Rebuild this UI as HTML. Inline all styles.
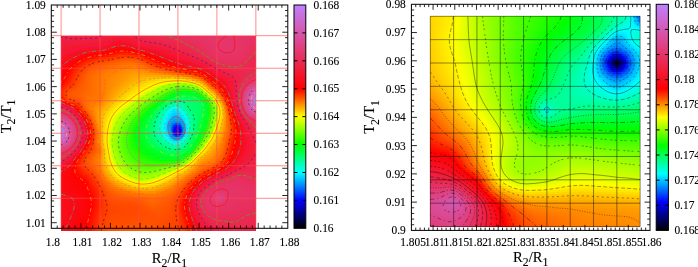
<!DOCTYPE html>
<html><head><meta charset="utf-8"><title>plot</title>
<style>html,body{margin:0;padding:0;background:#fff}svg{display:block}text{font-family:"Liberation Serif","Times New Roman",serif;font-size:12.2px;fill:#000;stroke:#000;stroke-width:.12px}</style>
</head><body>
<svg width="698" height="267" viewBox="0 0 698 267">
<defs>
<linearGradient id="a0" gradientUnits="userSpaceOnUse" x1="61.1" x2="255.85"><stop offset="0" stop-color="#ef2141"/><stop offset=".203" stop-color="#ef2041"/><stop offset=".311" stop-color="#f11c37"/><stop offset=".47" stop-color="#eb2850"/><stop offset=".768" stop-color="#e5356a"/><stop offset=".945" stop-color="#e63367"/><stop offset="1" stop-color="#e73263"/></linearGradient>
<linearGradient id="a1" gradientUnits="userSpaceOnUse" x1="61.1" x2="255.85"><stop offset="0" stop-color="#ef2040"/><stop offset=".213" stop-color="#f01f3e"/><stop offset=".308" stop-color="#f31931"/><stop offset=".452" stop-color="#ec264b"/><stop offset=".775" stop-color="#e5356a"/><stop offset=".927" stop-color="#e53468"/><stop offset="1" stop-color="#e73162"/></linearGradient>
<linearGradient id="a2" gradientUnits="userSpaceOnUse" x1="61.1" x2="255.85"><stop offset="0" stop-color="#f01f3e"/><stop offset=".213" stop-color="#f01e3b"/><stop offset=".298" stop-color="#f4152b"/><stop offset=".359" stop-color="#f21a33"/><stop offset=".429" stop-color="#ee2245"/><stop offset=".642" stop-color="#e82e5b"/><stop offset=".788" stop-color="#e5356a"/><stop offset=".924" stop-color="#e53468"/><stop offset="1" stop-color="#e73060"/></linearGradient>
<linearGradient id="a3" gradientUnits="userSpaceOnUse" x1="61.1" x2="255.85"><stop offset="0" stop-color="#f01e3d"/><stop offset=".185" stop-color="#f11d3a"/><stop offset=".228" stop-color="#f21a33"/><stop offset=".295" stop-color="#f61224"/><stop offset=".352" stop-color="#f5152a"/><stop offset=".421" stop-color="#ef203f"/><stop offset=".603" stop-color="#eb2952"/><stop offset=".775" stop-color="#e53569"/><stop offset=".922" stop-color="#e53468"/><stop offset="1" stop-color="#e82f5e"/></linearGradient>
<linearGradient id="a4" gradientUnits="userSpaceOnUse" x1="61.1" x2="255.85"><stop offset="0" stop-color="#f01e3b"/><stop offset=".169" stop-color="#f21a34"/><stop offset=".213" stop-color="#f31933"/><stop offset=".288" stop-color="#f80f1d"/><stop offset=".347" stop-color="#f71020"/><stop offset=".418" stop-color="#f11c39"/><stop offset=".552" stop-color="#ee2346"/><stop offset=".78" stop-color="#e53569"/><stop offset=".911" stop-color="#e53569"/><stop offset="1" stop-color="#e82e5d"/></linearGradient>
<linearGradient id="a5" gradientUnits="userSpaceOnUse" x1="61.1" x2="255.85"><stop offset="0" stop-color="#f11d39"/><stop offset=".108" stop-color="#f31830"/><stop offset=".182" stop-color="#f4172e"/><stop offset=".218" stop-color="#f5152a"/><stop offset=".29" stop-color="#fa0a15"/><stop offset=".344" stop-color="#f90c17"/><stop offset=".418" stop-color="#f31830"/><stop offset=".573" stop-color="#ee2345"/><stop offset=".793" stop-color="#e5356a"/><stop offset=".911" stop-color="#e53469"/><stop offset="1" stop-color="#e92e5b"/></linearGradient>
<linearGradient id="a6" gradientUnits="userSpaceOnUse" x1="61.1" x2="255.85"><stop offset="0" stop-color="#f11c37"/><stop offset=".103" stop-color="#f4152b"/><stop offset=".175" stop-color="#f61325"/><stop offset=".218" stop-color="#f71121"/><stop offset=".298" stop-color="#fc060c"/><stop offset=".354" stop-color="#fb0810"/><stop offset=".429" stop-color="#f51327"/><stop offset=".801" stop-color="#e5356a"/><stop offset=".909" stop-color="#e53569"/><stop offset="1" stop-color="#e92d59"/></linearGradient>
<linearGradient id="a7" gradientUnits="userSpaceOnUse" x1="61.1" x2="255.85"><stop offset="0" stop-color="#f21a35"/><stop offset=".095" stop-color="#f61326"/><stop offset=".172" stop-color="#f80e1b"/><stop offset=".234" stop-color="#fa0a13"/><stop offset=".308" stop-color="#fe0203"/><stop offset=".362" stop-color="#fd0409"/><stop offset=".539" stop-color="#f21a34"/><stop offset=".806" stop-color="#e5356a"/><stop offset=".906" stop-color="#e53569"/><stop offset="1" stop-color="#ea2c57"/></linearGradient>
<linearGradient id="a8" gradientUnits="userSpaceOnUse" x1="61.1" x2="255.85"><stop offset="0" stop-color="#f31932"/><stop offset=".1" stop-color="#f80f1e"/><stop offset=".185" stop-color="#fb0810"/><stop offset=".27" stop-color="#ff0001"/><stop offset=".318" stop-color="#ff0e00"/><stop offset=".352" stop-color="#ff0800"/><stop offset=".37" stop-color="#ff0001"/><stop offset=".639" stop-color="#ee2345"/><stop offset=".814" stop-color="#e5356a"/><stop offset=".917" stop-color="#e63467"/><stop offset="1" stop-color="#ea2b55"/></linearGradient>
<linearGradient id="a9" gradientUnits="userSpaceOnUse" x1="61.1" x2="255.85"><stop offset="0" stop-color="#f3182f"/><stop offset=".11" stop-color="#fa0a13"/><stop offset=".211" stop-color="#fe0204"/><stop offset=".244" stop-color="#ff0300"/><stop offset=".298" stop-color="#ff2000"/><stop offset=".341" stop-color="#ff2300"/><stop offset=".406" stop-color="#ff0700"/><stop offset=".416" stop-color="#ff0101"/><stop offset=".534" stop-color="#f61326"/><stop offset=".809" stop-color="#e53468"/><stop offset=".911" stop-color="#e63467"/><stop offset="1" stop-color="#ea2a53"/></linearGradient>
<linearGradient id="a10" gradientUnits="userSpaceOnUse" x1="61.1" x2="255.85"><stop offset="0" stop-color="#f4162b"/><stop offset=".162" stop-color="#f00"/><stop offset=".2" stop-color="#ff0e00"/><stop offset=".246" stop-color="#ff1b00"/><stop offset=".308" stop-color="#ff3500"/><stop offset=".357" stop-color="#ff3500"/><stop offset=".406" stop-color="#ff2100"/><stop offset=".436" stop-color="#f00"/><stop offset=".616" stop-color="#f21a35"/><stop offset=".75" stop-color="#ea2c57"/><stop offset=".816" stop-color="#e63467"/><stop offset=".917" stop-color="#e63365"/><stop offset="1" stop-color="#eb2951"/></linearGradient>
<linearGradient id="a11" gradientUnits="userSpaceOnUse" x1="61.1" x2="255.85"><stop offset="0" stop-color="#f51427"/><stop offset=".128" stop-color="#ff0200"/><stop offset=".193" stop-color="#ff2300"/><stop offset=".257" stop-color="#f30"/><stop offset=".318" stop-color="#ff4800"/><stop offset=".37" stop-color="#ff4600"/><stop offset=".406" stop-color="#ff3700"/><stop offset=".46" stop-color="#f00"/><stop offset=".639" stop-color="#f21a34"/><stop offset=".742" stop-color="#eb284f"/><stop offset=".809" stop-color="#e73263"/><stop offset=".917" stop-color="#e73263"/><stop offset="1" stop-color="#eb284f"/></linearGradient>
<linearGradient id="a12" gradientUnits="userSpaceOnUse" x1="61.1" x2="255.85"><stop offset="0" stop-color="#f61223"/><stop offset=".105" stop-color="#ff0200"/><stop offset=".149" stop-color="#f20"/><stop offset=".208" stop-color="#ff3900"/><stop offset=".277" stop-color="#ff4b00"/><stop offset=".339" stop-color="#ff5900"/><stop offset=".385" stop-color="#ff5400"/><stop offset=".418" stop-color="#ff4000"/><stop offset=".483" stop-color="#ff0001"/><stop offset=".655" stop-color="#f31830"/><stop offset=".747" stop-color="#ec264b"/><stop offset=".806" stop-color="#e8305f"/><stop offset=".904" stop-color="#e73162"/><stop offset="1" stop-color="#ec274e"/></linearGradient>
<linearGradient id="a13" gradientUnits="userSpaceOnUse" x1="61.1" x2="255.85"><stop offset="0" stop-color="#f70f1f"/><stop offset=".087" stop-color="#f00"/><stop offset=".128" stop-color="#ff2500"/><stop offset=".187" stop-color="#f40"/><stop offset=".295" stop-color="#ff5e00"/><stop offset=".362" stop-color="#ff6800"/><stop offset=".406" stop-color="#ff5b00"/><stop offset=".478" stop-color="#ff1a00"/><stop offset=".508" stop-color="#ff0001"/><stop offset=".662" stop-color="#f5152a"/><stop offset=".737" stop-color="#ef2040"/><stop offset=".806" stop-color="#e92d5a"/><stop offset=".901" stop-color="#e82f5f"/><stop offset=".999" stop-color="#ec274e"/><stop offset="1" stop-color="#ec274e"/></linearGradient>
<linearGradient id="a14" gradientUnits="userSpaceOnUse" x1="61.1" x2="255.85"><stop offset="0" stop-color="#f80d1b"/><stop offset=".074" stop-color="#ff0200"/><stop offset=".128" stop-color="#f30"/><stop offset=".185" stop-color="#ff5000"/><stop offset=".354" stop-color="#ff7400"/><stop offset=".395" stop-color="#ff6e00"/><stop offset=".436" stop-color="#ff5400"/><stop offset=".537" stop-color="#ff0001"/><stop offset=".67" stop-color="#f61223"/><stop offset=".737" stop-color="#f11c38"/><stop offset=".814" stop-color="#ea2b56"/><stop offset=".904" stop-color="#e92d5b"/><stop offset=".999" stop-color="#ec274e"/><stop offset="1" stop-color="#ec274e"/></linearGradient>
<linearGradient id="a15" gradientUnits="userSpaceOnUse" x1="61.1" x2="255.85"><stop offset="0" stop-color="#f90c17"/><stop offset=".062" stop-color="#ff0200"/><stop offset=".126" stop-color="#ff3d00"/><stop offset=".187" stop-color="#ff5b00"/><stop offset=".365" stop-color="#ff7f00"/><stop offset=".408" stop-color="#ff7600"/><stop offset=".478" stop-color="#ff4500"/><stop offset=".565" stop-color="#f00"/><stop offset=".727" stop-color="#f5152a"/><stop offset=".811" stop-color="#ec284f"/><stop offset=".893" stop-color="#e92c57"/><stop offset=".996" stop-color="#ec284f"/><stop offset="1" stop-color="#eb284f"/></linearGradient>
<linearGradient id="a16" gradientUnits="userSpaceOnUse" x1="61.1" x2="255.85"><stop offset="0" stop-color="#fa0a14"/><stop offset=".049" stop-color="#f00"/><stop offset=".116" stop-color="#ff3f00"/><stop offset=".172" stop-color="#ff5e00"/><stop offset=".37" stop-color="#f80"/><stop offset=".413" stop-color="#ff8100"/><stop offset=".544" stop-color="#ff2b00"/><stop offset=".601" stop-color="#ff0001"/><stop offset=".721" stop-color="#f80f1d"/><stop offset=".804" stop-color="#ee2346"/><stop offset=".883" stop-color="#eb2a53"/><stop offset=".999" stop-color="#eb2850"/><stop offset="1" stop-color="#eb2851"/></linearGradient>
<linearGradient id="a17" gradientUnits="userSpaceOnUse" x1="61.1" x2="255.85"><stop offset="0" stop-color="#fb0811"/><stop offset=".041" stop-color="#ff0100"/><stop offset=".1" stop-color="#ff3a00"/><stop offset=".157" stop-color="#ff5f00"/><stop offset=".226" stop-color="#ff7200"/><stop offset=".336" stop-color="#ff8a00"/><stop offset=".393" stop-color="#ff9100"/><stop offset=".436" stop-color="#ff8300"/><stop offset=".555" stop-color="#ff4100"/><stop offset=".652" stop-color="#ff0001"/><stop offset=".721" stop-color="#fa0913"/><stop offset=".809" stop-color="#ef2040"/><stop offset=".883" stop-color="#ec274e"/><stop offset=".994" stop-color="#eb2951"/><stop offset="1" stop-color="#eb2953"/></linearGradient>
<linearGradient id="a18" gradientUnits="userSpaceOnUse" x1="61.1" x2="255.85"><stop offset="0" stop-color="#fc070e"/><stop offset=".036" stop-color="#ff0200"/><stop offset=".09" stop-color="#ff3900"/><stop offset=".146" stop-color="#ff5f00"/><stop offset=".208" stop-color="#ff7400"/><stop offset=".318" stop-color="#ff8a00"/><stop offset=".39" stop-color="#ff9a00"/><stop offset=".442" stop-color="#ff8e00"/><stop offset=".549" stop-color="#ff6300"/><stop offset=".66" stop-color="#ff1d00"/><stop offset=".706" stop-color="#ff0101"/><stop offset=".806" stop-color="#f11c37"/><stop offset=".881" stop-color="#ed254a"/><stop offset=".994" stop-color="#ea2a53"/><stop offset="1" stop-color="#ea2b55"/></linearGradient>
<linearGradient id="a19" gradientUnits="userSpaceOnUse" x1="61.1" x2="255.85"><stop offset="0" stop-color="#fc060b"/><stop offset=".028" stop-color="#f00"/><stop offset=".085" stop-color="#ff3a00"/><stop offset=".141" stop-color="#ff6100"/><stop offset=".205" stop-color="#f70"/><stop offset=".318" stop-color="#ff8e00"/><stop offset=".39" stop-color="#ffa100"/><stop offset=".447" stop-color="#ff9b00"/><stop offset=".552" stop-color="#ff8200"/><stop offset=".634" stop-color="#ff5800"/><stop offset=".709" stop-color="#ff1d00"/><stop offset=".729" stop-color="#ff0001"/><stop offset=".804" stop-color="#f4172f"/><stop offset=".883" stop-color="#ee2346"/><stop offset=".994" stop-color="#ea2c57"/><stop offset="1" stop-color="#e92d59"/></linearGradient>
<linearGradient id="a20" gradientUnits="userSpaceOnUse" x1="61.1" x2="255.85"><stop offset="0" stop-color="#fd0509"/><stop offset=".023" stop-color="#f00"/><stop offset=".08" stop-color="#ff3a00"/><stop offset=".134" stop-color="#ff6000"/><stop offset=".198" stop-color="#ff7800"/><stop offset=".311" stop-color="#ff8f00"/><stop offset=".395" stop-color="#ffa900"/><stop offset=".542" stop-color="#ffa500"/><stop offset=".611" stop-color="#ff9100"/><stop offset=".665" stop-color="#ff6a00"/><stop offset=".709" stop-color="#ff4100"/><stop offset=".734" stop-color="#ff1300"/><stop offset=".742" stop-color="#ff0200"/><stop offset=".809" stop-color="#f51529"/><stop offset=".891" stop-color="#e24"/><stop offset=".999" stop-color="#e82f5d"/><stop offset="1" stop-color="#e82f5e"/></linearGradient>
<linearGradient id="a21" gradientUnits="userSpaceOnUse" x1="61.1" x2="255.85"><stop offset="0" stop-color="#fd0407"/><stop offset=".018" stop-color="#f00"/><stop offset=".085" stop-color="#ff4300"/><stop offset=".141" stop-color="#f60"/><stop offset=".216" stop-color="#ff7d00"/><stop offset=".311" stop-color="#ff9200"/><stop offset=".401" stop-color="#ffb100"/><stop offset=".501" stop-color="#ffc000"/><stop offset=".567" stop-color="#ffc500"/><stop offset=".616" stop-color="#fb0"/><stop offset=".665" stop-color="#ff9500"/><stop offset=".709" stop-color="#f60"/><stop offset=".737" stop-color="#ff2e00"/><stop offset=".755" stop-color="#ff0200"/><stop offset=".822" stop-color="#f51427"/><stop offset=".919" stop-color="#ed2549"/><stop offset="1" stop-color="#e63264"/></linearGradient>
<linearGradient id="a22" gradientUnits="userSpaceOnUse" x1="61.1" x2="255.85"><stop offset="0" stop-color="#fe0205"/><stop offset=".015" stop-color="#ff0300"/><stop offset=".08" stop-color="#ff4200"/><stop offset=".131" stop-color="#ff6300"/><stop offset=".211" stop-color="#ff7d00"/><stop offset=".313" stop-color="#ff9600"/><stop offset=".411" stop-color="#fb0"/><stop offset=".483" stop-color="#ffd000"/><stop offset=".542" stop-color="#ffe600"/><stop offset=".603" stop-color="#ffed00"/><stop offset=".634" stop-color="#ffe000"/><stop offset=".701" stop-color="#ff9a00"/><stop offset=".724" stop-color="#ff6f00"/><stop offset=".768" stop-color="#ff0200"/><stop offset=".858" stop-color="#f31931"/><stop offset="1" stop-color="#e4366c"/></linearGradient>
<linearGradient id="a23" gradientUnits="userSpaceOnUse" x1="61.1" x2="255.85"><stop offset="0" stop-color="#fe0103"/><stop offset=".01" stop-color="#ff0500"/><stop offset=".077" stop-color="#f40"/><stop offset=".128" stop-color="#ff6300"/><stop offset=".216" stop-color="#ff7e00"/><stop offset=".308" stop-color="#ff9800"/><stop offset=".434" stop-color="#fc0"/><stop offset=".485" stop-color="#ffe500"/><stop offset=".526" stop-color="#feff00"/><stop offset=".601" stop-color="#e3ff00"/><stop offset=".632" stop-color="#ebff00"/><stop offset=".657" stop-color="#fffc00"/><stop offset=".703" stop-color="#ffc200"/><stop offset=".724" stop-color="#ff9700"/><stop offset=".77" stop-color="#ff1a00"/><stop offset=".783" stop-color="#ff0001"/><stop offset=".899" stop-color="#ef2040"/><stop offset="1" stop-color="#e23c77"/></linearGradient>
<linearGradient id="a24" gradientUnits="userSpaceOnUse" x1="61.1" x2="255.85"><stop offset="0" stop-color="#ff0100"/><stop offset=".036" stop-color="#ff2700"/><stop offset=".098" stop-color="#ff5600"/><stop offset=".18" stop-color="#ff7500"/><stop offset=".298" stop-color="#ff9700"/><stop offset=".467" stop-color="#ffeb00"/><stop offset=".493" stop-color="#fdff00"/><stop offset=".56" stop-color="#caff00"/><stop offset=".608" stop-color="#b3ff00"/><stop offset=".637" stop-color="#bf0"/><stop offset=".668" stop-color="#dbff00"/><stop offset=".696" stop-color="#ff0"/><stop offset=".716" stop-color="#ffd600"/><stop offset=".765" stop-color="#ff4500"/><stop offset=".796" stop-color="#f00"/><stop offset=".955" stop-color="#e63365"/><stop offset="1" stop-color="#de4386"/></linearGradient>
<linearGradient id="a25" gradientUnits="userSpaceOnUse" x1="61.1" x2="255.85"><stop offset="0" stop-color="#ff0a00"/><stop offset=".031" stop-color="#ff2d00"/><stop offset=".098" stop-color="#ff5900"/><stop offset=".18" stop-color="#ff7400"/><stop offset=".277" stop-color="#ff9200"/><stop offset=".421" stop-color="#fd0"/><stop offset=".472" stop-color="#fcff00"/><stop offset=".557" stop-color="#a8ff00"/><stop offset=".601" stop-color="#87ff00"/><stop offset=".626" stop-color="#83ff00"/><stop offset=".655" stop-color="#94ff00"/><stop offset=".693" stop-color="#c5ff00"/><stop offset=".714" stop-color="#f2ff00"/><stop offset=".719" stop-color="#fffd00"/><stop offset=".76" stop-color="#ff7200"/><stop offset=".788" stop-color="#ff2c00"/><stop offset=".809" stop-color="#ff0100"/><stop offset=".942" stop-color="#e73161"/><stop offset=".988" stop-color="#dc488f"/><stop offset="1" stop-color="#da4c97"/></linearGradient>
<linearGradient id="a26" gradientUnits="userSpaceOnUse" x1="61.1" x2="255.85"><stop offset="0" stop-color="#ff1400"/><stop offset=".026" stop-color="#f30"/><stop offset=".085" stop-color="#ff5700"/><stop offset=".175" stop-color="#ff7200"/><stop offset=".246" stop-color="#f80"/><stop offset=".344" stop-color="#ffb900"/><stop offset=".439" stop-color="#fff800"/><stop offset=".454" stop-color="#f9ff00"/><stop offset=".508" stop-color="#bdff00"/><stop offset=".591" stop-color="#62ff00"/><stop offset=".619" stop-color="#52ff00"/><stop offset=".65" stop-color="#5aff00"/><stop offset=".68" stop-color="#7aff00"/><stop offset=".701" stop-color="#9fff00"/><stop offset=".716" stop-color="#c9ff00"/><stop offset=".729" stop-color="#f9ff00"/><stop offset=".734" stop-color="#fff100"/><stop offset=".755" stop-color="#ffa300"/><stop offset=".783" stop-color="#ff5600"/><stop offset=".819" stop-color="#ff0200"/><stop offset=".929" stop-color="#e82e5b"/><stop offset=".963" stop-color="#df4283"/><stop offset=".988" stop-color="#d751a1"/><stop offset="1" stop-color="#d554a8"/></linearGradient>
<linearGradient id="a27" gradientUnits="userSpaceOnUse" x1="61.1" x2="255.85"><stop offset="0" stop-color="#ff1c00"/><stop offset=".026" stop-color="#ff3e00"/><stop offset=".067" stop-color="#ff5400"/><stop offset=".167" stop-color="#ff7000"/><stop offset=".228" stop-color="#ff8100"/><stop offset=".344" stop-color="#ffc000"/><stop offset=".431" stop-color="#fdff00"/><stop offset=".485" stop-color="#c2ff00"/><stop offset=".591" stop-color="#3aff00"/><stop offset=".616" stop-color="#26ff00"/><stop offset=".647" stop-color="#27ff00"/><stop offset=".675" stop-color="#3dff00"/><stop offset=".696" stop-color="#5eff00"/><stop offset=".714" stop-color="#8fff00"/><stop offset=".732" stop-color="#d7ff00"/><stop offset=".739" stop-color="#f9ff00"/><stop offset=".745" stop-color="#fe0"/><stop offset=".763" stop-color="#ffaf00"/><stop offset=".827" stop-color="#ff0400"/><stop offset=".837" stop-color="#fd0408"/><stop offset=".922" stop-color="#e92c58"/><stop offset=".963" stop-color="#db4890"/><stop offset=".983" stop-color="#d556ac"/><stop offset="1" stop-color="#d25cb7"/></linearGradient>
<linearGradient id="a28" gradientUnits="userSpaceOnUse" x1="61.1" x2="255.85"><stop offset="0" stop-color="#ff2100"/><stop offset=".021" stop-color="#ff4100"/><stop offset=".051" stop-color="#f50"/><stop offset=".167" stop-color="#ff7000"/><stop offset=".221" stop-color="#ff7e00"/><stop offset=".341" stop-color="#ffc700"/><stop offset=".413" stop-color="#fdff00"/><stop offset=".47" stop-color="#bfff00"/><stop offset=".596" stop-color="#0eff00"/><stop offset=".614" stop-color="#00ff01"/><stop offset=".647" stop-color="#00ff05"/><stop offset=".665" stop-color="#03ff00"/><stop offset=".691" stop-color="#21ff00"/><stop offset=".709" stop-color="#4aff00"/><stop offset=".724" stop-color="#84ff00"/><stop offset=".75" stop-color="#f9ff00"/><stop offset=".755" stop-color="#fff200"/><stop offset=".834" stop-color="#ff0200"/><stop offset=".909" stop-color="#ec264c"/><stop offset=".95" stop-color="#de4386"/><stop offset=".981" stop-color="#d25ab4"/><stop offset="1" stop-color="#cf62c3"/></linearGradient>
<linearGradient id="a29" gradientUnits="userSpaceOnUse" x1="61.1" x2="255.85"><stop offset="0" stop-color="#ff2100"/><stop offset=".021" stop-color="#f40"/><stop offset=".044" stop-color="#ff5600"/><stop offset=".162" stop-color="#ff7000"/><stop offset=".211" stop-color="#ff7a00"/><stop offset=".293" stop-color="#ffae00"/><stop offset=".372" stop-color="#ffe900"/><stop offset=".398" stop-color="#fcff00"/><stop offset=".452" stop-color="#c0ff00"/><stop offset=".526" stop-color="#52ff00"/><stop offset=".58" stop-color="#0f0"/><stop offset=".611" stop-color="#0f2"/><stop offset=".647" stop-color="#00ff29"/><stop offset=".673" stop-color="#00ff1e"/><stop offset=".693" stop-color="#00ff08"/><stop offset=".701" stop-color="#06ff00"/><stop offset=".714" stop-color="#29ff00"/><stop offset=".732" stop-color="#72ff00"/><stop offset=".755" stop-color="#d7ff00"/><stop offset=".765" stop-color="#fdff00"/><stop offset=".84" stop-color="#ff0500"/><stop offset=".845" stop-color="#fe0204"/><stop offset=".911" stop-color="#eb2850"/><stop offset=".978" stop-color="#d15db8"/><stop offset="1" stop-color="#cd66cc"/></linearGradient>
<linearGradient id="a30" gradientUnits="userSpaceOnUse" x1="61.1" x2="255.85"><stop offset="0" stop-color="#ff1800"/><stop offset=".018" stop-color="#ff3d00"/><stop offset=".039" stop-color="#ff5400"/><stop offset=".095" stop-color="#ff6000"/><stop offset=".154" stop-color="#ff7100"/><stop offset=".208" stop-color="#ff7900"/><stop offset=".308" stop-color="#ffc100"/><stop offset=".372" stop-color="#fff600"/><stop offset=".385" stop-color="#faff00"/><stop offset=".444" stop-color="#b4ff00"/><stop offset=".511" stop-color="#4fff00"/><stop offset=".56" stop-color="#00ff01"/><stop offset=".598" stop-color="#00ff35"/><stop offset=".624" stop-color="#0f4"/><stop offset=".665" stop-color="#00ff41"/><stop offset=".696" stop-color="#00ff29"/><stop offset=".709" stop-color="#00ff12"/><stop offset=".714" stop-color="#00ff03"/><stop offset=".724" stop-color="#20ff00"/><stop offset=".778" stop-color="#feff00"/><stop offset=".845" stop-color="#ff0700"/><stop offset=".847" stop-color="#ff0001"/><stop offset=".909" stop-color="#ec264c"/><stop offset=".97" stop-color="#d25bb5"/><stop offset="1" stop-color="#cb6bd4"/></linearGradient>
<linearGradient id="a31" gradientUnits="userSpaceOnUse" x1="61.1" x2="255.85"><stop offset="0" stop-color="#ff0600"/><stop offset=".023" stop-color="#ff3b00"/><stop offset=".041" stop-color="#ff5000"/><stop offset=".085" stop-color="#ff5700"/><stop offset=".139" stop-color="#ff7100"/><stop offset=".203" stop-color="#ff7900"/><stop offset=".257" stop-color="#ffa000"/><stop offset=".365" stop-color="#fffc00"/><stop offset=".424" stop-color="#baff00"/><stop offset=".485" stop-color="#5fff00"/><stop offset=".539" stop-color="#01ff00"/><stop offset=".591" stop-color="#00ff4a"/><stop offset=".616" stop-color="#00ff5c"/><stop offset=".665" stop-color="#00ff56"/><stop offset=".696" stop-color="#0f4"/><stop offset=".714" stop-color="#00ff26"/><stop offset=".727" stop-color="#00ff01"/><stop offset=".745" stop-color="#40ff00"/><stop offset=".788" stop-color="#fffd00"/><stop offset=".84" stop-color="#ff2f00"/><stop offset=".852" stop-color="#f00"/><stop offset=".909" stop-color="#ec264c"/><stop offset=".94" stop-color="#df4283"/><stop offset=".965" stop-color="#d35ab3"/><stop offset="1" stop-color="#c870de"/></linearGradient>
<linearGradient id="a32" gradientUnits="userSpaceOnUse" x1="61.1" x2="255.85"><stop offset="0" stop-color="#fd0407"/><stop offset=".008" stop-color="#f00"/><stop offset=".028" stop-color="#f30"/><stop offset=".044" stop-color="#ff4500"/><stop offset=".08" stop-color="#ff4c00"/><stop offset=".131" stop-color="#ff7000"/><stop offset=".205" stop-color="#ff7d00"/><stop offset=".344" stop-color="#fff500"/><stop offset=".357" stop-color="#fcff00"/><stop offset=".431" stop-color="#9aff00"/><stop offset=".501" stop-color="#2aff00"/><stop offset=".524" stop-color="#00ff02"/><stop offset=".56" stop-color="#00ff40"/><stop offset=".596" stop-color="#00ff6c"/><stop offset=".619" stop-color="#00ff73"/><stop offset=".693" stop-color="#00ff59"/><stop offset=".714" stop-color="#00ff40"/><stop offset=".734" stop-color="#00ff0f"/><stop offset=".739" stop-color="#01ff00"/><stop offset=".757" stop-color="#4cff00"/><stop offset=".796" stop-color="#fffd00"/><stop offset=".842" stop-color="#ff3b00"/><stop offset=".858" stop-color="#ff0001"/><stop offset=".914" stop-color="#eb2952"/><stop offset=".945" stop-color="#dc488f"/><stop offset=".963" stop-color="#d35ab2"/><stop offset="1" stop-color="#c673e5"/></linearGradient>
<linearGradient id="a33" gradientUnits="userSpaceOnUse" x1="61.1" x2="255.85"><stop offset="0" stop-color="#fa0a14"/><stop offset=".021" stop-color="#ff0200"/><stop offset=".036" stop-color="#ff2800"/><stop offset=".051" stop-color="#ff3400"/><stop offset=".077" stop-color="#ff3e00"/><stop offset=".126" stop-color="#ff6d00"/><stop offset=".162" stop-color="#ff7a00"/><stop offset=".205" stop-color="#ff8400"/><stop offset=".262" stop-color="#ffb500"/><stop offset=".341" stop-color="#fcff00"/><stop offset=".39" stop-color="#c0ff00"/><stop offset=".465" stop-color="#4eff00"/><stop offset=".508" stop-color="#00ff01"/><stop offset=".552" stop-color="#00ff56"/><stop offset=".591" stop-color="#0f8"/><stop offset=".611" stop-color="#00ff8c"/><stop offset=".668" stop-color="#00ff6b"/><stop offset=".703" stop-color="#00ff5d"/><stop offset=".724" stop-color="#00ff41"/><stop offset=".739" stop-color="#00ff1b"/><stop offset=".747" stop-color="#0f0"/><stop offset=".77" stop-color="#69ff00"/><stop offset=".801" stop-color="#fcff00"/><stop offset=".86" stop-color="#ff0500"/><stop offset=".865" stop-color="#fe0306"/><stop offset=".919" stop-color="#e92d5a"/><stop offset=".963" stop-color="#d359b1"/><stop offset="1" stop-color="#c772e3"/></linearGradient>
<linearGradient id="a34" gradientUnits="userSpaceOnUse" x1="61.1" x2="255.85"><stop offset="0" stop-color="#f61223"/><stop offset=".036" stop-color="#f00"/><stop offset=".08" stop-color="#ff2f00"/><stop offset=".118" stop-color="#ff6500"/><stop offset=".149" stop-color="#ff7900"/><stop offset=".211" stop-color="#ff8f00"/><stop offset=".282" stop-color="#ffd500"/><stop offset=".326" stop-color="#fdff00"/><stop offset=".383" stop-color="#b8ff00"/><stop offset=".454" stop-color="#47ff00"/><stop offset=".493" stop-color="#01ff00"/><stop offset=".557" stop-color="#00ff84"/><stop offset=".585" stop-color="#00ffa9"/><stop offset=".606" stop-color="#00ffa9"/><stop offset=".655" stop-color="#00ff74"/><stop offset=".706" stop-color="#00ff63"/><stop offset=".724" stop-color="#00ff4e"/><stop offset=".739" stop-color="#00ff2b"/><stop offset=".752" stop-color="#01ff00"/><stop offset=".783" stop-color="#8eff00"/><stop offset=".806" stop-color="#fcff00"/><stop offset=".865" stop-color="#ff0001"/><stop offset=".914" stop-color="#ec274e"/><stop offset=".965" stop-color="#d359b1"/><stop offset="1" stop-color="#c96dd9"/></linearGradient>
<linearGradient id="a35" gradientUnits="userSpaceOnUse" x1="61.1" x2="255.85"><stop offset="0" stop-color="#f21b36"/><stop offset=".067" stop-color="#ff0101"/><stop offset=".072" stop-color="#ff0700"/><stop offset=".108" stop-color="#ff5100"/><stop offset=".136" stop-color="#ff7200"/><stop offset=".213" stop-color="#ff9a00"/><stop offset=".277" stop-color="#ffdb00"/><stop offset=".311" stop-color="#feff00"/><stop offset=".37" stop-color="#b7ff00"/><stop offset=".442" stop-color="#46ff00"/><stop offset=".48" stop-color="#0f0"/><stop offset=".529" stop-color="#00ff6b"/><stop offset=".565" stop-color="#00ffba"/><stop offset=".58" stop-color="#00ffcf"/><stop offset=".596" stop-color="#00ffcf"/><stop offset=".616" stop-color="#00ffb6"/><stop offset=".647" stop-color="#00ff7e"/><stop offset=".668" stop-color="#00ff6f"/><stop offset=".706" stop-color="#00ff67"/><stop offset=".727" stop-color="#00ff4f"/><stop offset=".742" stop-color="#00ff2c"/><stop offset=".755" stop-color="#0f0"/><stop offset=".78" stop-color="#70ff00"/><stop offset=".811" stop-color="#fffd00"/><stop offset=".868" stop-color="#ff0100"/><stop offset=".919" stop-color="#ea2a54"/><stop offset=".968" stop-color="#d458af"/><stop offset="1" stop-color="#cc68d0"/></linearGradient>
<linearGradient id="a36" gradientUnits="userSpaceOnUse" x1="61.1" x2="255.85"><stop offset="0" stop-color="#ed2549"/><stop offset=".028" stop-color="#f11d3a"/><stop offset=".082" stop-color="#ff0100"/><stop offset=".105" stop-color="#ff4000"/><stop offset=".126" stop-color="#ff6300"/><stop offset=".159" stop-color="#ff8100"/><stop offset=".216" stop-color="#ffa500"/><stop offset=".272" stop-color="#ffe100"/><stop offset=".3" stop-color="#fcff00"/><stop offset=".367" stop-color="#a8ff00"/><stop offset=".442" stop-color="#30ff00"/><stop offset=".467" stop-color="#01ff00"/><stop offset=".508" stop-color="#00ff56"/><stop offset=".565" stop-color="#00ffe0"/><stop offset=".578" stop-color="#00fff5"/><stop offset=".591" stop-color="#00fff4"/><stop offset=".608" stop-color="#00ffdc"/><stop offset=".647" stop-color="#00ff82"/><stop offset=".662" stop-color="#00ff71"/><stop offset=".709" stop-color="#0f6"/><stop offset=".729" stop-color="#00ff4d"/><stop offset=".747" stop-color="#00ff20"/><stop offset=".757" stop-color="#03ff00"/><stop offset=".786" stop-color="#7cff00"/><stop offset=".814" stop-color="#ff0"/><stop offset=".87" stop-color="#ff0400"/><stop offset=".875" stop-color="#fd0307"/><stop offset=".929" stop-color="#e73162"/><stop offset=".97" stop-color="#d556ac"/><stop offset="1" stop-color="#ce64c7"/></linearGradient>
<linearGradient id="a37" gradientUnits="userSpaceOnUse" x1="61.1" x2="255.85"><stop offset="0" stop-color="#e92d5a"/><stop offset=".026" stop-color="#ea2a54"/><stop offset=".09" stop-color="#ff0001"/><stop offset=".108" stop-color="#ff3700"/><stop offset=".131" stop-color="#ff6100"/><stop offset=".164" stop-color="#ff8400"/><stop offset=".231" stop-color="#ffbc00"/><stop offset=".288" stop-color="#feff00"/><stop offset=".362" stop-color="#9dff00"/><stop offset=".439" stop-color="#20ff00"/><stop offset=".457" stop-color="#00ff01"/><stop offset=".498" stop-color="#00ff56"/><stop offset=".565" stop-color="#00fffc"/><stop offset=".58" stop-color="#00ecff"/><stop offset=".596" stop-color="#00f4ff"/><stop offset=".606" stop-color="#00fffa"/><stop offset=".626" stop-color="#00ffc7"/><stop offset=".65" stop-color="#00ff85"/><stop offset=".665" stop-color="#00ff75"/><stop offset=".711" stop-color="#00ff62"/><stop offset=".729" stop-color="#00ff4c"/><stop offset=".75" stop-color="#00ff1a"/><stop offset=".757" stop-color="#0f0"/><stop offset=".78" stop-color="#5fff00"/><stop offset=".816" stop-color="#fffd00"/><stop offset=".873" stop-color="#ff0500"/><stop offset=".878" stop-color="#fd0306"/><stop offset=".94" stop-color="#e4376e"/><stop offset=".976" stop-color="#d555aa"/><stop offset="1" stop-color="#d05fbd"/></linearGradient>
<linearGradient id="a38" gradientUnits="userSpaceOnUse" x1="61.1" x2="255.85"><stop offset="0" stop-color="#e63467"/><stop offset=".028" stop-color="#e73060"/><stop offset=".077" stop-color="#f7101f"/><stop offset=".098" stop-color="#f00"/><stop offset=".113" stop-color="#ff2f00"/><stop offset=".139" stop-color="#ff6100"/><stop offset=".169" stop-color="#f80"/><stop offset=".244" stop-color="#ffd300"/><stop offset=".28" stop-color="#fdff00"/><stop offset=".362" stop-color="#8bff00"/><stop offset=".447" stop-color="#00ff01"/><stop offset=".488" stop-color="#00ff52"/><stop offset=".542" stop-color="#00ffd8"/><stop offset=".557" stop-color="#0ff"/><stop offset=".575" stop-color="#00dfff"/><stop offset=".591" stop-color="#00dcff"/><stop offset=".611" stop-color="#00f8ff"/><stop offset=".616" stop-color="#00fffb"/><stop offset=".637" stop-color="#00ffbd"/><stop offset=".652" stop-color="#00ff91"/><stop offset=".67" stop-color="#00ff7a"/><stop offset=".714" stop-color="#00ff5e"/><stop offset=".734" stop-color="#00ff3f"/><stop offset=".752" stop-color="#00ff10"/><stop offset=".757" stop-color="#01ff00"/><stop offset=".78" stop-color="#5fff00"/><stop offset=".816" stop-color="#feff00"/><stop offset=".875" stop-color="#ff0600"/><stop offset=".878" stop-color="#ff0102"/><stop offset=".958" stop-color="#df4182"/><stop offset=".983" stop-color="#d653a5"/><stop offset="1" stop-color="#d458b0"/></linearGradient>
<linearGradient id="a39" gradientUnits="userSpaceOnUse" x1="61.1" x2="255.85"><stop offset="0" stop-color="#e33a73"/><stop offset=".031" stop-color="#e53468"/><stop offset=".072" stop-color="#f21b36"/><stop offset=".105" stop-color="#fe0102"/><stop offset=".108" stop-color="#ff0300"/><stop offset=".128" stop-color="#ff3e00"/><stop offset=".157" stop-color="#ff7400"/><stop offset=".262" stop-color="#fff300"/><stop offset=".272" stop-color="#fdff00"/><stop offset=".367" stop-color="#73ff00"/><stop offset=".436" stop-color="#0f0"/><stop offset=".483" stop-color="#00ff57"/><stop offset=".529" stop-color="#00ffc7"/><stop offset=".549" stop-color="#00fffc"/><stop offset=".575" stop-color="#00d2ff"/><stop offset=".591" stop-color="#00ceff"/><stop offset=".608" stop-color="#00dfff"/><stop offset=".624" stop-color="#00fffe"/><stop offset=".655" stop-color="#00ffa0"/><stop offset=".673" stop-color="#00ff81"/><stop offset=".719" stop-color="#0f5"/><stop offset=".739" stop-color="#00ff2f"/><stop offset=".755" stop-color="#00ff03"/><stop offset=".768" stop-color="#2dff00"/><stop offset=".816" stop-color="#ff0"/><stop offset=".878" stop-color="#ff0700"/><stop offset=".881" stop-color="#ff0101"/><stop offset=".973" stop-color="#dd458a"/><stop offset="1" stop-color="#d850a0"/></linearGradient>
<linearGradient id="a40" gradientUnits="userSpaceOnUse" x1="61.1" x2="255.85"><stop offset="0" stop-color="#df4181"/><stop offset=".031" stop-color="#e33972"/><stop offset=".074" stop-color="#ef2142"/><stop offset=".113" stop-color="#fe0204"/><stop offset=".116" stop-color="#ff0001"/><stop offset=".141" stop-color="#ff4b00"/><stop offset=".167" stop-color="#ff7d00"/><stop offset=".221" stop-color="#ffc500"/><stop offset=".264" stop-color="#feff00"/><stop offset=".377" stop-color="#52ff00"/><stop offset=".429" stop-color="#00ff02"/><stop offset=".478" stop-color="#00ff5a"/><stop offset=".526" stop-color="#00ffcd"/><stop offset=".547" stop-color="#00fcff"/><stop offset=".567" stop-color="#00d0ff"/><stop offset=".583" stop-color="#00c1ff"/><stop offset=".601" stop-color="#00c5ff"/><stop offset=".616" stop-color="#00daff"/><stop offset=".632" stop-color="#00fffc"/><stop offset=".66" stop-color="#00ffa4"/><stop offset=".68" stop-color="#00ff7e"/><stop offset=".724" stop-color="#00ff49"/><stop offset=".745" stop-color="#00ff1c"/><stop offset=".755" stop-color="#04ff00"/><stop offset=".775" stop-color="#54ff00"/><stop offset=".814" stop-color="#faff00"/><stop offset=".819" stop-color="#ffef00"/><stop offset=".883" stop-color="#ff0001"/><stop offset=".968" stop-color="#e23b75"/><stop offset="1" stop-color="#dc478e"/></linearGradient>
<linearGradient id="a41" gradientUnits="userSpaceOnUse" x1="61.1" x2="255.85"><stop offset="0" stop-color="#db4992"/><stop offset=".031" stop-color="#e03f7e"/><stop offset=".077" stop-color="#ec264c"/><stop offset=".121" stop-color="#fe0204"/><stop offset=".123" stop-color="#ff0001"/><stop offset=".149" stop-color="#ff5000"/><stop offset=".175" stop-color="#ff8500"/><stop offset=".257" stop-color="#fffd00"/><stop offset=".372" stop-color="#4cff00"/><stop offset=".418" stop-color="#0f0"/><stop offset=".47" stop-color="#00ff56"/><stop offset=".508" stop-color="#00ffab"/><stop offset=".542" stop-color="#00feff"/><stop offset=".565" stop-color="#00c6ff"/><stop offset=".58" stop-color="#00b3ff"/><stop offset=".598" stop-color="#00b3ff"/><stop offset=".616" stop-color="#00c8ff"/><stop offset=".637" stop-color="#00fffc"/><stop offset=".662" stop-color="#00ffa9"/><stop offset=".683" stop-color="#00ff7d"/><stop offset=".724" stop-color="#00ff45"/><stop offset=".745" stop-color="#00ff15"/><stop offset=".752" stop-color="#03ff00"/><stop offset=".775" stop-color="#5eff00"/><stop offset=".811" stop-color="#f9ff00"/><stop offset=".816" stop-color="#fff100"/><stop offset=".886" stop-color="#f00"/><stop offset=".963" stop-color="#e73162"/><stop offset="1" stop-color="#e03f7e"/></linearGradient>
<linearGradient id="a42" gradientUnits="userSpaceOnUse" x1="61.1" x2="255.85"><stop offset="0" stop-color="#d752a4"/><stop offset=".028" stop-color="#db4890"/><stop offset=".056" stop-color="#e4376d"/><stop offset=".082" stop-color="#ec274e"/><stop offset=".128" stop-color="#ff0102"/><stop offset=".134" stop-color="#ff0f00"/><stop offset=".151" stop-color="#ff4900"/><stop offset=".177" stop-color="#ff8400"/><stop offset=".226" stop-color="#ffd500"/><stop offset=".254" stop-color="#feff00"/><stop offset=".411" stop-color="#00ff01"/><stop offset=".467" stop-color="#00ff5a"/><stop offset=".503" stop-color="#00ffa7"/><stop offset=".537" stop-color="#0ff"/><stop offset=".565" stop-color="#00b5ff"/><stop offset=".58" stop-color="#009eff"/><stop offset=".601" stop-color="#009eff"/><stop offset=".616" stop-color="#00b2ff"/><stop offset=".632" stop-color="#00dfff"/><stop offset=".639" stop-color="#00fbff"/><stop offset=".65" stop-color="#0fd"/><stop offset=".668" stop-color="#00ffa1"/><stop offset=".688" stop-color="#00ff75"/><stop offset=".727" stop-color="#00ff3c"/><stop offset=".745" stop-color="#00ff10"/><stop offset=".75" stop-color="#01ff00"/><stop offset=".77" stop-color="#53ff00"/><stop offset=".806" stop-color="#f1ff00"/><stop offset=".811" stop-color="#fffa00"/><stop offset=".842" stop-color="#ff9600"/><stop offset=".886" stop-color="#ff0b00"/><stop offset=".888" stop-color="#ff0200"/><stop offset=".963" stop-color="#e92c57"/><stop offset="1" stop-color="#e33971"/></linearGradient>
<linearGradient id="a43" gradientUnits="userSpaceOnUse" x1="61.1" x2="255.85"><stop offset="0" stop-color="#d25ab4"/><stop offset=".026" stop-color="#d652a4"/><stop offset=".067" stop-color="#e4366c"/><stop offset=".113" stop-color="#f71122"/><stop offset=".134" stop-color="#ff0101"/><stop offset=".139" stop-color="#f10"/><stop offset=".159" stop-color="#ff5300"/><stop offset=".187" stop-color="#ff9300"/><stop offset=".249" stop-color="#fffe00"/><stop offset=".403" stop-color="#01ff00"/><stop offset=".47" stop-color="#0f6"/><stop offset=".501" stop-color="#00ffa8"/><stop offset=".534" stop-color="#00fcff"/><stop offset=".57" stop-color="#0093ff"/><stop offset=".585" stop-color="#007bff"/><stop offset=".601" stop-color="#007bff"/><stop offset=".614" stop-color="#008fff"/><stop offset=".626" stop-color="#00b7ff"/><stop offset=".644" stop-color="#00fffc"/><stop offset=".665" stop-color="#00ffac"/><stop offset=".683" stop-color="#00ff7c"/><stop offset=".729" stop-color="#00ff34"/><stop offset=".747" stop-color="#00ff02"/><stop offset=".765" stop-color="#46ff00"/><stop offset=".804" stop-color="#f4ff00"/><stop offset=".806" stop-color="#feff00"/><stop offset=".834" stop-color="#ffa900"/><stop offset=".883" stop-color="#ff1d00"/><stop offset=".891" stop-color="#ff0400"/><stop offset=".899" stop-color="#fd0407"/><stop offset=".96" stop-color="#ec264c"/><stop offset="1" stop-color="#e53468"/></linearGradient>
<linearGradient id="a44" gradientUnits="userSpaceOnUse" x1="61.1" x2="255.85"><stop offset="0" stop-color="#cf61c2"/><stop offset=".028" stop-color="#d457ae"/><stop offset=".113" stop-color="#f5152a"/><stop offset=".139" stop-color="#f00"/><stop offset=".159" stop-color="#ff4700"/><stop offset=".187" stop-color="#ff8f00"/><stop offset=".244" stop-color="#fffb00"/><stop offset=".249" stop-color="#faff00"/><stop offset=".352" stop-color="#4bff00"/><stop offset=".401" stop-color="#00ff03"/><stop offset=".47" stop-color="#00ff6b"/><stop offset=".501" stop-color="#00ffad"/><stop offset=".531" stop-color="#00fcff"/><stop offset=".557" stop-color="#00a6ff"/><stop offset=".575" stop-color="#0067ff"/><stop offset=".588" stop-color="#004bff"/><stop offset=".598" stop-color="#0047ff"/><stop offset=".606" stop-color="#0051ff"/><stop offset=".616" stop-color="#0071ff"/><stop offset=".639" stop-color="#00dfff"/><stop offset=".644" stop-color="#00f8ff"/><stop offset=".647" stop-color="#00fff9"/><stop offset=".665" stop-color="#00ffad"/><stop offset=".68" stop-color="#00ff7f"/><stop offset=".711" stop-color="#00ff4f"/><stop offset=".729" stop-color="#00ff30"/><stop offset=".745" stop-color="#00ff05"/><stop offset=".75" stop-color="#0dff00"/><stop offset=".775" stop-color="#81ff00"/><stop offset=".801" stop-color="#f5ff00"/><stop offset=".804" stop-color="#feff00"/><stop offset=".824" stop-color="#ffc000"/><stop offset=".881" stop-color="#ff2c00"/><stop offset=".896" stop-color="#ff0001"/><stop offset=".96" stop-color="#ee2345"/><stop offset="1" stop-color="#e73161"/></linearGradient>
<linearGradient id="a45" gradientUnits="userSpaceOnUse" x1="61.1" x2="255.85"><stop offset="0" stop-color="#cc67ce"/><stop offset=".036" stop-color="#d556ab"/><stop offset=".116" stop-color="#f4162d"/><stop offset=".144" stop-color="#ff0200"/><stop offset=".164" stop-color="#ff4c00"/><stop offset=".195" stop-color="#ff9c00"/><stop offset=".244" stop-color="#feff00"/><stop offset=".326" stop-color="#6cff00"/><stop offset=".393" stop-color="#02ff00"/><stop offset=".467" stop-color="#00ff6b"/><stop offset=".498" stop-color="#0fa"/><stop offset=".529" stop-color="#00fffd"/><stop offset=".549" stop-color="#0bf"/><stop offset=".583" stop-color="#0028ff"/><stop offset=".593" stop-color="#0010ff"/><stop offset=".598" stop-color="#000fff"/><stop offset=".606" stop-color="#001eff"/><stop offset=".614" stop-color="#003eff"/><stop offset=".644" stop-color="#00f2ff"/><stop offset=".647" stop-color="#00fffe"/><stop offset=".665" stop-color="#00ffad"/><stop offset=".68" stop-color="#00ff7d"/><stop offset=".703" stop-color="#00ff56"/><stop offset=".729" stop-color="#00ff2c"/><stop offset=".745" stop-color="#01ff00"/><stop offset=".763" stop-color="#50ff00"/><stop offset=".793" stop-color="#e0ff00"/><stop offset=".801" stop-color="#ff0"/><stop offset=".822" stop-color="#ffc000"/><stop offset=".878" stop-color="#ff3700"/><stop offset=".896" stop-color="#ff0400"/><stop offset=".904" stop-color="#fd0307"/><stop offset=".965" stop-color="#e24"/><stop offset="1" stop-color="#e82e5c"/></linearGradient>
<linearGradient id="a46" gradientUnits="userSpaceOnUse" x1="61.1" x2="255.85"><stop offset="0" stop-color="#c96dd9"/><stop offset=".046" stop-color="#d751a2"/><stop offset=".126" stop-color="#f71122"/><stop offset=".146" stop-color="#ff0001"/><stop offset=".169" stop-color="#ff5200"/><stop offset=".198" stop-color="#ff9e00"/><stop offset=".241" stop-color="#fffe00"/><stop offset=".308" stop-color="#82ff00"/><stop offset=".39" stop-color="#0f0"/><stop offset=".47" stop-color="#00ff73"/><stop offset=".501" stop-color="#00ffb2"/><stop offset=".529" stop-color="#00fffd"/><stop offset=".547" stop-color="#00c6ff"/><stop offset=".56" stop-color="#008cff"/><stop offset=".58" stop-color="#01f"/><stop offset=".583" stop-color="#0005ff"/><stop offset=".588" stop-color="#0000ef"/><stop offset=".593" stop-color="#0000e2"/><stop offset=".598" stop-color="#0000e0"/><stop offset=".603" stop-color="#0000e8"/><stop offset=".608" stop-color="#0000fc"/><stop offset=".611" stop-color="#0009ff"/><stop offset=".621" stop-color="#0050ff"/><stop offset=".634" stop-color="#00b2ff"/><stop offset=".647" stop-color="#00fffe"/><stop offset=".662" stop-color="#00ffb6"/><stop offset=".678" stop-color="#00ff84"/><stop offset=".698" stop-color="#00ff5b"/><stop offset=".729" stop-color="#00ff23"/><stop offset=".742" stop-color="#03ff00"/><stop offset=".757" stop-color="#46ff00"/><stop offset=".786" stop-color="#ceff00"/><stop offset=".798" stop-color="#fffd00"/><stop offset=".816" stop-color="#ffc700"/><stop offset=".873" stop-color="#ff4600"/><stop offset=".899" stop-color="#f00"/><stop offset=".968" stop-color="#ef2142"/><stop offset="1" stop-color="#e92c57"/></linearGradient>
<linearGradient id="a47" gradientUnits="userSpaceOnUse" x1="61.1" x2="255.85"><stop offset="0" stop-color="#c673e5"/><stop offset=".054" stop-color="#d94d99"/><stop offset=".09" stop-color="#e73161"/><stop offset=".126" stop-color="#f51427"/><stop offset=".149" stop-color="#ff0001"/><stop offset=".169" stop-color="#ff4b00"/><stop offset=".198" stop-color="#ff9b00"/><stop offset=".239" stop-color="#fffc00"/><stop offset=".303" stop-color="#84ff00"/><stop offset=".385" stop-color="#03ff00"/><stop offset=".462" stop-color="#00ff68"/><stop offset=".498" stop-color="#00ffab"/><stop offset=".531" stop-color="#00feff"/><stop offset=".549" stop-color="#00c5ff"/><stop offset=".56" stop-color="#0096ff"/><stop offset=".57" stop-color="#004eff"/><stop offset=".58" stop-color="#0000fd"/><stop offset=".585" stop-color="#0000df"/><stop offset=".591" stop-color="#0000ca"/><stop offset=".596" stop-color="#0000c0"/><stop offset=".601" stop-color="#0000c1"/><stop offset=".606" stop-color="#0000cf"/><stop offset=".611" stop-color="#0000e9"/><stop offset=".614" stop-color="#0000fb"/><stop offset=".616" stop-color="#000fff"/><stop offset=".632" stop-color="#009eff"/><stop offset=".642" stop-color="#00e5ff"/><stop offset=".647" stop-color="#00fffb"/><stop offset=".662" stop-color="#00ffb3"/><stop offset=".678" stop-color="#00ff82"/><stop offset=".709" stop-color="#00ff43"/><stop offset=".732" stop-color="#00ff0d"/><stop offset=".737" stop-color="#03ff00"/><stop offset=".755" stop-color="#4dff00"/><stop offset=".783" stop-color="#d5ff00"/><stop offset=".793" stop-color="#feff00"/><stop offset=".814" stop-color="#ffc500"/><stop offset=".863" stop-color="#ff5e00"/><stop offset=".899" stop-color="#f00"/><stop offset=".973" stop-color="#ef2143"/><stop offset="1" stop-color="#ea2a53"/></linearGradient>
<linearGradient id="a48" gradientUnits="userSpaceOnUse" x1="61.1" x2="255.85"><stop offset="0" stop-color="#c479f1"/><stop offset=".064" stop-color="#d48"/><stop offset=".09" stop-color="#e63264"/><stop offset=".121" stop-color="#f21a34"/><stop offset=".149" stop-color="#fe0103"/><stop offset=".151" stop-color="#ff0300"/><stop offset=".172" stop-color="#ff4f00"/><stop offset=".218" stop-color="#ffce00"/><stop offset=".239" stop-color="#ff0"/><stop offset=".285" stop-color="#9eff00"/><stop offset=".347" stop-color="#38ff00"/><stop offset=".385" stop-color="#0f0"/><stop offset=".465" stop-color="#00ff6c"/><stop offset=".503" stop-color="#00ffb3"/><stop offset=".534" stop-color="#00fffd"/><stop offset=".549" stop-color="#00d1ff"/><stop offset=".56" stop-color="#00a3ff"/><stop offset=".565" stop-color="#0083ff"/><stop offset=".58" stop-color="#0001ff"/><stop offset=".588" stop-color="#0000d5"/><stop offset=".593" stop-color="#0000c4"/><stop offset=".596" stop-color="#0000be"/><stop offset=".601" stop-color="#0000bf"/><stop offset=".606" stop-color="#00c"/><stop offset=".614" stop-color="#0000f6"/><stop offset=".616" stop-color="#0009ff"/><stop offset=".632" stop-color="#009dff"/><stop offset=".642" stop-color="#00ebff"/><stop offset=".644" stop-color="#00fbff"/><stop offset=".655" stop-color="#00ffcd"/><stop offset=".67" stop-color="#00ff93"/><stop offset=".691" stop-color="#00ff61"/><stop offset=".721" stop-color="#00ff1b"/><stop offset=".729" stop-color="#00ff03"/><stop offset=".737" stop-color="#18ff00"/><stop offset=".755" stop-color="#64ff00"/><stop offset=".786" stop-color="#f3ff00"/><stop offset=".788" stop-color="#fcff00"/><stop offset=".811" stop-color="#ffc100"/><stop offset=".86" stop-color="#ff6200"/><stop offset=".899" stop-color="#f00"/><stop offset=".976" stop-color="#ef2141"/><stop offset="1" stop-color="#eb2850"/></linearGradient>
<linearGradient id="a49" gradientUnits="userSpaceOnUse" x1="61.1" x2="255.85"><stop offset="0" stop-color="#c379f1"/><stop offset=".041" stop-color="#d359b0"/><stop offset=".082" stop-color="#e4366c"/><stop offset=".11" stop-color="#ee2347"/><stop offset=".151" stop-color="#ff0100"/><stop offset=".172" stop-color="#ff4c00"/><stop offset=".218" stop-color="#ffcf00"/><stop offset=".239" stop-color="#fcff00"/><stop offset=".277" stop-color="#a8ff00"/><stop offset=".329" stop-color="#4fff00"/><stop offset=".385" stop-color="#00ff02"/><stop offset=".462" stop-color="#00ff67"/><stop offset=".506" stop-color="#00ffb2"/><stop offset=".534" stop-color="#00fff2"/><stop offset=".539" stop-color="#00feff"/><stop offset=".552" stop-color="#00d1ff"/><stop offset=".562" stop-color="#009dff"/><stop offset=".583" stop-color="#0013ff"/><stop offset=".585" stop-color="#0005ff"/><stop offset=".591" stop-color="#00e"/><stop offset=".596" stop-color="#0000e2"/><stop offset=".601" stop-color="#0000e4"/><stop offset=".608" stop-color="#0001ff"/><stop offset=".616" stop-color="#0031ff"/><stop offset=".637" stop-color="#00d9ff"/><stop offset=".642" stop-color="#00fcff"/><stop offset=".655" stop-color="#00ffc0"/><stop offset=".67" stop-color="#00ff8a"/><stop offset=".714" stop-color="#00ff23"/><stop offset=".724" stop-color="#00ff03"/><stop offset=".737" stop-color="#2dff00"/><stop offset=".78" stop-color="#efff00"/><stop offset=".786" stop-color="#fffc00"/><stop offset=".801" stop-color="#ffcf00"/><stop offset=".829" stop-color="#ff9800"/><stop offset=".86" stop-color="#ff5e00"/><stop offset=".899" stop-color="#ff0001"/><stop offset=".976" stop-color="#f01f3e"/><stop offset="1" stop-color="#ec264c"/></linearGradient>
<linearGradient id="a50" gradientUnits="userSpaceOnUse" x1="61.1" x2="255.85"><stop offset="0" stop-color="#c673e6"/><stop offset=".056" stop-color="#da4b95"/><stop offset=".09" stop-color="#e73161"/><stop offset=".128" stop-color="#f61224"/><stop offset=".151" stop-color="#ff0200"/><stop offset=".172" stop-color="#ff4c00"/><stop offset=".231" stop-color="#fff200"/><stop offset=".236" stop-color="#ff0"/><stop offset=".272" stop-color="#aeff00"/><stop offset=".316" stop-color="#60ff00"/><stop offset=".38" stop-color="#05ff00"/><stop offset=".39" stop-color="#00ff08"/><stop offset=".465" stop-color="#00ff67"/><stop offset=".516" stop-color="#00ffbc"/><stop offset=".539" stop-color="#00fff2"/><stop offset=".544" stop-color="#00fdff"/><stop offset=".56" stop-color="#00c0ff"/><stop offset=".58" stop-color="#0056ff"/><stop offset=".591" stop-color="#0032ff"/><stop offset=".596" stop-color="#002bff"/><stop offset=".601" stop-color="#002eff"/><stop offset=".608" stop-color="#0047ff"/><stop offset=".616" stop-color="#006fff"/><stop offset=".637" stop-color="#00fdff"/><stop offset=".652" stop-color="#00ffb6"/><stop offset=".67" stop-color="#00ff7e"/><stop offset=".709" stop-color="#00ff26"/><stop offset=".719" stop-color="#00ff04"/><stop offset=".724" stop-color="#0fff00"/><stop offset=".778" stop-color="#f5ff00"/><stop offset=".78" stop-color="#feff00"/><stop offset=".801" stop-color="#ffc500"/><stop offset=".842" stop-color="#ff7b00"/><stop offset=".875" stop-color="#ff3500"/><stop offset=".896" stop-color="#ff0300"/><stop offset=".983" stop-color="#ef2040"/><stop offset="1" stop-color="#ed2549"/></linearGradient>
<linearGradient id="a51" gradientUnits="userSpaceOnUse" x1="61.1" x2="255.85"><stop offset="0" stop-color="#c96dd9"/><stop offset=".046" stop-color="#d751a2"/><stop offset=".149" stop-color="#f00"/><stop offset=".175" stop-color="#f50"/><stop offset=".236" stop-color="#fdff00"/><stop offset=".272" stop-color="#af0"/><stop offset=".321" stop-color="#5f0"/><stop offset=".385" stop-color="#0f0"/><stop offset=".462" stop-color="#00ff5e"/><stop offset=".519" stop-color="#00ffb4"/><stop offset=".542" stop-color="#00ffe7"/><stop offset=".549" stop-color="#00fffd"/><stop offset=".565" stop-color="#00c9ff"/><stop offset=".58" stop-color="#0093ff"/><stop offset=".588" stop-color="#0085ff"/><stop offset=".598" stop-color="#0084ff"/><stop offset=".608" stop-color="#0095ff"/><stop offset=".619" stop-color="#00bfff"/><stop offset=".629" stop-color="#00f7ff"/><stop offset=".632" stop-color="#00fff8"/><stop offset=".647" stop-color="#00ffb2"/><stop offset=".662" stop-color="#00ff82"/><stop offset=".703" stop-color="#00ff28"/><stop offset=".716" stop-color="#03ff00"/><stop offset=".763" stop-color="#ceff00"/><stop offset=".775" stop-color="#fdff00"/><stop offset=".798" stop-color="#ffc100"/><stop offset=".863" stop-color="#ff4d00"/><stop offset=".896" stop-color="#ff0100"/><stop offset=".986" stop-color="#f01f3f"/><stop offset="1" stop-color="#ee2346"/></linearGradient>
<linearGradient id="a52" gradientUnits="userSpaceOnUse" x1="61.1" x2="255.85"><stop offset="0" stop-color="#cc67ce"/><stop offset=".036" stop-color="#d556ab"/><stop offset=".146" stop-color="#f00"/><stop offset=".172" stop-color="#ff5000"/><stop offset=".223" stop-color="#ffde00"/><stop offset=".234" stop-color="#fffc00"/><stop offset=".272" stop-color="#a8ff00"/><stop offset=".313" stop-color="#60ff00"/><stop offset=".37" stop-color="#14ff00"/><stop offset=".39" stop-color="#00ff03"/><stop offset=".472" stop-color="#00ff64"/><stop offset=".524" stop-color="#00ffae"/><stop offset=".549" stop-color="#00ffe4"/><stop offset=".56" stop-color="#00feff"/><stop offset=".578" stop-color="#00d0ff"/><stop offset=".591" stop-color="#00c1ff"/><stop offset=".603" stop-color="#00caff"/><stop offset=".616" stop-color="#00e9ff"/><stop offset=".621" stop-color="#00fcff"/><stop offset=".647" stop-color="#00ff9e"/><stop offset=".665" stop-color="#00ff6e"/><stop offset=".698" stop-color="#00ff25"/><stop offset=".711" stop-color="#03ff00"/><stop offset=".729" stop-color="#54ff00"/><stop offset=".752" stop-color="#bfff00"/><stop offset=".768" stop-color="#f8ff00"/><stop offset=".77" stop-color="#fffe00"/><stop offset=".791" stop-color="#ffc700"/><stop offset=".832" stop-color="#ff8000"/><stop offset=".868" stop-color="#ff3c00"/><stop offset=".896" stop-color="#ff0001"/><stop offset=".983" stop-color="#f01e3b"/><stop offset="1" stop-color="#e24"/></linearGradient>
<linearGradient id="a53" gradientUnits="userSpaceOnUse" x1="61.1" x2="255.85"><stop offset="0" stop-color="#cf62c2"/><stop offset=".028" stop-color="#d457ae"/><stop offset=".11" stop-color="#f31830"/><stop offset=".141" stop-color="#ff0101"/><stop offset=".151" stop-color="#ff1d00"/><stop offset=".205" stop-color="#ffa700"/><stop offset=".234" stop-color="#fffc00"/><stop offset=".272" stop-color="#a6ff00"/><stop offset=".316" stop-color="#5bff00"/><stop offset=".37" stop-color="#16ff00"/><stop offset=".393" stop-color="#00ff02"/><stop offset=".485" stop-color="#00ff6a"/><stop offset=".534" stop-color="#00ffad"/><stop offset=".575" stop-color="#00fffd"/><stop offset=".591" stop-color="#00f3ff"/><stop offset=".603" stop-color="#00faff"/><stop offset=".611" stop-color="#00fff6"/><stop offset=".634" stop-color="#00ffb5"/><stop offset=".657" stop-color="#00ff74"/><stop offset=".691" stop-color="#00ff25"/><stop offset=".703" stop-color="#02ff00"/><stop offset=".719" stop-color="#42ff00"/><stop offset=".747" stop-color="#c8ff00"/><stop offset=".76" stop-color="#f8ff00"/><stop offset=".763" stop-color="#fffe00"/><stop offset=".783" stop-color="#ffca00"/><stop offset=".822" stop-color="#ff8b00"/><stop offset=".858" stop-color="#ff4c00"/><stop offset=".893" stop-color="#f00"/><stop offset=".981" stop-color="#f11c38"/><stop offset="1" stop-color="#ef2142"/></linearGradient>
<linearGradient id="a54" gradientUnits="userSpaceOnUse" x1="61.1" x2="255.85"><stop offset="0" stop-color="#d25bb4"/><stop offset=".028" stop-color="#d751a1"/><stop offset=".095" stop-color="#ef2142"/><stop offset=".136" stop-color="#ff0102"/><stop offset=".141" stop-color="#ff0c00"/><stop offset=".162" stop-color="#ff3f00"/><stop offset=".198" stop-color="#ff8c00"/><stop offset=".223" stop-color="#ffda00"/><stop offset=".236" stop-color="#fcff00"/><stop offset=".264" stop-color="#b7ff00"/><stop offset=".3" stop-color="#74ff00"/><stop offset=".349" stop-color="#30ff00"/><stop offset=".398" stop-color="#00ff02"/><stop offset=".513" stop-color="#00ff7e"/><stop offset=".578" stop-color="#00ffd8"/><stop offset=".596" stop-color="#00ffde"/><stop offset=".611" stop-color="#00ffce"/><stop offset=".634" stop-color="#00ff9f"/><stop offset=".678" stop-color="#00ff37"/><stop offset=".696" stop-color="#02ff00"/><stop offset=".716" stop-color="#58ff00"/><stop offset=".747" stop-color="#e8ff00"/><stop offset=".752" stop-color="#fbff00"/><stop offset=".763" stop-color="#ffe600"/><stop offset=".788" stop-color="#ffb400"/><stop offset=".837" stop-color="#ff6e00"/><stop offset=".883" stop-color="#f10"/><stop offset=".891" stop-color="#f00"/><stop offset=".981" stop-color="#f11c37"/><stop offset="1" stop-color="#ef2041"/></linearGradient>
<linearGradient id="a55" gradientUnits="userSpaceOnUse" x1="61.1" x2="255.85"><stop offset="0" stop-color="#d752a4"/><stop offset=".031" stop-color="#dc468c"/><stop offset=".062" stop-color="#e53468"/><stop offset=".087" stop-color="#ee2346"/><stop offset=".131" stop-color="#fe0103"/><stop offset=".134" stop-color="#f00"/><stop offset=".149" stop-color="#ff2b00"/><stop offset=".195" stop-color="#ff7e00"/><stop offset=".216" stop-color="#ffb900"/><stop offset=".236" stop-color="#fffd00"/><stop offset=".27" stop-color="#aeff00"/><stop offset=".311" stop-color="#6f0"/><stop offset=".354" stop-color="#2eff00"/><stop offset=".403" stop-color="#00ff01"/><stop offset=".534" stop-color="#00ff85"/><stop offset=".573" stop-color="#00ffb0"/><stop offset=".593" stop-color="#00ffb5"/><stop offset=".614" stop-color="#00ffa8"/><stop offset=".647" stop-color="#00ff74"/><stop offset=".67" stop-color="#00ff3e"/><stop offset=".685" stop-color="#00ff0b"/><stop offset=".688" stop-color="#00ff01"/><stop offset=".711" stop-color="#63ff00"/><stop offset=".742" stop-color="#efff00"/><stop offset=".747" stop-color="#fffb00"/><stop offset=".76" stop-color="#ffd700"/><stop offset=".783" stop-color="#ffb000"/><stop offset=".829" stop-color="#f70"/><stop offset=".87" stop-color="#ff2700"/><stop offset=".888" stop-color="#f00"/><stop offset=".981" stop-color="#f11b37"/><stop offset="1" stop-color="#ef2040"/></linearGradient>
<linearGradient id="a56" gradientUnits="userSpaceOnUse" x1="61.1" x2="255.85"><stop offset="0" stop-color="#db4992"/><stop offset=".036" stop-color="#e23b76"/><stop offset=".077" stop-color="#ec274d"/><stop offset=".123" stop-color="#fe0306"/><stop offset=".128" stop-color="#f00"/><stop offset=".146" stop-color="#ff2e00"/><stop offset=".172" stop-color="#ff5400"/><stop offset=".198" stop-color="#ff7c00"/><stop offset=".218" stop-color="#ffb900"/><stop offset=".239" stop-color="#fffd00"/><stop offset=".267" stop-color="#b8ff00"/><stop offset=".303" stop-color="#74ff00"/><stop offset=".347" stop-color="#3aff00"/><stop offset=".408" stop-color="#01ff00"/><stop offset=".537" stop-color="#00ff75"/><stop offset=".573" stop-color="#00ff92"/><stop offset=".611" stop-color="#00ff8c"/><stop offset=".637" stop-color="#00ff73"/><stop offset=".66" stop-color="#00ff4a"/><stop offset=".675" stop-color="#00ff1c"/><stop offset=".683" stop-color="#03ff00"/><stop offset=".727" stop-color="#cf0"/><stop offset=".739" stop-color="#feff00"/><stop offset=".755" stop-color="#ffd200"/><stop offset=".775" stop-color="#ffaf00"/><stop offset=".824" stop-color="#ff7b00"/><stop offset=".858" stop-color="#ff3d00"/><stop offset=".886" stop-color="#f00"/><stop offset=".978" stop-color="#f21b36"/><stop offset="1" stop-color="#ef2040"/></linearGradient>
<linearGradient id="a57" gradientUnits="userSpaceOnUse" x1="61.1" x2="255.85"><stop offset="0" stop-color="#df4181"/><stop offset=".039" stop-color="#e53468"/><stop offset=".077" stop-color="#ef2040"/><stop offset=".118" stop-color="#fe0204"/><stop offset=".123" stop-color="#ff0500"/><stop offset=".144" stop-color="#ff3400"/><stop offset=".182" stop-color="#ff6100"/><stop offset=".2" stop-color="#ff7c00"/><stop offset=".223" stop-color="#ffc400"/><stop offset=".241" stop-color="#fffe00"/><stop offset=".27" stop-color="#b7ff00"/><stop offset=".303" stop-color="#78ff00"/><stop offset=".347" stop-color="#3eff00"/><stop offset=".408" stop-color="#08ff00"/><stop offset=".424" stop-color="#00ff04"/><stop offset=".56" stop-color="#00ff73"/><stop offset=".585" stop-color="#00ff79"/><stop offset=".624" stop-color="#00ff6a"/><stop offset=".647" stop-color="#00ff4d"/><stop offset=".665" stop-color="#00ff27"/><stop offset=".675" stop-color="#00ff03"/><stop offset=".685" stop-color="#2fff00"/><stop offset=".709" stop-color="#a2ff00"/><stop offset=".729" stop-color="#f4ff00"/><stop offset=".732" stop-color="#fdff00"/><stop offset=".752" stop-color="#ffc900"/><stop offset=".773" stop-color="#ffa900"/><stop offset=".822" stop-color="#ff7900"/><stop offset=".85" stop-color="#ff4800"/><stop offset=".883" stop-color="#f00"/><stop offset=".97" stop-color="#f21a33"/><stop offset="1" stop-color="#ef2040"/></linearGradient>
<linearGradient id="a58" gradientUnits="userSpaceOnUse" x1="61.1" x2="255.85"><stop offset="0" stop-color="#e23a74"/><stop offset=".039" stop-color="#e82f5d"/><stop offset=".077" stop-color="#f21933"/><stop offset=".113" stop-color="#f00"/><stop offset=".134" stop-color="#ff2f00"/><stop offset=".159" stop-color="#ff5000"/><stop offset=".193" stop-color="#ff7000"/><stop offset=".208" stop-color="#ff9200"/><stop offset=".244" stop-color="#fdff00"/><stop offset=".272" stop-color="#b6ff00"/><stop offset=".306" stop-color="#79ff00"/><stop offset=".347" stop-color="#43ff00"/><stop offset=".403" stop-color="#13ff00"/><stop offset=".434" stop-color="#00ff02"/><stop offset=".549" stop-color="#00ff59"/><stop offset=".585" stop-color="#00ff64"/><stop offset=".616" stop-color="#00ff5a"/><stop offset=".637" stop-color="#00ff42"/><stop offset=".657" stop-color="#00ff18"/><stop offset=".665" stop-color="#00ff02"/><stop offset=".673" stop-color="#19ff00"/><stop offset=".703" stop-color="#b7ff00"/><stop offset=".721" stop-color="#faff00"/><stop offset=".727" stop-color="#fff400"/><stop offset=".747" stop-color="#ffc400"/><stop offset=".77" stop-color="#ffa300"/><stop offset=".819" stop-color="#ff7600"/><stop offset=".845" stop-color="#ff4c00"/><stop offset=".881" stop-color="#f00"/><stop offset=".96" stop-color="#f31830"/><stop offset="1" stop-color="#ef2141"/></linearGradient>
<linearGradient id="a59" gradientUnits="userSpaceOnUse" x1="61.1" x2="255.85"><stop offset="0" stop-color="#e5356a"/><stop offset=".036" stop-color="#ea2b56"/><stop offset=".08" stop-color="#f71122"/><stop offset=".105" stop-color="#ff0100"/><stop offset=".118" stop-color="#ff2300"/><stop offset=".139" stop-color="#f40"/><stop offset=".19" stop-color="#ff7200"/><stop offset=".208" stop-color="#ff9500"/><stop offset=".244" stop-color="#fffd00"/><stop offset=".28" stop-color="#acff00"/><stop offset=".318" stop-color="#6bff00"/><stop offset=".362" stop-color="#3aff00"/><stop offset=".426" stop-color="#0cff00"/><stop offset=".452" stop-color="#00ff04"/><stop offset=".542" stop-color="#00ff41"/><stop offset=".585" stop-color="#00ff51"/><stop offset=".608" stop-color="#00ff4b"/><stop offset=".626" stop-color="#00ff36"/><stop offset=".65" stop-color="#00ff03"/><stop offset=".66" stop-color="#1cff00"/><stop offset=".673" stop-color="#4fff00"/><stop offset=".698" stop-color="#d1ff00"/><stop offset=".711" stop-color="#fffe00"/><stop offset=".734" stop-color="#ffc800"/><stop offset=".76" stop-color="#ffa500"/><stop offset=".816" stop-color="#ff7400"/><stop offset=".842" stop-color="#ff4b00"/><stop offset=".878" stop-color="#ff0001"/><stop offset=".953" stop-color="#f4172e"/><stop offset="1" stop-color="#ef2142"/></linearGradient>
<linearGradient id="a60" gradientUnits="userSpaceOnUse" x1="61.1" x2="255.85"><stop offset="0" stop-color="#e73060"/><stop offset=".033" stop-color="#ec274e"/><stop offset=".098" stop-color="#ff0001"/><stop offset=".113" stop-color="#ff2800"/><stop offset=".134" stop-color="#ff4800"/><stop offset=".187" stop-color="#ff7500"/><stop offset=".205" stop-color="#ff9400"/><stop offset=".236" stop-color="#ffe400"/><stop offset=".246" stop-color="#feff00"/><stop offset=".277" stop-color="#b7ff00"/><stop offset=".313" stop-color="#79ff00"/><stop offset=".357" stop-color="#45ff00"/><stop offset=".411" stop-color="#1eff00"/><stop offset=".467" stop-color="#00ff03"/><stop offset=".547" stop-color="#00ff2f"/><stop offset=".593" stop-color="#00ff3d"/><stop offset=".611" stop-color="#0f3"/><stop offset=".626" stop-color="#00ff18"/><stop offset=".637" stop-color="#03ff00"/><stop offset=".657" stop-color="#4f0"/><stop offset=".675" stop-color="#91ff00"/><stop offset=".696" stop-color="#f5ff00"/><stop offset=".698" stop-color="#fffe00"/><stop offset=".714" stop-color="#ffd400"/><stop offset=".739" stop-color="#ffad00"/><stop offset=".811" stop-color="#ff7300"/><stop offset=".837" stop-color="#ff4e00"/><stop offset=".873" stop-color="#ff0200"/><stop offset=".945" stop-color="#f4172d"/><stop offset="1" stop-color="#ee2243"/></linearGradient>
<linearGradient id="a61" gradientUnits="userSpaceOnUse" x1="61.1" x2="255.85"><stop offset="0" stop-color="#ea2b55"/><stop offset=".036" stop-color="#ef2040"/><stop offset=".09" stop-color="#ff0102"/><stop offset=".095" stop-color="#ff0a00"/><stop offset=".113" stop-color="#ff3400"/><stop offset=".134" stop-color="#ff4f00"/><stop offset=".187" stop-color="#ff7a00"/><stop offset=".211" stop-color="#ffa200"/><stop offset=".249" stop-color="#fcff00"/><stop offset=".285" stop-color="#afff00"/><stop offset=".329" stop-color="#6bff00"/><stop offset=".375" stop-color="#3eff00"/><stop offset=".436" stop-color="#1aff00"/><stop offset=".493" stop-color="#00ff03"/><stop offset=".575" stop-color="#00ff21"/><stop offset=".601" stop-color="#0f2"/><stop offset=".614" stop-color="#00ff14"/><stop offset=".621" stop-color="#00ff02"/><stop offset=".637" stop-color="#2cff00"/><stop offset=".665" stop-color="#94ff00"/><stop offset=".688" stop-color="#f9ff00"/><stop offset=".691" stop-color="#fffb00"/><stop offset=".701" stop-color="#ffd700"/><stop offset=".716" stop-color="#ffb700"/><stop offset=".742" stop-color="#ff9d00"/><stop offset=".796" stop-color="#ff7c00"/><stop offset=".827" stop-color="#ff5700"/><stop offset=".86" stop-color="#ff1600"/><stop offset=".87" stop-color="#ff0001"/><stop offset=".94" stop-color="#f4172e"/><stop offset="1" stop-color="#ee2345"/></linearGradient>
<linearGradient id="a62" gradientUnits="userSpaceOnUse" x1="61.1" x2="255.85"><stop offset="0" stop-color="#ed254a"/><stop offset=".039" stop-color="#f31932"/><stop offset=".085" stop-color="#f00"/><stop offset=".105" stop-color="#ff2f00"/><stop offset=".128" stop-color="#ff4e00"/><stop offset=".185" stop-color="#ff7a00"/><stop offset=".211" stop-color="#ffa300"/><stop offset=".252" stop-color="#fcff00"/><stop offset=".293" stop-color="#a8ff00"/><stop offset=".331" stop-color="#70ff00"/><stop offset=".375" stop-color="#46ff00"/><stop offset=".431" stop-color="#27ff00"/><stop offset=".524" stop-color="#05ff00"/><stop offset=".598" stop-color="#0f0"/><stop offset=".611" stop-color="#0cff00"/><stop offset=".626" stop-color="#37ff00"/><stop offset=".68" stop-color="#fcff00"/><stop offset=".701" stop-color="#ffc100"/><stop offset=".719" stop-color="#ffa200"/><stop offset=".747" stop-color="#ff9000"/><stop offset=".783" stop-color="#ff7f00"/><stop offset=".819" stop-color="#ff5900"/><stop offset=".845" stop-color="#ff2d00"/><stop offset=".865" stop-color="#ff0001"/><stop offset=".929" stop-color="#f4162d"/><stop offset="1" stop-color="#ee2346"/></linearGradient>
<linearGradient id="a63" gradientUnits="userSpaceOnUse" x1="61.1" x2="255.85"><stop offset="0" stop-color="#ef203f"/><stop offset=".041" stop-color="#f61225"/><stop offset=".077" stop-color="#ff0001"/><stop offset=".108" stop-color="#ff3900"/><stop offset=".139" stop-color="#ff5700"/><stop offset=".185" stop-color="#ff7b00"/><stop offset=".213" stop-color="#ffa700"/><stop offset=".254" stop-color="#fdff00"/><stop offset=".298" stop-color="#a8ff00"/><stop offset=".339" stop-color="#70ff00"/><stop offset=".38" stop-color="#4bff00"/><stop offset=".436" stop-color="#30ff00"/><stop offset=".521" stop-color="#1dff00"/><stop offset=".588" stop-color="#26ff00"/><stop offset=".606" stop-color="#36ff00"/><stop offset=".621" stop-color="#59ff00"/><stop offset=".67" stop-color="#fcff00"/><stop offset=".698" stop-color="#ffb400"/><stop offset=".719" stop-color="#ff9500"/><stop offset=".75" stop-color="#ff8600"/><stop offset=".78" stop-color="#ff7800"/><stop offset=".827" stop-color="#ff4200"/><stop offset=".852" stop-color="#ff0f00"/><stop offset=".86" stop-color="#ff0101"/><stop offset=".919" stop-color="#f4162c"/><stop offset=".991" stop-color="#ee2346"/><stop offset="1" stop-color="#ed2448"/></linearGradient>
<linearGradient id="a64" gradientUnits="userSpaceOnUse" x1="61.1" x2="255.85"><stop offset="0" stop-color="#f21a34"/><stop offset=".054" stop-color="#fb0911"/><stop offset=".074" stop-color="#ff0100"/><stop offset=".098" stop-color="#ff2c00"/><stop offset=".128" stop-color="#ff4d00"/><stop offset=".18" stop-color="#ff7300"/><stop offset=".211" stop-color="#ff9f00"/><stop offset=".257" stop-color="#fffe00"/><stop offset=".3" stop-color="#adff00"/><stop offset=".341" stop-color="#7f0"/><stop offset=".385" stop-color="#52ff00"/><stop offset=".447" stop-color="#3aff00"/><stop offset=".519" stop-color="#36ff00"/><stop offset=".578" stop-color="#4dff00"/><stop offset=".601" stop-color="#62ff00"/><stop offset=".621" stop-color="#8eff00"/><stop offset=".657" stop-color="#fdff00"/><stop offset=".696" stop-color="#ffa800"/><stop offset=".716" stop-color="#ff8c00"/><stop offset=".75" stop-color="#ff7b00"/><stop offset=".778" stop-color="#ff6d00"/><stop offset=".822" stop-color="#ff3900"/><stop offset=".845" stop-color="#ff1000"/><stop offset=".852" stop-color="#ff0001"/><stop offset=".911" stop-color="#f4172e"/><stop offset=".978" stop-color="#ee2345"/><stop offset="1" stop-color="#ed254a"/></linearGradient>
<linearGradient id="a65" gradientUnits="userSpaceOnUse" x1="61.1" x2="255.85"><stop offset="0" stop-color="#f5152a"/><stop offset=".072" stop-color="#f00"/><stop offset=".098" stop-color="#ff2a00"/><stop offset=".134" stop-color="#ff4c00"/><stop offset=".182" stop-color="#ff7200"/><stop offset=".216" stop-color="#ffa300"/><stop offset=".262" stop-color="#feff00"/><stop offset=".303" stop-color="#b3ff00"/><stop offset=".344" stop-color="#7fff00"/><stop offset=".393" stop-color="#59ff00"/><stop offset=".444" stop-color="#49ff00"/><stop offset=".503" stop-color="#4cff00"/><stop offset=".552" stop-color="#62ff00"/><stop offset=".588" stop-color="#83ff00"/><stop offset=".611" stop-color="#a8ff00"/><stop offset=".634" stop-color="#e4ff00"/><stop offset=".644" stop-color="#fffc00"/><stop offset=".675" stop-color="#fb0"/><stop offset=".706" stop-color="#ff8b00"/><stop offset=".734" stop-color="#ff7500"/><stop offset=".773" stop-color="#ff6100"/><stop offset=".814" stop-color="#ff2d00"/><stop offset=".842" stop-color="#f00"/><stop offset=".906" stop-color="#f31932"/><stop offset=".97" stop-color="#ee2346"/><stop offset="1" stop-color="#ec264b"/></linearGradient>
<linearGradient id="a66" gradientUnits="userSpaceOnUse" x1="61.1" x2="255.85"><stop offset="0" stop-color="#f71121"/><stop offset=".072" stop-color="#ff0200"/><stop offset=".105" stop-color="#ff2e00"/><stop offset=".18" stop-color="#ff6900"/><stop offset=".213" stop-color="#ff9800"/><stop offset=".267" stop-color="#feff00"/><stop offset=".306" stop-color="#baff00"/><stop offset=".354" stop-color="#81ff00"/><stop offset=".398" stop-color="#63ff00"/><stop offset=".447" stop-color="#58ff00"/><stop offset=".501" stop-color="#63ff00"/><stop offset=".539" stop-color="#79ff00"/><stop offset=".575" stop-color="#9fff00"/><stop offset=".611" stop-color="#d8ff00"/><stop offset=".629" stop-color="#feff00"/><stop offset=".66" stop-color="#ffc000"/><stop offset=".701" stop-color="#ff8400"/><stop offset=".732" stop-color="#ff6a00"/><stop offset=".768" stop-color="#ff5300"/><stop offset=".804" stop-color="#ff2100"/><stop offset=".824" stop-color="#f00"/><stop offset=".904" stop-color="#f11c38"/><stop offset=".965" stop-color="#ed2448"/><stop offset="1" stop-color="#ec274d"/></linearGradient>
<linearGradient id="a67" gradientUnits="userSpaceOnUse" x1="61.1" x2="255.85"><stop offset="0" stop-color="#f90d1a"/><stop offset=".069" stop-color="#f00"/><stop offset=".116" stop-color="#ff2f00"/><stop offset=".18" stop-color="#ff6200"/><stop offset=".218" stop-color="#f90"/><stop offset=".272" stop-color="#ff0"/><stop offset=".308" stop-color="#c3ff00"/><stop offset=".352" stop-color="#91ff00"/><stop offset=".395" stop-color="#72ff00"/><stop offset=".439" stop-color="#68ff00"/><stop offset=".49" stop-color="#75ff00"/><stop offset=".534" stop-color="#93ff00"/><stop offset=".57" stop-color="#beff00"/><stop offset=".611" stop-color="#fffe00"/><stop offset=".662" stop-color="#ffa900"/><stop offset=".709" stop-color="#ff6e00"/><stop offset=".768" stop-color="#ff3d00"/><stop offset=".801" stop-color="#ff0500"/><stop offset=".806" stop-color="#ff0101"/><stop offset=".901" stop-color="#ef203f"/><stop offset=".963" stop-color="#ec264b"/><stop offset="1" stop-color="#ec274e"/></linearGradient>
<linearGradient id="a68" gradientUnits="userSpaceOnUse" x1="61.1" x2="255.85"><stop offset="0" stop-color="#fa0b16"/><stop offset=".072" stop-color="#ff0200"/><stop offset=".175" stop-color="#f50"/><stop offset=".213" stop-color="#f80"/><stop offset=".264" stop-color="#ffe400"/><stop offset=".28" stop-color="#fdff00"/><stop offset=".316" stop-color="#c7ff00"/><stop offset=".367" stop-color="#93ff00"/><stop offset=".408" stop-color="#7cff00"/><stop offset=".454" stop-color="#7cff00"/><stop offset=".501" stop-color="#93ff00"/><stop offset=".542" stop-color="#b9ff00"/><stop offset=".58" stop-color="#f1ff00"/><stop offset=".588" stop-color="#ff0"/><stop offset=".655" stop-color="#ffa200"/><stop offset=".716" stop-color="#ff5700"/><stop offset=".765" stop-color="#ff2700"/><stop offset=".786" stop-color="#ff0100"/><stop offset=".893" stop-color="#ee2345"/><stop offset=".945" stop-color="#ec274e"/><stop offset="1" stop-color="#eb2850"/></linearGradient>
<linearGradient id="a69" gradientUnits="userSpaceOnUse" x1="61.1" x2="255.85"><stop offset="0" stop-color="#fa0913"/><stop offset=".074" stop-color="#ff0100"/><stop offset=".151" stop-color="#ff3700"/><stop offset=".198" stop-color="#ff6900"/><stop offset=".246" stop-color="#ffb500"/><stop offset=".288" stop-color="#feff00"/><stop offset=".331" stop-color="#c6ff00"/><stop offset=".383" stop-color="#98ff00"/><stop offset=".421" stop-color="#8aff00"/><stop offset=".46" stop-color="#92ff00"/><stop offset=".503" stop-color="#adff00"/><stop offset=".549" stop-color="#dfff00"/><stop offset=".573" stop-color="#fffc00"/><stop offset=".614" stop-color="#ffbf00"/><stop offset=".757" stop-color="#ff1300"/><stop offset=".77" stop-color="#f00"/><stop offset=".829" stop-color="#f4162b"/><stop offset=".896" stop-color="#eb284f"/><stop offset=".96" stop-color="#eb2952"/><stop offset="1" stop-color="#eb2951"/></linearGradient>
<linearGradient id="a70" gradientUnits="userSpaceOnUse" x1="61.1" x2="255.85"><stop offset="0" stop-color="#fb0911"/><stop offset=".085" stop-color="#ff0100"/><stop offset=".136" stop-color="#ff2100"/><stop offset=".19" stop-color="#ff5700"/><stop offset=".244" stop-color="#ffa400"/><stop offset=".295" stop-color="#fffa00"/><stop offset=".308" stop-color="#f4ff00"/><stop offset=".365" stop-color="#b8ff00"/><stop offset=".406" stop-color="#9fff00"/><stop offset=".444" stop-color="#a0ff00"/><stop offset=".49" stop-color="#bf0"/><stop offset=".539" stop-color="#edff00"/><stop offset=".555" stop-color="#fffd00"/><stop offset=".611" stop-color="#ffad00"/><stop offset=".691" stop-color="#ff5400"/><stop offset=".747" stop-color="#f00"/><stop offset=".822" stop-color="#f21b35"/><stop offset=".899" stop-color="#e92c58"/><stop offset="1" stop-color="#eb2952"/></linearGradient>
<linearGradient id="a71" gradientUnits="userSpaceOnUse" x1="61.1" x2="255.85"><stop offset="0" stop-color="#fb0810"/><stop offset=".09" stop-color="#ff0101"/><stop offset=".11" stop-color="#ff0500"/><stop offset=".162" stop-color="#ff3100"/><stop offset=".223" stop-color="#ff7a00"/><stop offset=".3" stop-color="#ffec00"/><stop offset=".318" stop-color="#fdff00"/><stop offset=".372" stop-color="#c6ff00"/><stop offset=".411" stop-color="#b1ff00"/><stop offset=".449" stop-color="#b7ff00"/><stop offset=".493" stop-color="#d5ff00"/><stop offset=".534" stop-color="#fffe00"/><stop offset=".616" stop-color="#ff9600"/><stop offset=".68" stop-color="#ff4f00"/><stop offset=".719" stop-color="#ff1300"/><stop offset=".729" stop-color="#f00"/><stop offset=".814" stop-color="#ef2040"/><stop offset=".896" stop-color="#e82f5d"/><stop offset="1" stop-color="#ea2a54"/></linearGradient>
<linearGradient id="a72" gradientUnits="userSpaceOnUse" x1="61.1" x2="255.85"><stop offset="0" stop-color="#fb0810"/><stop offset=".085" stop-color="#fe0204"/><stop offset=".118" stop-color="#ff0200"/><stop offset=".185" stop-color="#ff4300"/><stop offset=".254" stop-color="#ff9a00"/><stop offset=".308" stop-color="#ffdf00"/><stop offset=".339" stop-color="#fdff00"/><stop offset=".385" stop-color="#d3ff00"/><stop offset=".418" stop-color="#c6ff00"/><stop offset=".46" stop-color="#d4ff00"/><stop offset=".503" stop-color="#f8ff00"/><stop offset=".516" stop-color="#fff900"/><stop offset=".624" stop-color="#ff7f00"/><stop offset=".675" stop-color="#ff4300"/><stop offset=".711" stop-color="#ff0700"/><stop offset=".716" stop-color="#ff0101"/><stop offset=".806" stop-color="#ed264b"/><stop offset=".901" stop-color="#e73161"/><stop offset="1" stop-color="#ea2b55"/></linearGradient>
<linearGradient id="a73" gradientUnits="userSpaceOnUse" x1="61.1" x2="255.85"><stop offset="0" stop-color="#fb0810"/><stop offset=".126" stop-color="#ff0200"/><stop offset=".198" stop-color="#ff4b00"/><stop offset=".306" stop-color="#ffc500"/><stop offset=".362" stop-color="#feff00"/><stop offset=".406" stop-color="#dfff00"/><stop offset=".439" stop-color="#e3ff00"/><stop offset=".48" stop-color="#fbff00"/><stop offset=".501" stop-color="#ffef00"/><stop offset=".644" stop-color="#ff5b00"/><stop offset=".68" stop-color="#ff2600"/><stop offset=".701" stop-color="#f00"/><stop offset=".804" stop-color="#ea2b56"/><stop offset=".906" stop-color="#e63263"/><stop offset="1" stop-color="#e92c58"/></linearGradient>
<linearGradient id="a74" gradientUnits="userSpaceOnUse" x1="61.1" x2="255.85"><stop offset="0" stop-color="#fb0911"/><stop offset=".131" stop-color="#ff0200"/><stop offset=".216" stop-color="#ff5800"/><stop offset=".288" stop-color="#ff9f00"/><stop offset=".38" stop-color="#fff300"/><stop offset=".401" stop-color="#fcff00"/><stop offset=".421" stop-color="#f9ff00"/><stop offset=".452" stop-color="#fffa00"/><stop offset=".485" stop-color="#ffe500"/><stop offset=".626" stop-color="#ff6300"/><stop offset=".66" stop-color="#ff3600"/><stop offset=".688" stop-color="#f00"/><stop offset=".798" stop-color="#e82e5c"/><stop offset=".878" stop-color="#e63365"/><stop offset=".96" stop-color="#e82f5e"/><stop offset="1" stop-color="#e92d5a"/></linearGradient>
<linearGradient id="a75" gradientUnits="userSpaceOnUse" x1="61.1" x2="255.85"><stop offset="0" stop-color="#fb0912"/><stop offset=".131" stop-color="#ff0001"/><stop offset=".195" stop-color="#ff3c00"/><stop offset=".267" stop-color="#ff8000"/><stop offset=".329" stop-color="#ffae00"/><stop offset=".401" stop-color="#ffe400"/><stop offset=".429" stop-color="#ffe400"/><stop offset=".478" stop-color="#ffd100"/><stop offset=".611" stop-color="#ff6800"/><stop offset=".647" stop-color="#ff3c00"/><stop offset=".678" stop-color="#ff0001"/><stop offset=".773" stop-color="#eb2953"/><stop offset=".811" stop-color="#e63365"/><stop offset=".929" stop-color="#e63264"/><stop offset="1" stop-color="#e82e5c"/></linearGradient>
<linearGradient id="a76" gradientUnits="userSpaceOnUse" x1="61.1" x2="255.85"><stop offset="0" stop-color="#fa0913"/><stop offset=".126" stop-color="#fe0103"/><stop offset=".141" stop-color="#ff0400"/><stop offset=".252" stop-color="#ff6a00"/><stop offset=".331" stop-color="#ff9b00"/><stop offset=".406" stop-color="#ffc600"/><stop offset=".467" stop-color="#ffbe00"/><stop offset=".552" stop-color="#ff8a00"/><stop offset=".608" stop-color="#ff6000"/><stop offset=".642" stop-color="#ff3800"/><stop offset=".665" stop-color="#ff0900"/><stop offset=".67" stop-color="#ff0101"/><stop offset=".75" stop-color="#ec264c"/><stop offset=".798" stop-color="#e63366"/><stop offset=".909" stop-color="#e63366"/><stop offset="1" stop-color="#e82f5e"/></linearGradient>
<linearGradient id="a77" gradientUnits="userSpaceOnUse" x1="61.1" x2="255.85"><stop offset="0" stop-color="#fa0a14"/><stop offset=".123" stop-color="#fe0205"/><stop offset=".144" stop-color="#ff0300"/><stop offset=".241" stop-color="#ff5c00"/><stop offset=".303" stop-color="#ff7a00"/><stop offset=".401" stop-color="#ffa700"/><stop offset=".47" stop-color="#ffa600"/><stop offset=".585" stop-color="#ff6a00"/><stop offset=".624" stop-color="#ff4600"/><stop offset=".65" stop-color="#ff1e00"/><stop offset=".662" stop-color="#f00"/><stop offset=".739" stop-color="#ec274f"/><stop offset=".798" stop-color="#e5356a"/><stop offset=".868" stop-color="#e53469"/><stop offset="1" stop-color="#e73060"/></linearGradient>
<linearGradient id="a78" gradientUnits="userSpaceOnUse" x1="61.1" x2="255.85"><stop offset="0" stop-color="#fa0a15"/><stop offset=".116" stop-color="#fd0408"/><stop offset=".144" stop-color="#f00"/><stop offset=".239" stop-color="#ff5400"/><stop offset=".282" stop-color="#ff6900"/><stop offset=".406" stop-color="#ff8f00"/><stop offset=".442" stop-color="#ff9200"/><stop offset=".478" stop-color="#ff9100"/><stop offset=".578" stop-color="#ff6700"/><stop offset=".616" stop-color="#ff4600"/><stop offset=".642" stop-color="#ff2000"/><stop offset=".657" stop-color="#f00"/><stop offset=".732" stop-color="#eb2951"/><stop offset=".796" stop-color="#e4386f"/><stop offset=".84" stop-color="#e4376e"/><stop offset=".924" stop-color="#e63365"/><stop offset="1" stop-color="#e73161"/></linearGradient>
<linearGradient id="a79" gradientUnits="userSpaceOnUse" x1="61.1" x2="255.85"><stop offset="0" stop-color="#fa0b16"/><stop offset=".105" stop-color="#fc060b"/><stop offset=".149" stop-color="#ff0200"/><stop offset=".236" stop-color="#ff4e00"/><stop offset=".272" stop-color="#ff5f00"/><stop offset=".413" stop-color="#ff7c00"/><stop offset=".47" stop-color="#ff8400"/><stop offset=".57" stop-color="#ff6400"/><stop offset=".611" stop-color="#f40"/><stop offset=".637" stop-color="#ff1e00"/><stop offset=".652" stop-color="#ff0101"/><stop offset=".729" stop-color="#ea2b55"/><stop offset=".768" stop-color="#e53467"/><stop offset=".816" stop-color="#e13d7a"/><stop offset=".873" stop-color="#e63467"/><stop offset="1" stop-color="#e73162"/></linearGradient>
<linearGradient id="a80" gradientUnits="userSpaceOnUse" x1="61.1" x2="255.85"><stop offset="0" stop-color="#f90b17"/><stop offset=".098" stop-color="#fc070e"/><stop offset=".151" stop-color="#ff0100"/><stop offset=".234" stop-color="#ff4900"/><stop offset=".27" stop-color="#ff5900"/><stop offset=".442" stop-color="#ff7500"/><stop offset=".483" stop-color="#ff7800"/><stop offset=".575" stop-color="#ff5b00"/><stop offset=".611" stop-color="#ff3d00"/><stop offset=".637" stop-color="#ff1400"/><stop offset=".644" stop-color="#ff0200"/><stop offset=".678" stop-color="#f71122"/><stop offset=".721" stop-color="#ea2a54"/><stop offset=".755" stop-color="#e63366"/><stop offset=".788" stop-color="#e23a74"/><stop offset=".811" stop-color="#de4284"/><stop offset=".829" stop-color="#e13e7b"/><stop offset=".858" stop-color="#e53569"/><stop offset=".963" stop-color="#e73263"/><stop offset="1" stop-color="#e73163"/></linearGradient>
<linearGradient id="a81" gradientUnits="userSpaceOnUse" x1="61.1" x2="255.85"><stop offset="0" stop-color="#f90c17"/><stop offset=".082" stop-color="#fb0912"/><stop offset=".154" stop-color="#ff0100"/><stop offset=".231" stop-color="#ff4500"/><stop offset=".272" stop-color="#f50"/><stop offset=".393" stop-color="#ff6100"/><stop offset=".47" stop-color="#ff7100"/><stop offset=".565" stop-color="#ff5b00"/><stop offset=".603" stop-color="#ff4000"/><stop offset=".629" stop-color="#ff1a00"/><stop offset=".642" stop-color="#f00"/><stop offset=".688" stop-color="#f21a34"/><stop offset=".724" stop-color="#e92d5a"/><stop offset=".788" stop-color="#e23b75"/><stop offset=".811" stop-color="#dd468b"/><stop offset=".829" stop-color="#e03f7d"/><stop offset=".855" stop-color="#e53569"/><stop offset=".922" stop-color="#e73163"/><stop offset="1" stop-color="#e73163"/></linearGradient>
<linearGradient id="a82" gradientUnits="userSpaceOnUse" x1="61.1" x2="255.85"><stop offset="0" stop-color="#f90c18"/><stop offset=".077" stop-color="#fa0a14"/><stop offset=".157" stop-color="#ff0100"/><stop offset=".226" stop-color="#ff3f00"/><stop offset=".272" stop-color="#ff5100"/><stop offset=".388" stop-color="#ff5800"/><stop offset=".467" stop-color="#ff6b00"/><stop offset=".56" stop-color="#ff5900"/><stop offset=".596" stop-color="#ff4300"/><stop offset=".621" stop-color="#f20"/><stop offset=".639" stop-color="#ff0001"/><stop offset=".685" stop-color="#f21a34"/><stop offset=".721" stop-color="#e92d5b"/><stop offset=".768" stop-color="#e5366b"/><stop offset=".793" stop-color="#e13d79"/><stop offset=".811" stop-color="#de4385"/><stop offset=".834" stop-color="#e23b76"/><stop offset=".863" stop-color="#e63366"/><stop offset=".968" stop-color="#e73161"/><stop offset="1" stop-color="#e73162"/></linearGradient>
<linearGradient id="a83" gradientUnits="userSpaceOnUse" x1="61.1" x2="255.85"><stop offset="0" stop-color="#f90d19"/><stop offset=".085" stop-color="#fa0913"/><stop offset=".159" stop-color="#ff0200"/><stop offset=".218" stop-color="#ff3800"/><stop offset=".262" stop-color="#ff4c00"/><stop offset=".385" stop-color="#ff5200"/><stop offset=".467" stop-color="#ff6700"/><stop offset=".565" stop-color="#ff5400"/><stop offset=".598" stop-color="#ff3d00"/><stop offset=".624" stop-color="#ff1900"/><stop offset=".637" stop-color="#f00"/><stop offset=".691" stop-color="#f01e3c"/><stop offset=".721" stop-color="#e82e5b"/><stop offset=".768" stop-color="#e5366b"/><stop offset=".814" stop-color="#e13d7a"/><stop offset=".873" stop-color="#e73263"/><stop offset="1" stop-color="#e73060"/></linearGradient>
<linearGradient id="a84" gradientUnits="userSpaceOnUse" x1="61.1" x2="255.85"><stop offset="0" stop-color="#f90d1a"/><stop offset=".09" stop-color="#fb0912"/><stop offset=".159" stop-color="#ff0200"/><stop offset=".221" stop-color="#ff3900"/><stop offset=".267" stop-color="#ff4a00"/><stop offset=".385" stop-color="#ff4e00"/><stop offset=".47" stop-color="#ff6200"/><stop offset=".555" stop-color="#f50"/><stop offset=".591" stop-color="#ff4200"/><stop offset=".619" stop-color="#ff2000"/><stop offset=".634" stop-color="#ff0100"/><stop offset=".675" stop-color="#f5152a"/><stop offset=".716" stop-color="#ea2b56"/><stop offset=".752" stop-color="#e63367"/><stop offset=".814" stop-color="#e33870"/><stop offset=".896" stop-color="#e73060"/><stop offset="1" stop-color="#e82f5f"/></linearGradient>
<linearGradient id="a85" gradientUnits="userSpaceOnUse" x1="61.1" x2="255.85"><stop offset="0" stop-color="#f80d1a"/><stop offset=".092" stop-color="#fb0911"/><stop offset=".157" stop-color="#f00"/><stop offset=".213" stop-color="#f30"/><stop offset=".254" stop-color="#ff4600"/><stop offset=".39" stop-color="#ff4c00"/><stop offset=".47" stop-color="#ff5e00"/><stop offset=".555" stop-color="#ff5300"/><stop offset=".591" stop-color="#ff4000"/><stop offset=".616" stop-color="#ff2300"/><stop offset=".634" stop-color="#f00"/><stop offset=".68" stop-color="#f3182f"/><stop offset=".721" stop-color="#e92c58"/><stop offset=".763" stop-color="#e63467"/><stop offset=".822" stop-color="#e5356a"/><stop offset=".914" stop-color="#e82f5e"/><stop offset="1" stop-color="#e82e5d"/></linearGradient>
<linearGradient id="a86" gradientUnits="userSpaceOnUse" x1="61.1" x2="255.85"><stop offset="0" stop-color="#f80e1b"/><stop offset=".098" stop-color="#fb0810"/><stop offset=".157" stop-color="#ff0200"/><stop offset=".211" stop-color="#f30"/><stop offset=".259" stop-color="#ff4600"/><stop offset=".388" stop-color="#ff4a00"/><stop offset=".48" stop-color="#ff5b00"/><stop offset=".557" stop-color="#ff5100"/><stop offset=".593" stop-color="#ff3d00"/><stop offset=".619" stop-color="#ff1f00"/><stop offset=".634" stop-color="#ff0200"/><stop offset=".678" stop-color="#f5152a"/><stop offset=".724" stop-color="#ea2c57"/><stop offset=".765" stop-color="#e63365"/><stop offset=".84" stop-color="#e63264"/><stop offset=".978" stop-color="#e92e5b"/><stop offset="1" stop-color="#e92d5a"/></linearGradient>
<linearGradient id="a87" gradientUnits="userSpaceOnUse" x1="61.1" x2="255.85"><stop offset="0" stop-color="#f80e1b"/><stop offset=".1" stop-color="#fb070f"/><stop offset=".154" stop-color="#ff0200"/><stop offset=".208" stop-color="#f30"/><stop offset=".254" stop-color="#ff4500"/><stop offset=".388" stop-color="#ff4900"/><stop offset=".483" stop-color="#ff5800"/><stop offset=".56" stop-color="#ff4f00"/><stop offset=".596" stop-color="#ff3b00"/><stop offset=".621" stop-color="#ff1d00"/><stop offset=".637" stop-color="#f00"/><stop offset=".721" stop-color="#eb2952"/><stop offset=".765" stop-color="#e73162"/><stop offset=".855" stop-color="#e73060"/><stop offset="1" stop-color="#e92c58"/></linearGradient>
<linearGradient id="a88" gradientUnits="userSpaceOnUse" x1="61.1" x2="255.85"><stop offset="0" stop-color="#f80e1b"/><stop offset=".1" stop-color="#fc070e"/><stop offset=".151" stop-color="#ff0200"/><stop offset=".208" stop-color="#ff3500"/><stop offset=".254" stop-color="#ff4500"/><stop offset=".388" stop-color="#ff4900"/><stop offset=".496" stop-color="#ff5600"/><stop offset=".567" stop-color="#ff4c00"/><stop offset=".601" stop-color="#ff3800"/><stop offset=".626" stop-color="#ff1700"/><stop offset=".639" stop-color="#ff0001"/><stop offset=".724" stop-color="#eb284f"/><stop offset=".765" stop-color="#e8305f"/><stop offset=".899" stop-color="#e82e5c"/><stop offset="1" stop-color="#ea2b56"/></linearGradient>
<linearGradient id="a89" gradientUnits="userSpaceOnUse" x1="61.1" x2="255.85"><stop offset="0" stop-color="#f80e1b"/><stop offset=".105" stop-color="#fc060c"/><stop offset=".149" stop-color="#ff0200"/><stop offset=".205" stop-color="#ff3600"/><stop offset=".254" stop-color="#ff4600"/><stop offset=".393" stop-color="#ff4a00"/><stop offset=".506" stop-color="#ff5400"/><stop offset=".57" stop-color="#ff4a00"/><stop offset=".603" stop-color="#ff3700"/><stop offset=".632" stop-color="#ff1300"/><stop offset=".642" stop-color="#f00"/><stop offset=".727" stop-color="#ec264d"/><stop offset=".77" stop-color="#e82e5c"/><stop offset=".911" stop-color="#e92d5a"/><stop offset="1" stop-color="#ea2a54"/></linearGradient>
<linearGradient id="a90" gradientUnits="userSpaceOnUse" x1="61.1" x2="255.85"><stop offset="0" stop-color="#f80e1b"/><stop offset=".11" stop-color="#fd050a"/><stop offset=".146" stop-color="#ff0200"/><stop offset=".203" stop-color="#ff3600"/><stop offset=".249" stop-color="#ff4600"/><stop offset=".401" stop-color="#ff4c00"/><stop offset=".521" stop-color="#ff5200"/><stop offset=".58" stop-color="#ff4600"/><stop offset=".614" stop-color="#ff2f00"/><stop offset=".639" stop-color="#ff0900"/><stop offset=".644" stop-color="#ff0001"/><stop offset=".729" stop-color="#ed254a"/><stop offset=".778" stop-color="#e92d5a"/><stop offset=".932" stop-color="#ea2b57"/><stop offset="1" stop-color="#eb2952"/></linearGradient>
<linearGradient id="a91" gradientUnits="userSpaceOnUse" x1="61.1" x2="255.85"><stop offset="0" stop-color="#f80e1b"/><stop offset=".116" stop-color="#fd0408"/><stop offset=".144" stop-color="#ff0200"/><stop offset=".205" stop-color="#ff3900"/><stop offset=".252" stop-color="#ff4800"/><stop offset=".408" stop-color="#ff4e00"/><stop offset=".531" stop-color="#ff5000"/><stop offset=".591" stop-color="#ff4200"/><stop offset=".621" stop-color="#ff2900"/><stop offset=".647" stop-color="#f00"/><stop offset=".727" stop-color="#e24"/><stop offset=".775" stop-color="#ea2b56"/><stop offset=".927" stop-color="#ea2b56"/><stop offset="1" stop-color="#eb2851"/></linearGradient>
<linearGradient id="a92" gradientUnits="userSpaceOnUse" x1="61.1" x2="255.85"><stop offset="0" stop-color="#f80d1b"/><stop offset=".123" stop-color="#fe0205"/><stop offset=".141" stop-color="#ff0100"/><stop offset=".2" stop-color="#ff3700"/><stop offset=".249" stop-color="#ff4900"/><stop offset=".503" stop-color="#ff5100"/><stop offset=".583" stop-color="#ff4500"/><stop offset=".616" stop-color="#ff3100"/><stop offset=".642" stop-color="#ff0e00"/><stop offset=".65" stop-color="#f00"/><stop offset=".732" stop-color="#ef2143"/><stop offset=".783" stop-color="#ea2a54"/><stop offset=".929" stop-color="#ea2a54"/><stop offset="1" stop-color="#ec284f"/></linearGradient>
<linearGradient id="a93" gradientUnits="userSpaceOnUse" x1="61.1" x2="255.85"><stop offset="0" stop-color="#f80d1a"/><stop offset=".121" stop-color="#fe0205"/><stop offset=".141" stop-color="#ff0300"/><stop offset=".2" stop-color="#ff3800"/><stop offset=".249" stop-color="#ff4a00"/><stop offset=".48" stop-color="#ff5200"/><stop offset=".588" stop-color="#f40"/><stop offset=".621" stop-color="#ff2f00"/><stop offset=".647" stop-color="#ff0c00"/><stop offset=".655" stop-color="#ff0101"/><stop offset=".732" stop-color="#ef203f"/><stop offset=".78" stop-color="#eb2850"/><stop offset=".906" stop-color="#ea2a54"/><stop offset="1" stop-color="#ec274d"/></linearGradient>
<linearGradient id="a94" gradientUnits="userSpaceOnUse" x1="61.1" x2="255.85"><stop offset="0" stop-color="#f90d1a"/><stop offset=".128" stop-color="#ff0102"/><stop offset=".141" stop-color="#ff0500"/><stop offset=".2" stop-color="#ff3900"/><stop offset=".246" stop-color="#ff4b00"/><stop offset=".452" stop-color="#ff5400"/><stop offset=".591" stop-color="#ff4300"/><stop offset=".624" stop-color="#ff3000"/><stop offset=".65" stop-color="#ff0e00"/><stop offset=".657" stop-color="#f00"/><stop offset=".737" stop-color="#f01f3e"/><stop offset=".793" stop-color="#ec274e"/><stop offset=".914" stop-color="#eb2952"/><stop offset="1" stop-color="#ec264c"/></linearGradient>
<linearGradient id="a95" gradientUnits="userSpaceOnUse" x1="61.1" x2="255.85"><stop offset="0" stop-color="#f90d19"/><stop offset=".126" stop-color="#ff0102"/><stop offset=".139" stop-color="#ff0500"/><stop offset=".2" stop-color="#ff3b00"/><stop offset=".249" stop-color="#ff4d00"/><stop offset=".442" stop-color="#ff5600"/><stop offset=".603" stop-color="#ff4000"/><stop offset=".639" stop-color="#ff2400"/><stop offset=".662" stop-color="#f00"/><stop offset=".732" stop-color="#f11c38"/><stop offset=".788" stop-color="#ed254a"/><stop offset=".909" stop-color="#eb2850"/><stop offset="1" stop-color="#ed254a"/></linearGradient>
<linearGradient id="a96" gradientUnits="userSpaceOnUse" x1="61.1" x2="255.85"><stop offset="0" stop-color="#f90c19"/><stop offset=".131" stop-color="#ff0100"/><stop offset=".203" stop-color="#ff3e00"/><stop offset=".257" stop-color="#ff5000"/><stop offset=".426" stop-color="#ff5900"/><stop offset=".606" stop-color="#ff4000"/><stop offset=".637" stop-color="#ff2c00"/><stop offset=".662" stop-color="#ff0800"/><stop offset=".668" stop-color="#ff0001"/><stop offset=".729" stop-color="#f21a33"/><stop offset=".783" stop-color="#ee2345"/><stop offset=".901" stop-color="#ec274e"/><stop offset="1" stop-color="#ed2448"/></linearGradient>
<linearGradient id="a97" gradientUnits="userSpaceOnUse" x1="61.1" x2="255.85"><stop offset="0" stop-color="#f90c18"/><stop offset=".128" stop-color="#ff0200"/><stop offset=".203" stop-color="#ff3f00"/><stop offset=".254" stop-color="#ff5100"/><stop offset=".426" stop-color="#ff5b00"/><stop offset=".611" stop-color="#ff4000"/><stop offset=".642" stop-color="#ff2a00"/><stop offset=".665" stop-color="#ff0a00"/><stop offset=".67" stop-color="#f00"/><stop offset=".727" stop-color="#f4172e"/><stop offset=".78" stop-color="#ef2141"/><stop offset=".899" stop-color="#ec264b"/><stop offset="1" stop-color="#ee2347"/></linearGradient>
<linearGradient id="cb1" x1="0" y1="0" x2="0" y2="1"><stop offset="0" stop-color="#c080ff"/><stop offset=".375" stop-color="#f00"/><stop offset=".5" stop-color="#ff0"/><stop offset=".625" stop-color="#0f0"/><stop offset=".75" stop-color="#0ff"/><stop offset=".875" stop-color="#00f"/><stop offset="1" stop-color="#000"/></linearGradient>
<linearGradient id="b0" gradientUnits="userSpaceOnUse" x1="430.3" x2="640.18"><stop offset="0" stop-color="#ffd600"/><stop offset=".1" stop-color="#fff000"/><stop offset=".131" stop-color="#fcff00"/><stop offset=".243" stop-color="#a6ff00"/><stop offset=".431" stop-color="#4cff00"/><stop offset=".584" stop-color="#1dff00"/><stop offset=".65" stop-color="#00ff02"/><stop offset=".829" stop-color="#00ff62"/><stop offset=".896" stop-color="#00ff9f"/><stop offset=".929" stop-color="#00ffb7"/><stop offset=".943" stop-color="#00ffcf"/><stop offset=".96" stop-color="#00feff"/><stop offset=".974" stop-color="#00c9ff"/><stop offset=".998" stop-color="#005fff"/><stop offset="1" stop-color="#0059ff"/></linearGradient>
<linearGradient id="b1" gradientUnits="userSpaceOnUse" x1="430.3" x2="640.18"><stop offset="0" stop-color="#ffd500"/><stop offset=".102" stop-color="#fff100"/><stop offset=".131" stop-color="#fcff00"/><stop offset=".238" stop-color="#af0"/><stop offset=".398" stop-color="#5aff00"/><stop offset=".488" stop-color="#39ff00"/><stop offset=".584" stop-color="#1bff00"/><stop offset=".648" stop-color="#00ff02"/><stop offset=".827" stop-color="#00ff60"/><stop offset=".896" stop-color="#00ffa3"/><stop offset=".931" stop-color="#00ffbf"/><stop offset=".951" stop-color="#00ffe3"/><stop offset=".96" stop-color="#00fffe"/><stop offset=".977" stop-color="#00c6ff"/><stop offset="1" stop-color="#006cff"/></linearGradient>
<linearGradient id="b2" gradientUnits="userSpaceOnUse" x1="430.3" x2="640.18"><stop offset="0" stop-color="#ffd500"/><stop offset=".1" stop-color="#fff100"/><stop offset=".131" stop-color="#fcff00"/><stop offset=".245" stop-color="#a6ff00"/><stop offset=".424" stop-color="#4eff00"/><stop offset=".596" stop-color="#14ff00"/><stop offset=".646" stop-color="#00ff03"/><stop offset=".82" stop-color="#00ff5b"/><stop offset=".862" stop-color="#00ff89"/><stop offset=".901" stop-color="#00ffaf"/><stop offset=".934" stop-color="#00ffcb"/><stop offset=".955" stop-color="#00fff1"/><stop offset=".962" stop-color="#00fbff"/><stop offset=".991" stop-color="#00a0ff"/><stop offset="1" stop-color="#0085ff"/></linearGradient>
<linearGradient id="b3" gradientUnits="userSpaceOnUse" x1="430.3" x2="640.18"><stop offset="0" stop-color="#ffd400"/><stop offset=".1" stop-color="#fff200"/><stop offset=".129" stop-color="#fdff00"/><stop offset=".25" stop-color="#a4ff00"/><stop offset=".417" stop-color="#51ff00"/><stop offset=".615" stop-color="#09ff00"/><stop offset=".641" stop-color="#00ff03"/><stop offset=".81" stop-color="#00ff56"/><stop offset=".843" stop-color="#00ff76"/><stop offset=".891" stop-color="#00ffb2"/><stop offset=".939" stop-color="#00ffdb"/><stop offset=".962" stop-color="#00fdff"/><stop offset=".991" stop-color="#00b7ff"/><stop offset="1" stop-color="#00a1ff"/></linearGradient>
<linearGradient id="b4" gradientUnits="userSpaceOnUse" x1="430.3" x2="640.18"><stop offset="0" stop-color="#ffd400"/><stop offset=".095" stop-color="#fff100"/><stop offset=".129" stop-color="#fcff00"/><stop offset=".26" stop-color="#9fff00"/><stop offset=".431" stop-color="#4aff00"/><stop offset=".624" stop-color="#02ff00"/><stop offset=".76" stop-color="#00ff3d"/><stop offset=".82" stop-color="#00ff61"/><stop offset=".85" stop-color="#0f8"/><stop offset=".886" stop-color="#00ffba"/><stop offset=".958" stop-color="#00fff8"/><stop offset=".967" stop-color="#00faff"/><stop offset="1" stop-color="#00c2ff"/></linearGradient>
<linearGradient id="b5" gradientUnits="userSpaceOnUse" x1="430.3" x2="640.18"><stop offset="0" stop-color="#ffd400"/><stop offset=".098" stop-color="#fff300"/><stop offset=".126" stop-color="#fcff00"/><stop offset=".267" stop-color="#9cff00"/><stop offset=".422" stop-color="#4eff00"/><stop offset=".627" stop-color="#00ff03"/><stop offset=".769" stop-color="#00ff45"/><stop offset=".822" stop-color="#00ff69"/><stop offset=".846" stop-color="#00ff8b"/><stop offset=".884" stop-color="#00ffc7"/><stop offset=".92" stop-color="#00ffe4"/><stop offset=".974" stop-color="#00fdff"/><stop offset="1" stop-color="#00e2ff"/></linearGradient>
<linearGradient id="b6" gradientUnits="userSpaceOnUse" x1="430.3" x2="640.18"><stop offset="0" stop-color="#ffd300"/><stop offset=".102" stop-color="#fff600"/><stop offset=".126" stop-color="#fbff00"/><stop offset=".283" stop-color="#93ff00"/><stop offset=".436" stop-color="#47ff00"/><stop offset=".617" stop-color="#00ff03"/><stop offset=".755" stop-color="#00ff41"/><stop offset=".815" stop-color="#00ff6c"/><stop offset=".841" stop-color="#00ff90"/><stop offset=".879" stop-color="#00ffd3"/><stop offset=".905" stop-color="#00ffec"/><stop offset=".948" stop-color="#00fff7"/><stop offset=".989" stop-color="#00fff8"/><stop offset="1" stop-color="#0ff"/></linearGradient>
<linearGradient id="b7" gradientUnits="userSpaceOnUse" x1="430.3" x2="640.18"><stop offset="0" stop-color="#ffd300"/><stop offset=".1" stop-color="#fff600"/><stop offset=".124" stop-color="#fbff00"/><stop offset=".3" stop-color="#8aff00"/><stop offset=".45" stop-color="#40ff00"/><stop offset=".607" stop-color="#00ff03"/><stop offset=".741" stop-color="#00ff3e"/><stop offset=".798" stop-color="#00ff67"/><stop offset=".834" stop-color="#00ff94"/><stop offset=".877" stop-color="#00ffe4"/><stop offset=".901" stop-color="#00fffc"/><stop offset=".939" stop-color="#00fffc"/><stop offset=".989" stop-color="#00ffe8"/><stop offset="1" stop-color="#00ffec"/></linearGradient>
<linearGradient id="b8" gradientUnits="userSpaceOnUse" x1="430.3" x2="640.18"><stop offset="0" stop-color="#ffd300"/><stop offset=".098" stop-color="#fff600"/><stop offset=".121" stop-color="#fbff00"/><stop offset=".324" stop-color="#7dff00"/><stop offset=".546" stop-color="#13ff00"/><stop offset=".596" stop-color="#00ff03"/><stop offset=".729" stop-color="#00ff3d"/><stop offset=".784" stop-color="#00ff64"/><stop offset=".824" stop-color="#00ff97"/><stop offset=".879" stop-color="#00fffe"/><stop offset=".898" stop-color="#00efff"/><stop offset=".924" stop-color="#00f3ff"/><stop offset=".946" stop-color="#00fffc"/><stop offset=".986" stop-color="#0fd"/><stop offset="1" stop-color="#00ffde"/></linearGradient>
<linearGradient id="b9" gradientUnits="userSpaceOnUse" x1="430.3" x2="640.18"><stop offset="0" stop-color="#ffd300"/><stop offset=".1" stop-color="#fff800"/><stop offset=".124" stop-color="#f9ff00"/><stop offset=".341" stop-color="#74ff00"/><stop offset=".581" stop-color="#00ff01"/><stop offset=".729" stop-color="#00ff43"/><stop offset=".779" stop-color="#00ff6a"/><stop offset=".815" stop-color="#0f9"/><stop offset=".848" stop-color="#00ffd9"/><stop offset=".867" stop-color="#00fdff"/><stop offset=".886" stop-color="#00e0ff"/><stop offset=".905" stop-color="#00dbff"/><stop offset=".939" stop-color="#00f6ff"/><stop offset=".951" stop-color="#00fffa"/><stop offset=".986" stop-color="#00ffd6"/><stop offset="1" stop-color="#00ffd4"/></linearGradient>
<linearGradient id="b10" gradientUnits="userSpaceOnUse" x1="430.3" x2="640.18"><stop offset="0" stop-color="#ffd300"/><stop offset=".105" stop-color="#fffb00"/><stop offset=".133" stop-color="#f4ff00"/><stop offset=".35" stop-color="#6fff00"/><stop offset=".572" stop-color="#00ff02"/><stop offset=".722" stop-color="#00ff46"/><stop offset=".769" stop-color="#00ff6b"/><stop offset=".805" stop-color="#00ff9a"/><stop offset=".841" stop-color="#00ffde"/><stop offset=".855" stop-color="#00fffd"/><stop offset=".881" stop-color="#00cfff"/><stop offset=".896" stop-color="#00c6ff"/><stop offset=".915" stop-color="#00d2ff"/><stop offset=".951" stop-color="#00fffe"/><stop offset=".984" stop-color="#00ffd5"/><stop offset="1" stop-color="#00ffce"/></linearGradient>
<linearGradient id="b11" gradientUnits="userSpaceOnUse" x1="430.3" x2="640.18"><stop offset="0" stop-color="#ffd200"/><stop offset=".117" stop-color="#fcff00"/><stop offset=".222" stop-color="#beff00"/><stop offset=".36" stop-color="#6aff00"/><stop offset=".562" stop-color="#00ff02"/><stop offset=".719" stop-color="#00ff4c"/><stop offset=".769" stop-color="#00ff76"/><stop offset=".805" stop-color="#00ffab"/><stop offset=".843" stop-color="#00fff7"/><stop offset=".85" stop-color="#00f8ff"/><stop offset=".877" stop-color="#00c1ff"/><stop offset=".891" stop-color="#00b3ff"/><stop offset=".908" stop-color="#00bdff"/><stop offset=".953" stop-color="#0ff"/><stop offset=".989" stop-color="#00ffd2"/><stop offset="1" stop-color="#0fc"/></linearGradient>
<linearGradient id="b12" gradientUnits="userSpaceOnUse" x1="430.3" x2="640.18"><stop offset="0" stop-color="#ffd200"/><stop offset=".11" stop-color="#fffe00"/><stop offset=".207" stop-color="#c8ff00"/><stop offset=".367" stop-color="#6f0"/><stop offset=".555" stop-color="#00ff02"/><stop offset=".719" stop-color="#00ff54"/><stop offset=".762" stop-color="#00ff7a"/><stop offset=".796" stop-color="#00ffab"/><stop offset=".839" stop-color="#0ff"/><stop offset=".877" stop-color="#00b2ff"/><stop offset=".891" stop-color="#00a5ff"/><stop offset=".91" stop-color="#00b5ff"/><stop offset=".958" stop-color="#0ff"/><stop offset=".991" stop-color="#00ffd4"/><stop offset="1" stop-color="#00ffcf"/></linearGradient>
<linearGradient id="b13" gradientUnits="userSpaceOnUse" x1="430.3" x2="640.18"><stop offset="0" stop-color="#ffd100"/><stop offset=".119" stop-color="#fcff00"/><stop offset=".245" stop-color="#b0ff00"/><stop offset=".398" stop-color="#5f0"/><stop offset=".548" stop-color="#00ff02"/><stop offset=".715" stop-color="#00ff59"/><stop offset=".758" stop-color="#00ff80"/><stop offset=".791" stop-color="#00ffb2"/><stop offset=".829" stop-color="#00fffe"/><stop offset=".874" stop-color="#00a9ff"/><stop offset=".889" stop-color="#009dff"/><stop offset=".903" stop-color="#00a3ff"/><stop offset=".965" stop-color="#00fffe"/><stop offset=".991" stop-color="#00ffde"/><stop offset="1" stop-color="#00ffd8"/></linearGradient>
<linearGradient id="b14" gradientUnits="userSpaceOnUse" x1="430.3" x2="640.18"><stop offset="0" stop-color="#ffd100"/><stop offset=".119" stop-color="#fcff00"/><stop offset=".238" stop-color="#b6ff00"/><stop offset=".415" stop-color="#4bff00"/><stop offset=".541" stop-color="#00ff02"/><stop offset=".715" stop-color="#00ff61"/><stop offset=".753" stop-color="#00ff86"/><stop offset=".784" stop-color="#00ffb5"/><stop offset=".822" stop-color="#00fcff"/><stop offset=".87" stop-color="#00a2ff"/><stop offset=".884" stop-color="#0093ff"/><stop offset=".898" stop-color="#0095ff"/><stop offset=".922" stop-color="#00b3ff"/><stop offset=".972" stop-color="#0ff"/><stop offset="1" stop-color="#00ffe3"/></linearGradient>
<linearGradient id="b15" gradientUnits="userSpaceOnUse" x1="430.3" x2="640.18"><stop offset="0" stop-color="#ffd000"/><stop offset=".121" stop-color="#fcff00"/><stop offset=".25" stop-color="#afff00"/><stop offset=".536" stop-color="#00ff02"/><stop offset=".672" stop-color="#00ff4f"/><stop offset=".727" stop-color="#00ff73"/><stop offset=".762" stop-color="#00ff9e"/><stop offset=".798" stop-color="#00ffe2"/><stop offset=".812" stop-color="#00fcff"/><stop offset=".85" stop-color="#00afff"/><stop offset=".877" stop-color="#0087ff"/><stop offset=".891" stop-color="#0081ff"/><stop offset=".908" stop-color="#008fff"/><stop offset=".982" stop-color="#00fdff"/><stop offset="1" stop-color="#00ffef"/></linearGradient>
<linearGradient id="b16" gradientUnits="userSpaceOnUse" x1="430.3" x2="640.18"><stop offset="0" stop-color="#ffcf00"/><stop offset=".124" stop-color="#fcff00"/><stop offset=".257" stop-color="#abff00"/><stop offset=".531" stop-color="#00ff02"/><stop offset=".66" stop-color="#00ff50"/><stop offset=".719" stop-color="#00ff75"/><stop offset=".753" stop-color="#00ff9b"/><stop offset=".781" stop-color="#00ffce"/><stop offset=".803" stop-color="#00fffe"/><stop offset=".846" stop-color="#009fff"/><stop offset=".874" stop-color="#0071ff"/><stop offset=".891" stop-color="#0069ff"/><stop offset=".91" stop-color="#007bff"/><stop offset=".979" stop-color="#00ecff"/><stop offset=".998" stop-color="#00fffd"/><stop offset="1" stop-color="#00fffc"/></linearGradient>
<linearGradient id="b17" gradientUnits="userSpaceOnUse" x1="430.3" x2="640.18"><stop offset="0" stop-color="#ffce00"/><stop offset=".126" stop-color="#fcff00"/><stop offset=".329" stop-color="#7fff00"/><stop offset=".526" stop-color="#00ff02"/><stop offset=".665" stop-color="#00ff5a"/><stop offset=".722" stop-color="#00ff80"/><stop offset=".753" stop-color="#00ffa4"/><stop offset=".784" stop-color="#00ffe0"/><stop offset=".796" stop-color="#00fffd"/><stop offset=".846" stop-color="#0083ff"/><stop offset=".872" stop-color="#05f"/><stop offset=".886" stop-color="#0049ff"/><stop offset=".905" stop-color="#05f"/><stop offset=".939" stop-color="#0090ff"/><stop offset=".972" stop-color="#00d4ff"/><stop offset="1" stop-color="#00f7ff"/></linearGradient>
<linearGradient id="b18" gradientUnits="userSpaceOnUse" x1="430.3" x2="640.18"><stop offset="0" stop-color="#ffce00"/><stop offset=".117" stop-color="#fffb00"/><stop offset=".145" stop-color="#f3ff00"/><stop offset=".465" stop-color="#27ff00"/><stop offset=".524" stop-color="#00ff03"/><stop offset=".66" stop-color="#00ff5f"/><stop offset=".724" stop-color="#00ff89"/><stop offset=".755" stop-color="#00ffb1"/><stop offset=".779" stop-color="#00ffe1"/><stop offset=".791" stop-color="#0ff"/><stop offset=".848" stop-color="#0060ff"/><stop offset=".872" stop-color="#0030ff"/><stop offset=".889" stop-color="#02f"/><stop offset=".905" stop-color="#0030ff"/><stop offset=".931" stop-color="#0064ff"/><stop offset=".967" stop-color="#00bdff"/><stop offset=".991" stop-color="#00e4ff"/><stop offset="1" stop-color="#0ef"/></linearGradient>
<linearGradient id="b19" gradientUnits="userSpaceOnUse" x1="430.3" x2="640.18"><stop offset="0" stop-color="#ffcd00"/><stop offset=".121" stop-color="#fffc00"/><stop offset=".172" stop-color="#e5ff00"/><stop offset=".443" stop-color="#35ff00"/><stop offset=".519" stop-color="#00ff02"/><stop offset=".662" stop-color="#00ff68"/><stop offset=".722" stop-color="#00ff8e"/><stop offset=".755" stop-color="#00ffb8"/><stop offset=".779" stop-color="#00ffea"/><stop offset=".789" stop-color="#00fbff"/><stop offset=".858" stop-color="#0028ff"/><stop offset=".877" stop-color="#0000fd"/><stop offset=".889" stop-color="#0000f2"/><stop offset=".901" stop-color="#0000fc"/><stop offset=".91" stop-color="#000fff"/><stop offset=".936" stop-color="#0057ff"/><stop offset=".962" stop-color="#00a6ff"/><stop offset=".986" stop-color="#00d5ff"/><stop offset="1" stop-color="#00e9ff"/></linearGradient>
<linearGradient id="b20" gradientUnits="userSpaceOnUse" x1="430.3" x2="640.18"><stop offset="0" stop-color="#fc0"/><stop offset=".117" stop-color="#fff800"/><stop offset=".136" stop-color="#fbff00"/><stop offset=".417" stop-color="#47ff00"/><stop offset=".517" stop-color="#00ff02"/><stop offset=".662" stop-color="#00ff6f"/><stop offset=".722" stop-color="#00ff95"/><stop offset=".75" stop-color="#00ffb6"/><stop offset=".774" stop-color="#00ffe4"/><stop offset=".784" stop-color="#00fffd"/><stop offset=".805" stop-color="#00bdff"/><stop offset=".86" stop-color="#0000fe"/><stop offset=".877" stop-color="#0000c9"/><stop offset=".886" stop-color="#0000ba"/><stop offset=".896" stop-color="#0000be"/><stop offset=".908" stop-color="#0000db"/><stop offset=".917" stop-color="#0000fc"/><stop offset=".927" stop-color="#0020ff"/><stop offset=".958" stop-color="#008cff"/><stop offset=".979" stop-color="#00c1ff"/><stop offset="1" stop-color="#00e4ff"/></linearGradient>
<linearGradient id="b21" gradientUnits="userSpaceOnUse" x1="430.3" x2="640.18"><stop offset="0" stop-color="#ffca00"/><stop offset=".124" stop-color="#fffa00"/><stop offset=".148" stop-color="#f6ff00"/><stop offset=".412" stop-color="#4bff00"/><stop offset=".515" stop-color="#00ff02"/><stop offset=".662" stop-color="#00ff76"/><stop offset=".724" stop-color="#00ff9c"/><stop offset=".758" stop-color="#00ffc6"/><stop offset=".777" stop-color="#0fe"/><stop offset=".784" stop-color="#00fcff"/><stop offset=".81" stop-color="#00a4ff"/><stop offset=".848" stop-color="#0016ff"/><stop offset=".853" stop-color="#0001ff"/><stop offset=".874" stop-color="#00009c"/><stop offset=".884" stop-color="#000081"/><stop offset=".891" stop-color="#00007c"/><stop offset=".898" stop-color="#00008a"/><stop offset=".91" stop-color="#0000b8"/><stop offset=".924" stop-color="#0000fd"/><stop offset=".951" stop-color="#0068ff"/><stop offset=".972" stop-color="#0af"/><stop offset=".996" stop-color="#00dbff"/><stop offset="1" stop-color="#00e1ff"/></linearGradient>
<linearGradient id="b22" gradientUnits="userSpaceOnUse" x1="430.3" x2="640.18"><stop offset="0" stop-color="#ffc900"/><stop offset=".119" stop-color="#fff600"/><stop offset=".143" stop-color="#faff00"/><stop offset=".405" stop-color="#51ff00"/><stop offset=".512" stop-color="#00ff02"/><stop offset=".658" stop-color="#00ff79"/><stop offset=".724" stop-color="#00ffa1"/><stop offset=".753" stop-color="#00ffc2"/><stop offset=".777" stop-color="#00fff0"/><stop offset=".781" stop-color="#00fffd"/><stop offset=".8" stop-color="#00c3ff"/><stop offset=".843" stop-color="#001cff"/><stop offset=".848" stop-color="#0006ff"/><stop offset=".853" stop-color="#0000ed"/><stop offset=".877" stop-color="#000065"/><stop offset=".884" stop-color="#000049"/><stop offset=".889" stop-color="#000043"/><stop offset=".891" stop-color="#000042"/><stop offset=".898" stop-color="#000058"/><stop offset=".91" stop-color="#000097"/><stop offset=".927" stop-color="#0000f6"/><stop offset=".929" stop-color="#0004ff"/><stop offset=".951" stop-color="#005eff"/><stop offset=".97" stop-color="#009dff"/><stop offset=".991" stop-color="#00d0ff"/><stop offset="1" stop-color="#00e0ff"/></linearGradient>
<linearGradient id="b23" gradientUnits="userSpaceOnUse" x1="430.3" x2="640.18"><stop offset="0" stop-color="#ffc800"/><stop offset=".124" stop-color="#fff700"/><stop offset=".145" stop-color="#faff00"/><stop offset=".405" stop-color="#52ff00"/><stop offset=".512" stop-color="#00ff03"/><stop offset=".665" stop-color="#00ff83"/><stop offset=".729" stop-color="#0fa"/><stop offset=".762" stop-color="#00ffd4"/><stop offset=".781" stop-color="#0ff"/><stop offset=".808" stop-color="#00a7ff"/><stop offset=".843" stop-color="#0017ff"/><stop offset=".848" stop-color="#00f"/><stop offset=".865" stop-color="#00009d"/><stop offset=".879" stop-color="#004"/><stop offset=".886" stop-color="#000025"/><stop offset=".891" stop-color="#000024"/><stop offset=".896" stop-color="#000034"/><stop offset=".908" stop-color="#00007a"/><stop offset=".927" stop-color="#0000ef"/><stop offset=".929" stop-color="#0000fc"/><stop offset=".953" stop-color="#0063ff"/><stop offset=".972" stop-color="#00a2ff"/><stop offset=".993" stop-color="#00d5ff"/><stop offset="1" stop-color="#00e0ff"/></linearGradient>
<linearGradient id="b24" gradientUnits="userSpaceOnUse" x1="430.3" x2="640.18"><stop offset="0" stop-color="#ffc600"/><stop offset=".124" stop-color="#fff600"/><stop offset=".145" stop-color="#fbff00"/><stop offset=".403" stop-color="#5f0"/><stop offset=".51" stop-color="#00ff03"/><stop offset=".653" stop-color="#00ff7f"/><stop offset=".729" stop-color="#00ffae"/><stop offset=".762" stop-color="#00ffd8"/><stop offset=".781" stop-color="#00fdff"/><stop offset=".805" stop-color="#00b1ff"/><stop offset=".839" stop-color="#0031ff"/><stop offset=".848" stop-color="#0006ff"/><stop offset=".853" stop-color="#0000ed"/><stop offset=".877" stop-color="#000064"/><stop offset=".884" stop-color="#000049"/><stop offset=".886" stop-color="#000042"/><stop offset=".891" stop-color="#000041"/><stop offset=".898" stop-color="#000057"/><stop offset=".912" stop-color="#0000a5"/><stop offset=".927" stop-color="#0000f6"/><stop offset=".929" stop-color="#0004ff"/><stop offset=".951" stop-color="#005eff"/><stop offset=".972" stop-color="#00a5ff"/><stop offset=".996" stop-color="#00dbff"/><stop offset="1" stop-color="#00e2ff"/></linearGradient>
<linearGradient id="b25" gradientUnits="userSpaceOnUse" x1="430.3" x2="640.18"><stop offset="0" stop-color="#ffc500"/><stop offset=".117" stop-color="#fff100"/><stop offset=".145" stop-color="#fcff00"/><stop offset=".407" stop-color="#53ff00"/><stop offset=".507" stop-color="#00ff02"/><stop offset=".648" stop-color="#00ff80"/><stop offset=".731" stop-color="#00ffb4"/><stop offset=".762" stop-color="#00ffdb"/><stop offset=".779" stop-color="#00fffd"/><stop offset=".796" stop-color="#00d3ff"/><stop offset=".829" stop-color="#0060ff"/><stop offset=".853" stop-color="#0001ff"/><stop offset=".874" stop-color="#00009b"/><stop offset=".884" stop-color="#000080"/><stop offset=".891" stop-color="#00007b"/><stop offset=".898" stop-color="#000089"/><stop offset=".908" stop-color="#0000ad"/><stop offset=".924" stop-color="#0000fd"/><stop offset=".953" stop-color="#0070ff"/><stop offset=".977" stop-color="#00b6ff"/><stop offset="1" stop-color="#00e5ff"/></linearGradient>
<linearGradient id="b26" gradientUnits="userSpaceOnUse" x1="430.3" x2="640.18"><stop offset="0" stop-color="#ffc300"/><stop offset=".117" stop-color="#fff100"/><stop offset=".148" stop-color="#fcff00"/><stop offset=".41" stop-color="#53ff00"/><stop offset=".507" stop-color="#00ff03"/><stop offset=".638" stop-color="#00ff7c"/><stop offset=".731" stop-color="#00ffb8"/><stop offset=".76" stop-color="#00ffda"/><stop offset=".779" stop-color="#00fffe"/><stop offset=".803" stop-color="#00c1ff"/><stop offset=".841" stop-color="#04f"/><stop offset=".86" stop-color="#0000fd"/><stop offset=".877" stop-color="#0000c8"/><stop offset=".886" stop-color="#0000b9"/><stop offset=".896" stop-color="#0000bd"/><stop offset=".908" stop-color="#0000db"/><stop offset=".917" stop-color="#0000fb"/><stop offset=".927" stop-color="#0020ff"/><stop offset=".96" stop-color="#0093ff"/><stop offset=".982" stop-color="#00c8ff"/><stop offset="1" stop-color="#00e9ff"/></linearGradient>
<linearGradient id="b27" gradientUnits="userSpaceOnUse" x1="430.3" x2="640.18"><stop offset="0" stop-color="#ffc100"/><stop offset=".124" stop-color="#fff300"/><stop offset=".15" stop-color="#fbff00"/><stop offset=".405" stop-color="#58ff00"/><stop offset=".491" stop-color="#0dff00"/><stop offset=".507" stop-color="#00ff04"/><stop offset=".627" stop-color="#00ff75"/><stop offset=".688" stop-color="#00ff9f"/><stop offset=".736" stop-color="#00ffbf"/><stop offset=".767" stop-color="#00ffe7"/><stop offset=".781" stop-color="#00fcff"/><stop offset=".815" stop-color="#00a7ff"/><stop offset=".862" stop-color="#001bff"/><stop offset=".874" stop-color="#0001ff"/><stop offset=".886" stop-color="#0000f0"/><stop offset=".898" stop-color="#0000f7"/><stop offset=".905" stop-color="#0004ff"/><stop offset=".929" stop-color="#0041ff"/><stop offset=".965" stop-color="#00abff"/><stop offset=".991" stop-color="#00e0ff"/><stop offset="1" stop-color="#0ef"/></linearGradient>
<linearGradient id="b28" gradientUnits="userSpaceOnUse" x1="430.3" x2="640.18"><stop offset="0" stop-color="#ffbf00"/><stop offset=".131" stop-color="#fff600"/><stop offset=".152" stop-color="#fbff00"/><stop offset=".331" stop-color="#8aff00"/><stop offset=".419" stop-color="#4fff00"/><stop offset=".505" stop-color="#00ff03"/><stop offset=".619" stop-color="#00ff72"/><stop offset=".679" stop-color="#00ff9c"/><stop offset=".739" stop-color="#00ffc3"/><stop offset=".769" stop-color="#00ffeb"/><stop offset=".781" stop-color="#00feff"/><stop offset=".817" stop-color="#00adff"/><stop offset=".855" stop-color="#004fff"/><stop offset=".877" stop-color="#0029ff"/><stop offset=".891" stop-color="#0021ff"/><stop offset=".908" stop-color="#0032ff"/><stop offset=".934" stop-color="#0069ff"/><stop offset=".97" stop-color="#00c0ff"/><stop offset=".998" stop-color="#00f1ff"/><stop offset="1" stop-color="#00f3ff"/></linearGradient>
<linearGradient id="b29" gradientUnits="userSpaceOnUse" x1="430.3" x2="640.18"><stop offset="0" stop-color="#ffbd00"/><stop offset=".126" stop-color="#fff200"/><stop offset=".152" stop-color="#fcff00"/><stop offset=".336" stop-color="#8f0"/><stop offset=".417" stop-color="#53ff00"/><stop offset=".484" stop-color="#13ff00"/><stop offset=".503" stop-color="#00ff02"/><stop offset=".61" stop-color="#00ff6d"/><stop offset=".669" stop-color="#0f9"/><stop offset=".736" stop-color="#00ffc3"/><stop offset=".769" stop-color="#00ffe9"/><stop offset=".784" stop-color="#00feff"/><stop offset=".855" stop-color="#006fff"/><stop offset=".879" stop-color="#004dff"/><stop offset=".893" stop-color="#0049ff"/><stop offset=".912" stop-color="#005eff"/><stop offset=".946" stop-color="#009cff"/><stop offset=".982" stop-color="#00dfff"/><stop offset="1" stop-color="#00f9ff"/></linearGradient>
<linearGradient id="b30" gradientUnits="userSpaceOnUse" x1="430.3" x2="640.18"><stop offset="0" stop-color="#fb0"/><stop offset=".126" stop-color="#fff100"/><stop offset=".155" stop-color="#fbff00"/><stop offset=".329" stop-color="#8eff00"/><stop offset=".419" stop-color="#53ff00"/><stop offset=".481" stop-color="#15ff00"/><stop offset=".5" stop-color="#00ff01"/><stop offset=".593" stop-color="#00ff61"/><stop offset=".66" stop-color="#00ff96"/><stop offset=".736" stop-color="#00ffc4"/><stop offset=".772" stop-color="#00ffea"/><stop offset=".786" stop-color="#0ff"/><stop offset=".85" stop-color="#0093ff"/><stop offset=".881" stop-color="#006dff"/><stop offset=".896" stop-color="#006dff"/><stop offset=".917" stop-color="#0085ff"/><stop offset=".993" stop-color="#00f8ff"/><stop offset="1" stop-color="#00fffe"/></linearGradient>
<linearGradient id="b31" gradientUnits="userSpaceOnUse" x1="430.3" x2="640.18"><stop offset="0" stop-color="#ffb900"/><stop offset=".124" stop-color="#fe0"/><stop offset=".155" stop-color="#fdff00"/><stop offset=".31" stop-color="#9aff00"/><stop offset=".412" stop-color="#5aff00"/><stop offset=".462" stop-color="#2aff00"/><stop offset=".5" stop-color="#00ff03"/><stop offset=".584" stop-color="#00ff5c"/><stop offset=".658" stop-color="#00ff97"/><stop offset=".741" stop-color="#00ffc8"/><stop offset=".779" stop-color="#00fff0"/><stop offset=".793" stop-color="#00fbff"/><stop offset=".848" stop-color="#00adff"/><stop offset=".881" stop-color="#008aff"/><stop offset=".898" stop-color="#008bff"/><stop offset=".946" stop-color="#00c1ff"/><stop offset=".993" stop-color="#0ff"/><stop offset="1" stop-color="#00fff8"/></linearGradient>
<linearGradient id="b32" gradientUnits="userSpaceOnUse" x1="430.3" x2="640.18"><stop offset="0" stop-color="#ffb600"/><stop offset=".121" stop-color="#ffeb00"/><stop offset=".157" stop-color="#fcff00"/><stop offset=".324" stop-color="#93ff00"/><stop offset=".417" stop-color="#58ff00"/><stop offset=".465" stop-color="#27ff00"/><stop offset=".498" stop-color="#00ff03"/><stop offset=".569" stop-color="#00ff52"/><stop offset=".643" stop-color="#00ff90"/><stop offset=".746" stop-color="#00ffcb"/><stop offset=".786" stop-color="#00fff3"/><stop offset=".798" stop-color="#00fcff"/><stop offset=".86" stop-color="#00b3ff"/><stop offset=".884" stop-color="#00a0ff"/><stop offset=".901" stop-color="#00a3ff"/><stop offset=".974" stop-color="#00f2ff"/><stop offset=".989" stop-color="#00fffc"/><stop offset="1" stop-color="#00fff1"/></linearGradient>
<linearGradient id="b33" gradientUnits="userSpaceOnUse" x1="430.3" x2="640.18"><stop offset="0" stop-color="#ffb300"/><stop offset=".119" stop-color="#ffe800"/><stop offset=".16" stop-color="#fcff00"/><stop offset=".3" stop-color="#a2ff00"/><stop offset=".407" stop-color="#60ff00"/><stop offset=".453" stop-color="#35ff00"/><stop offset=".496" stop-color="#00ff03"/><stop offset=".555" stop-color="#00ff48"/><stop offset=".629" stop-color="#00ff89"/><stop offset=".698" stop-color="#00ffaf"/><stop offset=".758" stop-color="#00ffd2"/><stop offset=".805" stop-color="#00fdff"/><stop offset=".872" stop-color="#00b8ff"/><stop offset=".893" stop-color="#00b2ff"/><stop offset=".922" stop-color="#00c7ff"/><stop offset=".979" stop-color="#00fffd"/><stop offset="1" stop-color="#00ffe9"/></linearGradient>
<linearGradient id="b34" gradientUnits="userSpaceOnUse" x1="430.3" x2="640.18"><stop offset="0" stop-color="#ffb000"/><stop offset=".119" stop-color="#ffe600"/><stop offset=".162" stop-color="#fcff00"/><stop offset=".303" stop-color="#a2ff00"/><stop offset=".407" stop-color="#61ff00"/><stop offset=".45" stop-color="#37ff00"/><stop offset=".491" stop-color="#00ff01"/><stop offset=".546" stop-color="#0f4"/><stop offset=".619" stop-color="#00ff85"/><stop offset=".686" stop-color="#00ffab"/><stop offset=".755" stop-color="#00ffcd"/><stop offset=".808" stop-color="#00fffa"/><stop offset=".82" stop-color="#00f8ff"/><stop offset=".877" stop-color="#00c4ff"/><stop offset=".896" stop-color="#00c1ff"/><stop offset=".97" stop-color="#00fffc"/><stop offset="1" stop-color="#00ffe2"/></linearGradient>
<linearGradient id="b35" gradientUnits="userSpaceOnUse" x1="430.3" x2="640.18"><stop offset="0" stop-color="#ffac00"/><stop offset=".124" stop-color="#ffe700"/><stop offset=".164" stop-color="#fcff00"/><stop offset=".334" stop-color="#91ff00"/><stop offset=".41" stop-color="#5fff00"/><stop offset=".453" stop-color="#32ff00"/><stop offset=".488" stop-color="#00ff02"/><stop offset=".536" stop-color="#00ff40"/><stop offset=".603" stop-color="#00ff7c"/><stop offset=".672" stop-color="#00ffa6"/><stop offset=".758" stop-color="#00ffcb"/><stop offset=".827" stop-color="#00fcff"/><stop offset=".881" stop-color="#00d0ff"/><stop offset=".903" stop-color="#00d4ff"/><stop offset=".958" stop-color="#00fffc"/><stop offset="1" stop-color="#00ffda"/></linearGradient>
<linearGradient id="b36" gradientUnits="userSpaceOnUse" x1="430.3" x2="640.18"><stop offset="0" stop-color="#ffa800"/><stop offset=".124" stop-color="#ffe500"/><stop offset=".167" stop-color="#fcff00"/><stop offset=".403" stop-color="#65ff00"/><stop offset=".448" stop-color="#35ff00"/><stop offset=".484" stop-color="#00ff01"/><stop offset=".529" stop-color="#00ff40"/><stop offset=".586" stop-color="#00ff74"/><stop offset=".655" stop-color="#00ff9f"/><stop offset=".767" stop-color="#0fc"/><stop offset=".839" stop-color="#00fdff"/><stop offset=".879" stop-color="#00e1ff"/><stop offset=".903" stop-color="#00e4ff"/><stop offset=".943" stop-color="#00fffc"/><stop offset="1" stop-color="#00ffd1"/></linearGradient>
<linearGradient id="b37" gradientUnits="userSpaceOnUse" x1="430.3" x2="640.18"><stop offset="0" stop-color="#ffa300"/><stop offset=".129" stop-color="#ffe600"/><stop offset=".169" stop-color="#fdff00"/><stop offset=".393" stop-color="#6cff00"/><stop offset=".436" stop-color="#41ff00"/><stop offset=".479" stop-color="#0f0"/><stop offset=".524" stop-color="#00ff43"/><stop offset=".572" stop-color="#00ff70"/><stop offset=".658" stop-color="#00ffa2"/><stop offset=".772" stop-color="#00ffc9"/><stop offset=".858" stop-color="#00fcff"/><stop offset=".886" stop-color="#00f0ff"/><stop offset=".927" stop-color="#00fffc"/><stop offset="1" stop-color="#00ffc8"/></linearGradient>
<linearGradient id="b38" gradientUnits="userSpaceOnUse" x1="430.3" x2="640.18"><stop offset="0" stop-color="#ff9e00"/><stop offset=".133" stop-color="#ffe700"/><stop offset=".174" stop-color="#fcff00"/><stop offset=".388" stop-color="#70ff00"/><stop offset=".431" stop-color="#4f0"/><stop offset=".476" stop-color="#00ff02"/><stop offset=".522" stop-color="#00ff49"/><stop offset=".56" stop-color="#00ff6f"/><stop offset=".65" stop-color="#00ffa0"/><stop offset=".774" stop-color="#00ffc5"/><stop offset=".874" stop-color="#00fffb"/><stop offset=".903" stop-color="#00fffa"/><stop offset=".97" stop-color="#00ffd2"/><stop offset="1" stop-color="#00ffbe"/></linearGradient>
<linearGradient id="b39" gradientUnits="userSpaceOnUse" x1="430.3" x2="640.18"><stop offset="0" stop-color="#f90"/><stop offset=".138" stop-color="#ffe800"/><stop offset=".176" stop-color="#fdff00"/><stop offset=".381" stop-color="#76ff00"/><stop offset=".424" stop-color="#4bff00"/><stop offset=".465" stop-color="#0dff00"/><stop offset=".472" stop-color="#0f0"/><stop offset=".522" stop-color="#00ff54"/><stop offset=".557" stop-color="#0f7"/><stop offset=".674" stop-color="#00ffa8"/><stop offset=".774" stop-color="#00ffbe"/><stop offset=".879" stop-color="#00ffec"/><stop offset=".915" stop-color="#00ffe6"/><stop offset="1" stop-color="#00ffb4"/></linearGradient>
<linearGradient id="b40" gradientUnits="userSpaceOnUse" x1="430.3" x2="640.18"><stop offset="0" stop-color="#ff9300"/><stop offset=".162" stop-color="#fff500"/><stop offset=".181" stop-color="#fcff00"/><stop offset=".379" stop-color="#79ff00"/><stop offset=".422" stop-color="#4cff00"/><stop offset=".46" stop-color="#10ff00"/><stop offset=".469" stop-color="#00ff02"/><stop offset=".517" stop-color="#00ff58"/><stop offset=".546" stop-color="#00ff79"/><stop offset=".596" stop-color="#00ff8f"/><stop offset=".691" stop-color="#0fa"/><stop offset=".779" stop-color="#00ffb8"/><stop offset=".874" stop-color="#00ffdb"/><stop offset=".912" stop-color="#00ffd7"/><stop offset="1" stop-color="#0fa"/></linearGradient>
<linearGradient id="b41" gradientUnits="userSpaceOnUse" x1="430.3" x2="640.18"><stop offset="0" stop-color="#ff8d00"/><stop offset=".186" stop-color="#fcff00"/><stop offset=".376" stop-color="#7cff00"/><stop offset=".417" stop-color="#51ff00"/><stop offset=".45" stop-color="#1dff00"/><stop offset=".467" stop-color="#00ff03"/><stop offset=".517" stop-color="#00ff64"/><stop offset=".543" stop-color="#00ff84"/><stop offset=".577" stop-color="#00ff91"/><stop offset=".7" stop-color="#00ffa8"/><stop offset=".779" stop-color="#00ffb0"/><stop offset=".879" stop-color="#0fc"/><stop offset=".927" stop-color="#00ffc3"/><stop offset="1" stop-color="#00ffa0"/></linearGradient>
<linearGradient id="b42" gradientUnits="userSpaceOnUse" x1="430.3" x2="640.18"><stop offset="0" stop-color="#f80"/><stop offset=".191" stop-color="#fcff00"/><stop offset=".372" stop-color="#81ff00"/><stop offset=".415" stop-color="#54ff00"/><stop offset=".445" stop-color="#24ff00"/><stop offset=".465" stop-color="#00ff02"/><stop offset=".517" stop-color="#00ff70"/><stop offset=".541" stop-color="#00ff90"/><stop offset=".565" stop-color="#00ff9a"/><stop offset=".627" stop-color="#00ff9b"/><stop offset=".698" stop-color="#00ffa4"/><stop offset=".784" stop-color="#00ffa8"/><stop offset=".881" stop-color="#00ffbc"/><stop offset=".939" stop-color="#00ffb0"/><stop offset="1" stop-color="#00ff95"/></linearGradient>
<linearGradient id="b43" gradientUnits="userSpaceOnUse" x1="430.3" x2="640.18"><stop offset="0" stop-color="#ff8200"/><stop offset=".195" stop-color="#fdff00"/><stop offset=".372" stop-color="#83ff00"/><stop offset=".417" stop-color="#52ff00"/><stop offset=".45" stop-color="#19ff00"/><stop offset=".462" stop-color="#0f0"/><stop offset=".517" stop-color="#00ff7c"/><stop offset=".541" stop-color="#00ffa0"/><stop offset=".557" stop-color="#00ffa8"/><stop offset=".612" stop-color="#00ff9a"/><stop offset=".696" stop-color="#00ffa0"/><stop offset=".781" stop-color="#00ff9e"/><stop offset=".886" stop-color="#00ffad"/><stop offset=".953" stop-color="#00ff9d"/><stop offset="1" stop-color="#00ff8a"/></linearGradient>
<linearGradient id="b44" gradientUnits="userSpaceOnUse" x1="430.3" x2="640.18"><stop offset="0" stop-color="#ff7c00"/><stop offset=".198" stop-color="#ff0"/><stop offset=".367" stop-color="#89ff00"/><stop offset=".41" stop-color="#5dff00"/><stop offset=".443" stop-color="#27ff00"/><stop offset=".462" stop-color="#00ff02"/><stop offset=".524" stop-color="#00ff96"/><stop offset=".546" stop-color="#00ffb6"/><stop offset=".56" stop-color="#00ffb8"/><stop offset=".6" stop-color="#00ff9d"/><stop offset=".705" stop-color="#0f9"/><stop offset=".784" stop-color="#00ff94"/><stop offset=".886" stop-color="#00ff9d"/><stop offset=".951" stop-color="#00ff91"/><stop offset="1" stop-color="#00ff80"/></linearGradient>
<linearGradient id="b45" gradientUnits="userSpaceOnUse" x1="430.3" x2="640.18"><stop offset="0" stop-color="#ff7600"/><stop offset=".183" stop-color="#fff200"/><stop offset=".21" stop-color="#fbff00"/><stop offset=".36" stop-color="#91ff00"/><stop offset=".403" stop-color="#67ff00"/><stop offset=".436" stop-color="#36ff00"/><stop offset=".462" stop-color="#00ff02"/><stop offset=".531" stop-color="#00ffb0"/><stop offset=".548" stop-color="#00ffcb"/><stop offset=".56" stop-color="#00ffcb"/><stop offset=".593" stop-color="#00ffa3"/><stop offset=".622" stop-color="#00ff98"/><stop offset=".693" stop-color="#00ff94"/><stop offset=".772" stop-color="#00ff8a"/><stop offset=".896" stop-color="#00ff8e"/><stop offset=".977" stop-color="#00ff7c"/><stop offset="1" stop-color="#00ff75"/></linearGradient>
<linearGradient id="b46" gradientUnits="userSpaceOnUse" x1="430.3" x2="640.18"><stop offset="0" stop-color="#ff7000"/><stop offset=".157" stop-color="#fd0"/><stop offset=".214" stop-color="#fcff00"/><stop offset=".348" stop-color="#9dff00"/><stop offset=".395" stop-color="#72ff00"/><stop offset=".431" stop-color="#41ff00"/><stop offset=".462" stop-color="#00ff01"/><stop offset=".534" stop-color="#00ffbd"/><stop offset=".55" stop-color="#00ffdb"/><stop offset=".56" stop-color="#00ffda"/><stop offset=".588" stop-color="#00ffa8"/><stop offset=".615" stop-color="#00ff96"/><stop offset=".693" stop-color="#00ff8c"/><stop offset=".769" stop-color="#00ff7f"/><stop offset=".915" stop-color="#00ff7e"/><stop offset="1" stop-color="#00ff6a"/></linearGradient>
<linearGradient id="b47" gradientUnits="userSpaceOnUse" x1="430.3" x2="640.18"><stop offset="0" stop-color="#ff6b00"/><stop offset=".155" stop-color="#ffd700"/><stop offset=".222" stop-color="#fcff00"/><stop offset=".353" stop-color="#9dff00"/><stop offset=".398" stop-color="#72ff00"/><stop offset=".434" stop-color="#3fff00"/><stop offset=".462" stop-color="#01ff00"/><stop offset=".534" stop-color="#00ffbc"/><stop offset=".548" stop-color="#00ffd7"/><stop offset=".557" stop-color="#00ffdb"/><stop offset=".577" stop-color="#0fb"/><stop offset=".596" stop-color="#00ff9e"/><stop offset=".624" stop-color="#00ff8e"/><stop offset=".696" stop-color="#00ff81"/><stop offset=".777" stop-color="#00ff73"/><stop offset=".927" stop-color="#00ff6f"/><stop offset="1" stop-color="#00ff5f"/></linearGradient>
<linearGradient id="b48" gradientUnits="userSpaceOnUse" x1="430.3" x2="640.18"><stop offset="0" stop-color="#f60"/><stop offset=".162" stop-color="#ffd700"/><stop offset=".229" stop-color="#fcff00"/><stop offset=".357" stop-color="#9dff00"/><stop offset=".4" stop-color="#72ff00"/><stop offset=".434" stop-color="#41ff00"/><stop offset=".465" stop-color="#00ff01"/><stop offset=".529" stop-color="#00ffa8"/><stop offset=".548" stop-color="#00ffc8"/><stop offset=".562" stop-color="#00ffc8"/><stop offset=".596" stop-color="#0f9"/><stop offset=".627" stop-color="#00ff85"/><stop offset=".767" stop-color="#00ff68"/><stop offset=".941" stop-color="#00ff60"/><stop offset="1" stop-color="#00ff54"/></linearGradient>
<linearGradient id="b49" gradientUnits="userSpaceOnUse" x1="430.3" x2="640.18"><stop offset="0" stop-color="#ff6100"/><stop offset=".172" stop-color="#ffd800"/><stop offset=".236" stop-color="#fcff00"/><stop offset=".355" stop-color="#a3ff00"/><stop offset=".4" stop-color="#76ff00"/><stop offset=".436" stop-color="#41ff00"/><stop offset=".467" stop-color="#00ff02"/><stop offset=".524" stop-color="#00ff8f"/><stop offset=".543" stop-color="#00ffaf"/><stop offset=".557" stop-color="#00ffb6"/><stop offset=".579" stop-color="#00ffa2"/><stop offset=".612" stop-color="#00ff82"/><stop offset=".662" stop-color="#00ff71"/><stop offset=".767" stop-color="#00ff5b"/><stop offset=".948" stop-color="#00ff53"/><stop offset="1" stop-color="#00ff4a"/></linearGradient>
<linearGradient id="b50" gradientUnits="userSpaceOnUse" x1="430.3" x2="640.18"><stop offset="0" stop-color="#ff5c00"/><stop offset=".179" stop-color="#ffd700"/><stop offset=".243" stop-color="#fdff00"/><stop offset=".362" stop-color="#a2ff00"/><stop offset=".407" stop-color="#71ff00"/><stop offset=".443" stop-color="#38ff00"/><stop offset=".469" stop-color="#0f0"/><stop offset=".522" stop-color="#00ff79"/><stop offset=".543" stop-color="#00ff98"/><stop offset=".56" stop-color="#00ff9e"/><stop offset=".596" stop-color="#00ff83"/><stop offset=".631" stop-color="#00ff6c"/><stop offset=".748" stop-color="#00ff50"/><stop offset=".965" stop-color="#00ff45"/><stop offset="1" stop-color="#00ff3f"/></linearGradient>
<linearGradient id="b51" gradientUnits="userSpaceOnUse" x1="430.3" x2="640.18"><stop offset="0" stop-color="#ff5700"/><stop offset=".191" stop-color="#ffd900"/><stop offset=".25" stop-color="#fdff00"/><stop offset=".369" stop-color="#a0ff00"/><stop offset=".417" stop-color="#69ff00"/><stop offset=".455" stop-color="#27ff00"/><stop offset=".474" stop-color="#00ff02"/><stop offset=".517" stop-color="#00ff5d"/><stop offset=".541" stop-color="#00ff7f"/><stop offset=".56" stop-color="#00ff86"/><stop offset=".588" stop-color="#00ff78"/><stop offset=".636" stop-color="#00ff5c"/><stop offset=".734" stop-color="#0f4"/><stop offset=".977" stop-color="#00ff38"/><stop offset="1" stop-color="#00ff35"/></linearGradient>
<linearGradient id="b52" gradientUnits="userSpaceOnUse" x1="430.3" x2="640.18"><stop offset="0" stop-color="#ff5200"/><stop offset=".255" stop-color="#ff0"/><stop offset=".367" stop-color="#a7ff00"/><stop offset=".415" stop-color="#72ff00"/><stop offset=".46" stop-color="#26ff00"/><stop offset=".479" stop-color="#0f0"/><stop offset=".519" stop-color="#00ff4d"/><stop offset=".543" stop-color="#00ff68"/><stop offset=".567" stop-color="#00ff6e"/><stop offset=".65" stop-color="#00ff46"/><stop offset=".741" stop-color="#00ff35"/><stop offset=".967" stop-color="#00ff2e"/><stop offset="1" stop-color="#00ff2a"/></linearGradient>
<linearGradient id="b53" gradientUnits="userSpaceOnUse" x1="430.3" x2="640.18"><stop offset="0" stop-color="#ff4d00"/><stop offset=".264" stop-color="#fdff00"/><stop offset=".374" stop-color="#a5ff00"/><stop offset=".422" stop-color="#6eff00"/><stop offset=".472" stop-color="#1aff00"/><stop offset=".486" stop-color="#0f0"/><stop offset=".522" stop-color="#00ff3b"/><stop offset=".55" stop-color="#00ff53"/><stop offset=".579" stop-color="#00ff53"/><stop offset=".669" stop-color="#00ff2f"/><stop offset=".777" stop-color="#00ff25"/><stop offset=".953" stop-color="#00ff24"/><stop offset="1" stop-color="#00ff20"/></linearGradient>
<linearGradient id="b54" gradientUnits="userSpaceOnUse" x1="430.3" x2="640.18"><stop offset="0" stop-color="#ff4800"/><stop offset=".272" stop-color="#fcff00"/><stop offset=".372" stop-color="#acff00"/><stop offset=".424" stop-color="#71ff00"/><stop offset=".472" stop-color="#27ff00"/><stop offset=".496" stop-color="#00ff01"/><stop offset=".534" stop-color="#00ff31"/><stop offset=".565" stop-color="#00ff3e"/><stop offset=".612" stop-color="#00ff31"/><stop offset=".684" stop-color="#00ff1b"/><stop offset=".808" stop-color="#00ff18"/><stop offset=".967" stop-color="#00ff18"/><stop offset="1" stop-color="#00ff15"/></linearGradient>
<linearGradient id="b55" gradientUnits="userSpaceOnUse" x1="430.3" x2="640.18"><stop offset="0" stop-color="#ff4300"/><stop offset=".248" stop-color="#ffeb00"/><stop offset=".276" stop-color="#fdff00"/><stop offset=".379" stop-color="#af0"/><stop offset=".431" stop-color="#6fff00"/><stop offset=".507" stop-color="#0f0"/><stop offset=".538" stop-color="#00ff1d"/><stop offset=".572" stop-color="#00ff26"/><stop offset=".624" stop-color="#00ff19"/><stop offset=".691" stop-color="#00ff09"/><stop offset=".948" stop-color="#00ff0e"/><stop offset="1" stop-color="#00ff0b"/></linearGradient>
<linearGradient id="b56" gradientUnits="userSpaceOnUse" x1="430.3" x2="640.18"><stop offset="0" stop-color="#ff3e00"/><stop offset=".214" stop-color="#ffcd00"/><stop offset=".283" stop-color="#fcff00"/><stop offset=".391" stop-color="#a3ff00"/><stop offset=".448" stop-color="#62ff00"/><stop offset=".51" stop-color="#10ff00"/><stop offset=".531" stop-color="#00ff02"/><stop offset=".569" stop-color="#00ff0f"/><stop offset=".619" stop-color="#00ff08"/><stop offset=".658" stop-color="#04ff00"/><stop offset=".731" stop-color="#07ff00"/><stop offset=".889" stop-color="#00ff03"/><stop offset="1" stop-color="#00ff01"/></linearGradient>
<linearGradient id="b57" gradientUnits="userSpaceOnUse" x1="430.3" x2="640.18"><stop offset="0" stop-color="#ff3800"/><stop offset=".198" stop-color="#fb0"/><stop offset=".288" stop-color="#fcff00"/><stop offset=".395" stop-color="#a3ff00"/><stop offset=".453" stop-color="#6f0"/><stop offset=".507" stop-color="#24ff00"/><stop offset=".546" stop-color="#0cff00"/><stop offset=".593" stop-color="#06ff00"/><stop offset=".681" stop-color="#18ff00"/><stop offset=".929" stop-color="#08ff00"/><stop offset="1" stop-color="#0aff00"/></linearGradient>
<linearGradient id="b58" gradientUnits="userSpaceOnUse" x1="430.3" x2="640.18"><stop offset="0" stop-color="#f30"/><stop offset=".15" stop-color="#ff9300"/><stop offset=".269" stop-color="#ffef00"/><stop offset=".293" stop-color="#fcff00"/><stop offset=".424" stop-color="#8dff00"/><stop offset=".507" stop-color="#34ff00"/><stop offset=".546" stop-color="#20ff00"/><stop offset=".598" stop-color="#19ff00"/><stop offset=".681" stop-color="#28ff00"/><stop offset=".905" stop-color="#14ff00"/><stop offset="1" stop-color="#14ff00"/></linearGradient>
<linearGradient id="b59" gradientUnits="userSpaceOnUse" x1="430.3" x2="640.18"><stop offset="0" stop-color="#ff2e00"/><stop offset=".126" stop-color="#ff7b00"/><stop offset=".25" stop-color="#ffdb00"/><stop offset=".295" stop-color="#fdff00"/><stop offset=".45" stop-color="#79ff00"/><stop offset=".505" stop-color="#4f0"/><stop offset=".55" stop-color="#30ff00"/><stop offset=".607" stop-color="#2bff00"/><stop offset=".681" stop-color="#37ff00"/><stop offset=".903" stop-color="#1fff00"/><stop offset="1" stop-color="#1eff00"/></linearGradient>
<linearGradient id="b60" gradientUnits="userSpaceOnUse" x1="430.3" x2="640.18"><stop offset="0" stop-color="#ff2900"/><stop offset=".11" stop-color="#ff6800"/><stop offset=".224" stop-color="#ffc000"/><stop offset=".298" stop-color="#fdff00"/><stop offset=".51" stop-color="#4eff00"/><stop offset=".562" stop-color="#3dff00"/><stop offset=".622" stop-color="#3dff00"/><stop offset=".688" stop-color="#4f0"/><stop offset=".891" stop-color="#2bff00"/><stop offset="1" stop-color="#29ff00"/></linearGradient>
<linearGradient id="b61" gradientUnits="userSpaceOnUse" x1="430.3" x2="640.18"><stop offset="0" stop-color="#ff2400"/><stop offset=".102" stop-color="#ff5b00"/><stop offset=".207" stop-color="#ffad00"/><stop offset=".3" stop-color="#fdff00"/><stop offset=".491" stop-color="#65ff00"/><stop offset=".546" stop-color="#4eff00"/><stop offset=".612" stop-color="#4aff00"/><stop offset=".686" stop-color="#50ff00"/><stop offset=".896" stop-color="#36ff00"/><stop offset="1" stop-color="#3f0"/></linearGradient>
<linearGradient id="b62" gradientUnits="userSpaceOnUse" x1="430.3" x2="640.18"><stop offset="0" stop-color="#ff1f00"/><stop offset=".098" stop-color="#ff4f00"/><stop offset=".183" stop-color="#ff9300"/><stop offset=".3" stop-color="#feff00"/><stop offset=".405" stop-color="#a9ff00"/><stop offset=".505" stop-color="#6f0"/><stop offset=".565" stop-color="#57ff00"/><stop offset=".641" stop-color="#5aff00"/><stop offset=".715" stop-color="#59ff00"/><stop offset=".884" stop-color="#42ff00"/><stop offset="1" stop-color="#3dff00"/></linearGradient>
<linearGradient id="b63" gradientUnits="userSpaceOnUse" x1="430.3" x2="640.18"><stop offset="0" stop-color="#ff1900"/><stop offset=".098" stop-color="#ff4600"/><stop offset=".164" stop-color="#ff7c00"/><stop offset=".3" stop-color="#ff0"/><stop offset=".391" stop-color="#b4ff00"/><stop offset=".496" stop-color="#73ff00"/><stop offset=".553" stop-color="#63ff00"/><stop offset=".65" stop-color="#6f0"/><stop offset=".727" stop-color="#62ff00"/><stop offset=".884" stop-color="#4dff00"/><stop offset="1" stop-color="#47ff00"/></linearGradient>
<linearGradient id="b64" gradientUnits="userSpaceOnUse" x1="430.3" x2="640.18"><stop offset="0" stop-color="#ff1300"/><stop offset=".095" stop-color="#ff3b00"/><stop offset=".169" stop-color="#ff7900"/><stop offset=".303" stop-color="#fdff00"/><stop offset=".384" stop-color="#b9ff00"/><stop offset=".488" stop-color="#7cff00"/><stop offset=".548" stop-color="#6dff00"/><stop offset=".648" stop-color="#70ff00"/><stop offset=".722" stop-color="#6dff00"/><stop offset=".889" stop-color="#57ff00"/><stop offset="1" stop-color="#51ff00"/></linearGradient>
<linearGradient id="b65" gradientUnits="userSpaceOnUse" x1="430.3" x2="640.18"><stop offset="0" stop-color="#ff0c00"/><stop offset=".091" stop-color="#ff2e00"/><stop offset=".143" stop-color="#ff5800"/><stop offset=".303" stop-color="#fdff00"/><stop offset=".388" stop-color="#b5ff00"/><stop offset=".481" stop-color="#84ff00"/><stop offset=".541" stop-color="#76ff00"/><stop offset=".641" stop-color="#79ff00"/><stop offset=".719" stop-color="#7f0"/><stop offset=".891" stop-color="#61ff00"/><stop offset="1" stop-color="#5bff00"/></linearGradient>
<linearGradient id="b66" gradientUnits="userSpaceOnUse" x1="430.3" x2="640.18"><stop offset="0" stop-color="#ff0500"/><stop offset=".086" stop-color="#ff2100"/><stop offset=".133" stop-color="#ff4600"/><stop offset=".3" stop-color="#ff0"/><stop offset=".369" stop-color="#c1ff00"/><stop offset=".443" stop-color="#97ff00"/><stop offset=".51" stop-color="#80ff00"/><stop offset=".622" stop-color="#80ff00"/><stop offset=".722" stop-color="#80ff00"/><stop offset=".891" stop-color="#6bff00"/><stop offset="1" stop-color="#64ff00"/></linearGradient>
<linearGradient id="b67" gradientUnits="userSpaceOnUse" x1="430.3" x2="640.18"><stop offset="0" stop-color="#ff0001"/><stop offset=".081" stop-color="#ff1400"/><stop offset=".119" stop-color="#ff2f00"/><stop offset=".26" stop-color="#ffd000"/><stop offset=".303" stop-color="#fdff00"/><stop offset=".364" stop-color="#c3ff00"/><stop offset=".424" stop-color="#a0ff00"/><stop offset=".498" stop-color="#86ff00"/><stop offset=".605" stop-color="#86ff00"/><stop offset=".698" stop-color="#8bff00"/><stop offset=".891" stop-color="#75ff00"/><stop offset="1" stop-color="#6dff00"/></linearGradient>
<linearGradient id="b68" gradientUnits="userSpaceOnUse" x1="430.3" x2="640.18"><stop offset="0" stop-color="#fe0204"/><stop offset=".067" stop-color="#ff0300"/><stop offset=".11" stop-color="#ff1b00"/><stop offset=".241" stop-color="#ffb500"/><stop offset=".3" stop-color="#ff0"/><stop offset=".362" stop-color="#c3ff00"/><stop offset=".422" stop-color="#a0ff00"/><stop offset=".498" stop-color="#89ff00"/><stop offset=".588" stop-color="#8bff00"/><stop offset=".693" stop-color="#93ff00"/><stop offset=".939" stop-color="#7aff00"/><stop offset="1" stop-color="#76ff00"/></linearGradient>
<linearGradient id="b69" gradientUnits="userSpaceOnUse" x1="430.3" x2="640.18"><stop offset="0" stop-color="#fd0407"/><stop offset=".091" stop-color="#ff0200"/><stop offset=".121" stop-color="#ff1d00"/><stop offset=".267" stop-color="#ffd500"/><stop offset=".3" stop-color="#ff0"/><stop offset=".36" stop-color="#c3ff00"/><stop offset=".415" stop-color="#a2ff00"/><stop offset=".493" stop-color="#8cff00"/><stop offset=".581" stop-color="#90ff00"/><stop offset=".688" stop-color="#9aff00"/><stop offset=".982" stop-color="#80ff00"/><stop offset="1" stop-color="#7fff00"/></linearGradient>
<linearGradient id="b70" gradientUnits="userSpaceOnUse" x1="430.3" x2="640.18"><stop offset="0" stop-color="#fc060b"/><stop offset=".095" stop-color="#ff0102"/><stop offset=".107" stop-color="#ff0400"/><stop offset=".25" stop-color="#ffbc00"/><stop offset=".3" stop-color="#ff0"/><stop offset=".355" stop-color="#c6ff00"/><stop offset=".405" stop-color="#a4ff00"/><stop offset=".486" stop-color="#8eff00"/><stop offset=".56" stop-color="#92ff00"/><stop offset=".684" stop-color="#a1ff00"/><stop offset="1" stop-color="#87ff00"/></linearGradient>
<linearGradient id="b71" gradientUnits="userSpaceOnUse" x1="430.3" x2="640.18"><stop offset="0" stop-color="#fb0810"/><stop offset=".091" stop-color="#fd0307"/><stop offset=".114" stop-color="#ff0200"/><stop offset=".2" stop-color="#ff7500"/><stop offset=".3" stop-color="#ff0"/><stop offset=".355" stop-color="#c4ff00"/><stop offset=".403" stop-color="#a4ff00"/><stop offset=".469" stop-color="#91ff00"/><stop offset=".538" stop-color="#92ff00"/><stop offset=".677" stop-color="#a7ff00"/><stop offset=".81" stop-color="#9dff00"/><stop offset="1" stop-color="#8eff00"/></linearGradient>
<linearGradient id="b72" gradientUnits="userSpaceOnUse" x1="430.3" x2="640.18"><stop offset="0" stop-color="#fa0b16"/><stop offset=".091" stop-color="#fc050b"/><stop offset=".121" stop-color="#ff0200"/><stop offset=".195" stop-color="#ff6a00"/><stop offset=".25" stop-color="#ffb500"/><stop offset=".3" stop-color="#fffe00"/><stop offset=".357" stop-color="#c1ff00"/><stop offset=".405" stop-color="#a1ff00"/><stop offset=".472" stop-color="#91ff00"/><stop offset=".534" stop-color="#94ff00"/><stop offset=".674" stop-color="#adff00"/><stop offset=".793" stop-color="#a6ff00"/><stop offset="1" stop-color="#95ff00"/></linearGradient>
<linearGradient id="b73" gradientUnits="userSpaceOnUse" x1="430.3" x2="640.18"><stop offset="0" stop-color="#f80e1c"/><stop offset=".088" stop-color="#fb0810"/><stop offset=".129" stop-color="#ff0200"/><stop offset=".181" stop-color="#ff5000"/><stop offset=".243" stop-color="#ffa500"/><stop offset=".303" stop-color="#feff00"/><stop offset=".355" stop-color="#c2ff00"/><stop offset=".403" stop-color="#a1ff00"/><stop offset=".462" stop-color="#92ff00"/><stop offset=".526" stop-color="#95ff00"/><stop offset=".672" stop-color="#b3ff00"/><stop offset=".793" stop-color="#adff00"/><stop offset="1" stop-color="#9bff00"/></linearGradient>
<linearGradient id="b74" gradientUnits="userSpaceOnUse" x1="430.3" x2="640.18"><stop offset="0" stop-color="#f71122"/><stop offset=".083" stop-color="#fa0b16"/><stop offset=".133" stop-color="#f00"/><stop offset=".183" stop-color="#ff4b00"/><stop offset=".236" stop-color="#ff9300"/><stop offset=".303" stop-color="#fffe00"/><stop offset=".357" stop-color="#c0ff00"/><stop offset=".4" stop-color="#a2ff00"/><stop offset=".455" stop-color="#93ff00"/><stop offset=".519" stop-color="#96ff00"/><stop offset=".667" stop-color="#b8ff00"/><stop offset=".76" stop-color="#b7ff00"/><stop offset="1" stop-color="#a2ff00"/></linearGradient>
<linearGradient id="b75" gradientUnits="userSpaceOnUse" x1="430.3" x2="640.18"><stop offset="0" stop-color="#f51428"/><stop offset=".081" stop-color="#f80e1c"/><stop offset=".141" stop-color="#ff0001"/><stop offset=".183" stop-color="#ff4000"/><stop offset=".233" stop-color="#ff8600"/><stop offset=".305" stop-color="#fffe00"/><stop offset=".353" stop-color="#c6ff00"/><stop offset=".395" stop-color="#a5ff00"/><stop offset=".448" stop-color="#95ff00"/><stop offset=".517" stop-color="#98ff00"/><stop offset=".662" stop-color="#bdff00"/><stop offset=".755" stop-color="#beff00"/><stop offset="1" stop-color="#a8ff00"/></linearGradient>
<linearGradient id="b76" gradientUnits="userSpaceOnUse" x1="430.3" x2="640.18"><stop offset="0" stop-color="#f4172e"/><stop offset=".079" stop-color="#f71122"/><stop offset=".15" stop-color="#f00"/><stop offset=".183" stop-color="#f30"/><stop offset=".231" stop-color="#f70"/><stop offset=".298" stop-color="#fe0"/><stop offset=".31" stop-color="#fdff00"/><stop offset=".353" stop-color="#c8ff00"/><stop offset=".398" stop-color="#a5ff00"/><stop offset=".45" stop-color="#97ff00"/><stop offset=".515" stop-color="#9bff00"/><stop offset=".662" stop-color="#c3ff00"/><stop offset=".762" stop-color="#c4ff00"/><stop offset="1" stop-color="#afff00"/></linearGradient>
<linearGradient id="b77" gradientUnits="userSpaceOnUse" x1="430.3" x2="640.18"><stop offset="0" stop-color="#f21b35"/><stop offset=".079" stop-color="#f51428"/><stop offset=".15" stop-color="#fe0306"/><stop offset=".162" stop-color="#ff0300"/><stop offset=".226" stop-color="#ff6200"/><stop offset=".303" stop-color="#fff000"/><stop offset=".314" stop-color="#fcff00"/><stop offset=".357" stop-color="#c7ff00"/><stop offset=".4" stop-color="#a8ff00"/><stop offset=".45" stop-color="#9aff00"/><stop offset=".517" stop-color="#a0ff00"/><stop offset=".662" stop-color="#c9ff00"/><stop offset=".748" stop-color="#cf0"/><stop offset="1" stop-color="#b5ff00"/></linearGradient>
<linearGradient id="b78" gradientUnits="userSpaceOnUse" x1="430.3" x2="640.18"><stop offset="0" stop-color="#f01e3b"/><stop offset=".079" stop-color="#f4172e"/><stop offset=".148" stop-color="#fc070e"/><stop offset=".174" stop-color="#ff0200"/><stop offset=".222" stop-color="#ff4900"/><stop offset=".3" stop-color="#ffe500"/><stop offset=".317" stop-color="#feff00"/><stop offset=".357" stop-color="#cf0"/><stop offset=".405" stop-color="#af0"/><stop offset=".455" stop-color="#9eff00"/><stop offset=".536" stop-color="#af0"/><stop offset=".658" stop-color="#cfff00"/><stop offset=".739" stop-color="#d3ff00"/><stop offset="1" stop-color="#bcff00"/></linearGradient>
<linearGradient id="b79" gradientUnits="userSpaceOnUse" x1="430.3" x2="640.18"><stop offset="0" stop-color="#ef2142"/><stop offset=".086" stop-color="#f21a33"/><stop offset=".188" stop-color="#ff0200"/><stop offset=".229" stop-color="#ff4500"/><stop offset=".295" stop-color="#ffd300"/><stop offset=".322" stop-color="#ff0"/><stop offset=".357" stop-color="#d3ff00"/><stop offset=".403" stop-color="#b2ff00"/><stop offset=".45" stop-color="#a4ff00"/><stop offset=".541" stop-color="#b2ff00"/><stop offset=".658" stop-color="#d6ff00"/><stop offset=".741" stop-color="#dbff00"/><stop offset="1" stop-color="#c3ff00"/></linearGradient>
<linearGradient id="b80" gradientUnits="userSpaceOnUse" x1="430.3" x2="640.18"><stop offset="0" stop-color="#ed2448"/><stop offset=".088" stop-color="#f11d3a"/><stop offset=".176" stop-color="#fc060d"/><stop offset=".2" stop-color="#f00"/><stop offset=".231" stop-color="#ff3800"/><stop offset=".293" stop-color="#ffc400"/><stop offset=".326" stop-color="#fffe00"/><stop offset=".369" stop-color="#d1ff00"/><stop offset=".415" stop-color="#b5ff00"/><stop offset=".453" stop-color="#acff00"/><stop offset=".557" stop-color="#beff00"/><stop offset=".653" stop-color="#df0"/><stop offset=".739" stop-color="#e3ff00"/><stop offset="1" stop-color="#caff00"/></linearGradient>
<linearGradient id="b81" gradientUnits="userSpaceOnUse" x1="430.3" x2="640.18"><stop offset="0" stop-color="#eb284f"/><stop offset=".095" stop-color="#ef2040"/><stop offset=".174" stop-color="#fa0b16"/><stop offset=".212" stop-color="#f00"/><stop offset=".238" stop-color="#ff3700"/><stop offset=".286" stop-color="#ffa900"/><stop offset=".319" stop-color="#ffe900"/><stop offset=".336" stop-color="#fdff00"/><stop offset=".379" stop-color="#d3ff00"/><stop offset=".431" stop-color="#b8ff00"/><stop offset=".481" stop-color="#b8ff00"/><stop offset=".572" stop-color="#cf0"/><stop offset=".658" stop-color="#e6ff00"/><stop offset=".741" stop-color="#ebff00"/><stop offset="1" stop-color="#d3ff00"/></linearGradient>
<linearGradient id="b82" gradientUnits="userSpaceOnUse" x1="430.3" x2="640.18"><stop offset="0" stop-color="#ea2b55"/><stop offset=".1" stop-color="#ed2448"/><stop offset=".16" stop-color="#f51327"/><stop offset=".222" stop-color="#ff0001"/><stop offset=".248" stop-color="#ff3e00"/><stop offset=".291" stop-color="#ffa700"/><stop offset=".326" stop-color="#ffe800"/><stop offset=".345" stop-color="#feff00"/><stop offset=".395" stop-color="#d4ff00"/><stop offset=".443" stop-color="#c1ff00"/><stop offset=".557" stop-color="#d1ff00"/><stop offset=".653" stop-color="#ef0"/><stop offset=".739" stop-color="#f4ff00"/><stop offset="1" stop-color="#dcff00"/></linearGradient>
<linearGradient id="b83" gradientUnits="userSpaceOnUse" x1="430.3" x2="640.18"><stop offset="0" stop-color="#e82e5c"/><stop offset=".105" stop-color="#eb2951"/><stop offset=".155" stop-color="#f21a33"/><stop offset=".229" stop-color="#ff0101"/><stop offset=".238" stop-color="#ff1500"/><stop offset=".286" stop-color="#ff8f00"/><stop offset=".319" stop-color="#ffcf00"/><stop offset=".357" stop-color="#ff0"/><stop offset=".405" stop-color="#dcff00"/><stop offset=".45" stop-color="#ceff00"/><stop offset=".569" stop-color="#e0ff00"/><stop offset=".655" stop-color="#f8ff00"/><stop offset=".743" stop-color="#fdff00"/><stop offset="1" stop-color="#e6ff00"/></linearGradient>
<linearGradient id="b84" gradientUnits="userSpaceOnUse" x1="430.3" x2="640.18"><stop offset="0" stop-color="#e73162"/><stop offset=".107" stop-color="#e82e5c"/><stop offset=".155" stop-color="#f01e3d"/><stop offset=".238" stop-color="#ff0300"/><stop offset=".286" stop-color="#ff8000"/><stop offset=".319" stop-color="#ffbf00"/><stop offset=".36" stop-color="#fff200"/><stop offset=".376" stop-color="#fdff00"/><stop offset=".422" stop-color="#e3ff00"/><stop offset=".467" stop-color="#df0"/><stop offset=".579" stop-color="#efff00"/><stop offset=".648" stop-color="#fffd00"/><stop offset=".736" stop-color="#fff700"/><stop offset=".874" stop-color="#fcff00"/><stop offset="1" stop-color="#f1ff00"/></linearGradient>
<linearGradient id="b85" gradientUnits="userSpaceOnUse" x1="430.3" x2="640.18"><stop offset="0" stop-color="#e53468"/><stop offset=".079" stop-color="#e53569"/><stop offset=".112" stop-color="#e63366"/><stop offset=".148" stop-color="#ec274d"/><stop offset=".243" stop-color="#ff0101"/><stop offset=".257" stop-color="#ff2500"/><stop offset=".286" stop-color="#ff7000"/><stop offset=".319" stop-color="#ffaf00"/><stop offset=".36" stop-color="#ffe200"/><stop offset=".398" stop-color="#ff0"/><stop offset=".443" stop-color="#ef0"/><stop offset=".538" stop-color="#f4ff00"/><stop offset=".603" stop-color="#fffc00"/><stop offset=".698" stop-color="#ffed00"/><stop offset="1" stop-color="#fcff00"/></linearGradient>
<linearGradient id="b86" gradientUnits="userSpaceOnUse" x1="430.3" x2="640.18"><stop offset="0" stop-color="#e4376e"/><stop offset=".062" stop-color="#e4386f"/><stop offset=".105" stop-color="#e23b76"/><stop offset=".133" stop-color="#e63366"/><stop offset=".186" stop-color="#f21b36"/><stop offset=".245" stop-color="#fe0306"/><stop offset=".25" stop-color="#ff0001"/><stop offset=".286" stop-color="#ff5f00"/><stop offset=".319" stop-color="#ff9d00"/><stop offset=".362" stop-color="#ffd200"/><stop offset=".405" stop-color="#fff200"/><stop offset=".448" stop-color="#feff00"/><stop offset=".562" stop-color="#fff800"/><stop offset=".681" stop-color="#ffe400"/><stop offset=".812" stop-color="#ffe800"/><stop offset="1" stop-color="#fff700"/></linearGradient>
<linearGradient id="b87" gradientUnits="userSpaceOnUse" x1="430.3" x2="640.18"><stop offset="0" stop-color="#e23a74"/><stop offset=".062" stop-color="#e23c77"/><stop offset=".102" stop-color="#df4283"/><stop offset=".126" stop-color="#e13c78"/><stop offset=".183" stop-color="#ef2142"/><stop offset=".248" stop-color="#fc050b"/><stop offset=".257" stop-color="#ff0101"/><stop offset=".267" stop-color="#ff1900"/><stop offset=".291" stop-color="#ff5600"/><stop offset=".326" stop-color="#ff9400"/><stop offset=".369" stop-color="#ffc700"/><stop offset=".415" stop-color="#ffe500"/><stop offset=".467" stop-color="#fff000"/><stop offset=".588" stop-color="#ffe600"/><stop offset=".696" stop-color="#ffd900"/><stop offset="1" stop-color="#ffec00"/></linearGradient>
<linearGradient id="b88" gradientUnits="userSpaceOnUse" x1="430.3" x2="640.18"><stop offset="0" stop-color="#e13d7a"/><stop offset=".06" stop-color="#e0407f"/><stop offset=".105" stop-color="#dc488f"/><stop offset=".131" stop-color="#df4181"/><stop offset=".183" stop-color="#ec264c"/><stop offset=".248" stop-color="#fa0a13"/><stop offset=".267" stop-color="#ff0200"/><stop offset=".291" stop-color="#ff4000"/><stop offset=".324" stop-color="#ff7c00"/><stop offset=".369" stop-color="#ffb400"/><stop offset=".41" stop-color="#ffd100"/><stop offset=".462" stop-color="#ffdf00"/><stop offset=".584" stop-color="#ffda00"/><stop offset=".696" stop-color="#ffcf00"/><stop offset="1" stop-color="#ffe100"/></linearGradient>
<linearGradient id="b89" gradientUnits="userSpaceOnUse" x1="430.3" x2="640.18"><stop offset="0" stop-color="#df4080"/><stop offset=".057" stop-color="#de4386"/><stop offset=".105" stop-color="#d94d99"/><stop offset=".129" stop-color="#dc478e"/><stop offset=".2" stop-color="#ed2549"/><stop offset=".274" stop-color="#ff0001"/><stop offset=".307" stop-color="#ff4a00"/><stop offset=".343" stop-color="#ff8200"/><stop offset=".384" stop-color="#ffae00"/><stop offset=".424" stop-color="#ffc500"/><stop offset=".481" stop-color="#ffd000"/><stop offset=".617" stop-color="#ffca00"/><stop offset=".724" stop-color="#ffc500"/><stop offset="1" stop-color="#ffd600"/></linearGradient>
<linearGradient id="b90" gradientUnits="userSpaceOnUse" x1="430.3" x2="640.18"><stop offset="0" stop-color="#de4386"/><stop offset=".057" stop-color="#dc478d"/><stop offset=".107" stop-color="#d751a1"/><stop offset=".133" stop-color="#da4a94"/><stop offset=".26" stop-color="#f90c18"/><stop offset=".283" stop-color="#ff0001"/><stop offset=".317" stop-color="#ff4500"/><stop offset=".357" stop-color="#ff8100"/><stop offset=".398" stop-color="#ffa700"/><stop offset=".453" stop-color="#ffbd00"/><stop offset=".548" stop-color="#ffc200"/><stop offset=".71" stop-color="#fb0"/><stop offset="1" stop-color="#ffcb00"/></linearGradient>
<linearGradient id="b91" gradientUnits="userSpaceOnUse" x1="430.3" x2="640.18"><stop offset="0" stop-color="#dd468b"/><stop offset=".057" stop-color="#db4a93"/><stop offset=".107" stop-color="#d554a8"/><stop offset=".131" stop-color="#d84f9e"/><stop offset=".245" stop-color="#f31830"/><stop offset=".293" stop-color="#ff0001"/><stop offset=".334" stop-color="#ff4c00"/><stop offset=".372" stop-color="#ff7f00"/><stop offset=".415" stop-color="#ffa000"/><stop offset=".484" stop-color="#ffb300"/><stop offset=".653" stop-color="#ffb200"/><stop offset="1" stop-color="#ffc100"/></linearGradient>
<linearGradient id="b92" gradientUnits="userSpaceOnUse" x1="430.3" x2="640.18"><stop offset="0" stop-color="#dc488f"/><stop offset=".06" stop-color="#d94c98"/><stop offset=".105" stop-color="#d457ad"/><stop offset=".129" stop-color="#d653a6"/><stop offset=".236" stop-color="#ef2142"/><stop offset=".295" stop-color="#fe0306"/><stop offset=".305" stop-color="#ff0300"/><stop offset=".341" stop-color="#f40"/><stop offset=".384" stop-color="#ff7a00"/><stop offset=".419" stop-color="#ff9200"/><stop offset=".491" stop-color="#ffa700"/><stop offset=".758" stop-color="#ffac00"/><stop offset="1" stop-color="#ffb800"/></linearGradient>
<linearGradient id="b93" gradientUnits="userSpaceOnUse" x1="430.3" x2="640.18"><stop offset="0" stop-color="#db4992"/><stop offset=".06" stop-color="#d94e9b"/><stop offset=".11" stop-color="#d359b1"/><stop offset=".143" stop-color="#d8509f"/><stop offset=".236" stop-color="#ed2549"/><stop offset=".293" stop-color="#fb070f"/><stop offset=".312" stop-color="#f00"/><stop offset=".357" stop-color="#ff4c00"/><stop offset=".391" stop-color="#ff7100"/><stop offset=".426" stop-color="#ff8700"/><stop offset=".498" stop-color="#ff9c00"/><stop offset=".796" stop-color="#ffa700"/><stop offset="1" stop-color="#ffb000"/></linearGradient>
<linearGradient id="b94" gradientUnits="userSpaceOnUse" x1="430.3" x2="640.18"><stop offset="0" stop-color="#db4a93"/><stop offset=".064" stop-color="#d84f9e"/><stop offset=".11" stop-color="#d458af"/><stop offset=".143" stop-color="#d751a1"/><stop offset=".233" stop-color="#eb2951"/><stop offset=".295" stop-color="#fb0912"/><stop offset=".322" stop-color="#ff0200"/><stop offset=".36" stop-color="#ff4100"/><stop offset=".395" stop-color="#ff6800"/><stop offset=".438" stop-color="#ff8000"/><stop offset=".503" stop-color="#ff9200"/><stop offset=".881" stop-color="#ffa300"/><stop offset="1" stop-color="#fa0"/></linearGradient>
<linearGradient id="b95" gradientUnits="userSpaceOnUse" x1="430.3" x2="640.18"><stop offset="0" stop-color="#db4a93"/><stop offset=".069" stop-color="#d850a0"/><stop offset=".112" stop-color="#d556ab"/><stop offset=".152" stop-color="#d94d9a"/><stop offset=".231" stop-color="#ea2b57"/><stop offset=".298" stop-color="#fa0b15"/><stop offset=".329" stop-color="#ff0200"/><stop offset=".367" stop-color="#ff3e00"/><stop offset=".405" stop-color="#ff6400"/><stop offset=".465" stop-color="#ff8000"/><stop offset=".538" stop-color="#ff8c00"/><stop offset=".884" stop-color="#ff9e00"/><stop offset="1" stop-color="#ffa400"/></linearGradient>
<linearGradient id="b96" gradientUnits="userSpaceOnUse" x1="430.3" x2="640.18"><stop offset="0" stop-color="#db4992"/><stop offset=".093" stop-color="#d652a4"/><stop offset=".131" stop-color="#d751a2"/><stop offset=".179" stop-color="#de4386"/><stop offset=".241" stop-color="#ec284f"/><stop offset=".307" stop-color="#fb0911"/><stop offset=".334" stop-color="#f00"/><stop offset=".372" stop-color="#ff3a00"/><stop offset=".412" stop-color="#ff5f00"/><stop offset=".484" stop-color="#ff7d00"/><stop offset=".665" stop-color="#ff8e00"/><stop offset=".884" stop-color="#f90"/><stop offset="1" stop-color="#ffa000"/></linearGradient>
<linearGradient id="b97" gradientUnits="userSpaceOnUse" x1="430.3" x2="640.18"><stop offset="0" stop-color="#db4890"/><stop offset=".11" stop-color="#d8509f"/><stop offset=".148" stop-color="#da4c98"/><stop offset=".205" stop-color="#e33971"/><stop offset=".307" stop-color="#fa0a14"/><stop offset=".338" stop-color="#f00"/><stop offset=".374" stop-color="#ff3400"/><stop offset=".415" stop-color="#ff5800"/><stop offset=".467" stop-color="#ff7100"/><stop offset=".555" stop-color="#ff8000"/><stop offset=".841" stop-color="#ff9500"/><stop offset=".996" stop-color="#ff9b00"/><stop offset="1" stop-color="#ff9c00"/></linearGradient>
<linearGradient id="b98" gradientUnits="userSpaceOnUse" x1="430.3" x2="640.18"><stop offset="0" stop-color="#dc478e"/><stop offset=".105" stop-color="#d94d9a"/><stop offset=".152" stop-color="#db4992"/><stop offset=".21" stop-color="#e4366c"/><stop offset=".307" stop-color="#f90b16"/><stop offset=".343" stop-color="#ff0100"/><stop offset=".379" stop-color="#ff3200"/><stop offset=".426" stop-color="#ff5900"/><stop offset=".493" stop-color="#ff7200"/><stop offset=".75" stop-color="#ff8d00"/><stop offset=".996" stop-color="#ff9800"/><stop offset="1" stop-color="#f90"/></linearGradient>
<linearGradient id="b99" gradientUnits="userSpaceOnUse" x1="430.3" x2="640.18"><stop offset="0" stop-color="#dd468b"/><stop offset=".1" stop-color="#da4b96"/><stop offset=".152" stop-color="#dc478e"/><stop offset=".202" stop-color="#e33870"/><stop offset=".317" stop-color="#fb0911"/><stop offset=".345" stop-color="#f00"/><stop offset=".388" stop-color="#ff3600"/><stop offset=".434" stop-color="#ff5700"/><stop offset=".5" stop-color="#ff6e00"/><stop offset=".746" stop-color="#ff8a00"/><stop offset=".993" stop-color="#ff9500"/><stop offset="1" stop-color="#ff9600"/></linearGradient>
<linearGradient id="b100" gradientUnits="userSpaceOnUse" x1="430.3" x2="640.18"><stop offset="0" stop-color="#d48"/><stop offset=".1" stop-color="#db4a93"/><stop offset=".157" stop-color="#dd4589"/><stop offset=".212" stop-color="#e63366"/><stop offset=".322" stop-color="#fb080f"/><stop offset=".35" stop-color="#ff0200"/><stop offset=".388" stop-color="#ff3100"/><stop offset=".434" stop-color="#ff5200"/><stop offset=".498" stop-color="#ff6900"/><stop offset=".734" stop-color="#ff8700"/><stop offset=".996" stop-color="#ff9300"/><stop offset="1" stop-color="#ff9400"/></linearGradient>
<linearGradient id="b101" gradientUnits="userSpaceOnUse" x1="430.3" x2="640.18"><stop offset="0" stop-color="#de4284"/><stop offset=".1" stop-color="#dc4890"/><stop offset=".162" stop-color="#df4283"/><stop offset=".229" stop-color="#ea2c57"/><stop offset=".322" stop-color="#fb0810"/><stop offset=".35" stop-color="#f00"/><stop offset=".393" stop-color="#ff3100"/><stop offset=".443" stop-color="#ff5300"/><stop offset=".515" stop-color="#ff6800"/><stop offset=".734" stop-color="#ff8500"/><stop offset=".993" stop-color="#ff9100"/><stop offset="1" stop-color="#ff9200"/></linearGradient>
<linearGradient id="b102" gradientUnits="userSpaceOnUse" x1="430.3" x2="640.18"><stop offset="0" stop-color="#df4080"/><stop offset=".1" stop-color="#dc478d"/><stop offset=".157" stop-color="#df4181"/><stop offset=".214" stop-color="#e8305f"/><stop offset=".329" stop-color="#fc060c"/><stop offset=".353" stop-color="#f00"/><stop offset=".393" stop-color="#ff2d00"/><stop offset=".441" stop-color="#ff4e00"/><stop offset=".507" stop-color="#ff6300"/><stop offset=".719" stop-color="#ff8200"/><stop offset=".998" stop-color="#ff9000"/><stop offset="1" stop-color="#ff9100"/></linearGradient>
<linearGradient id="b103" gradientUnits="userSpaceOnUse" x1="430.3" x2="640.18"><stop offset="0" stop-color="#e03f7d"/><stop offset=".102" stop-color="#dd458a"/><stop offset=".157" stop-color="#e03f7e"/><stop offset=".222" stop-color="#ea2c57"/><stop offset=".334" stop-color="#fd050a"/><stop offset=".355" stop-color="#ff0100"/><stop offset=".398" stop-color="#ff2e00"/><stop offset=".45" stop-color="#ff4f00"/><stop offset=".529" stop-color="#ff6400"/><stop offset=".717" stop-color="#ff8000"/><stop offset="1" stop-color="#ff8f00"/></linearGradient>
<linearGradient id="b104" gradientUnits="userSpaceOnUse" x1="430.3" x2="640.18"><stop offset="0" stop-color="#e13d79"/><stop offset=".1" stop-color="#de4487"/><stop offset=".152" stop-color="#e03e7c"/><stop offset=".212" stop-color="#e92e5b"/><stop offset=".334" stop-color="#fd050a"/><stop offset=".355" stop-color="#f00"/><stop offset=".405" stop-color="#ff3100"/><stop offset=".457" stop-color="#ff4f00"/><stop offset=".562" stop-color="#ff6700"/><stop offset=".71" stop-color="#ff7e00"/><stop offset=".931" stop-color="#f80"/><stop offset="1" stop-color="#ff8e00"/></linearGradient>
<linearGradient id="b105" gradientUnits="userSpaceOnUse" x1="430.3" x2="640.18"><stop offset="0" stop-color="#e13c77"/><stop offset=".1" stop-color="#de4385"/><stop offset=".152" stop-color="#e13d7a"/><stop offset=".219" stop-color="#ea2a54"/><stop offset=".338" stop-color="#fd0408"/><stop offset=".357" stop-color="#ff0100"/><stop offset=".405" stop-color="#ff2f00"/><stop offset=".457" stop-color="#ff4d00"/><stop offset=".553" stop-color="#ff6400"/><stop offset=".71" stop-color="#ff7d00"/><stop offset=".924" stop-color="#ff8700"/><stop offset="1" stop-color="#ff8d00"/></linearGradient>
<linearGradient id="cb2" x1="0" y1="0" x2="0" y2="1"><stop offset="0" stop-color="#c080ff"/><stop offset=".375" stop-color="#f00"/><stop offset=".5" stop-color="#ff0"/><stop offset=".625" stop-color="#0f0"/><stop offset=".75" stop-color="#0ff"/><stop offset=".875" stop-color="#00f"/><stop offset="1" stop-color="#000"/></linearGradient>
</defs>
<rect width="698" height="267" fill="#fff"/>
<g shape-rendering="crispEdges"><rect x="61.1" y="35.7" width="194.75" height="1.6" fill="url(#a0)"/><rect x="61.1" y="37" width="194.75" height="2.3" fill="url(#a1)"/><rect x="61.1" y="39" width="194.75" height="2.3" fill="url(#a2)"/><rect x="61.1" y="41" width="194.75" height="2.3" fill="url(#a3)"/><rect x="61.1" y="43" width="194.75" height="2.3" fill="url(#a4)"/><rect x="61.1" y="45" width="194.75" height="2.3" fill="url(#a5)"/><rect x="61.1" y="47" width="194.75" height="2.3" fill="url(#a6)"/><rect x="61.1" y="49" width="194.75" height="2.3" fill="url(#a7)"/><rect x="61.1" y="51" width="194.75" height="2.3" fill="url(#a8)"/><rect x="61.1" y="53" width="194.75" height="2.3" fill="url(#a9)"/><rect x="61.1" y="55" width="194.75" height="2.3" fill="url(#a10)"/><rect x="61.1" y="57" width="194.75" height="2.3" fill="url(#a11)"/><rect x="61.1" y="59" width="194.75" height="2.3" fill="url(#a12)"/><rect x="61.1" y="61" width="194.75" height="2.3" fill="url(#a13)"/><rect x="61.1" y="63" width="194.75" height="2.3" fill="url(#a14)"/><rect x="61.1" y="65" width="194.75" height="2.3" fill="url(#a15)"/><rect x="61.1" y="67" width="194.75" height="2.3" fill="url(#a16)"/><rect x="61.1" y="69" width="194.75" height="2.3" fill="url(#a17)"/><rect x="61.1" y="71" width="194.75" height="2.3" fill="url(#a18)"/><rect x="61.1" y="73" width="194.75" height="2.3" fill="url(#a19)"/><rect x="61.1" y="75" width="194.75" height="2.3" fill="url(#a20)"/><rect x="61.1" y="77" width="194.75" height="2.3" fill="url(#a21)"/><rect x="61.1" y="79" width="194.75" height="2.3" fill="url(#a22)"/><rect x="61.1" y="81" width="194.75" height="2.3" fill="url(#a23)"/><rect x="61.1" y="83" width="194.75" height="2.3" fill="url(#a24)"/><rect x="61.1" y="85" width="194.75" height="2.3" fill="url(#a25)"/><rect x="61.1" y="87" width="194.75" height="2.3" fill="url(#a26)"/><rect x="61.1" y="89" width="194.75" height="2.3" fill="url(#a27)"/><rect x="61.1" y="91" width="194.75" height="2.3" fill="url(#a28)"/><rect x="61.1" y="93" width="194.75" height="2.3" fill="url(#a29)"/><rect x="61.1" y="95" width="194.75" height="2.3" fill="url(#a30)"/><rect x="61.1" y="97" width="194.75" height="2.3" fill="url(#a31)"/><rect x="61.1" y="99" width="194.75" height="2.3" fill="url(#a32)"/><rect x="61.1" y="101" width="194.75" height="2.3" fill="url(#a33)"/><rect x="61.1" y="103" width="194.75" height="2.3" fill="url(#a34)"/><rect x="61.1" y="105" width="194.75" height="2.3" fill="url(#a35)"/><rect x="61.1" y="107" width="194.75" height="2.3" fill="url(#a36)"/><rect x="61.1" y="109" width="194.75" height="2.3" fill="url(#a37)"/><rect x="61.1" y="111" width="194.75" height="2.3" fill="url(#a38)"/><rect x="61.1" y="113" width="194.75" height="2.3" fill="url(#a39)"/><rect x="61.1" y="115" width="194.75" height="2.3" fill="url(#a40)"/><rect x="61.1" y="117" width="194.75" height="2.3" fill="url(#a41)"/><rect x="61.1" y="119" width="194.75" height="2.3" fill="url(#a42)"/><rect x="61.1" y="121" width="194.75" height="2.3" fill="url(#a43)"/><rect x="61.1" y="123" width="194.75" height="2.3" fill="url(#a44)"/><rect x="61.1" y="125" width="194.75" height="2.3" fill="url(#a45)"/><rect x="61.1" y="127" width="194.75" height="2.3" fill="url(#a46)"/><rect x="61.1" y="129" width="194.75" height="2.3" fill="url(#a47)"/><rect x="61.1" y="131" width="194.75" height="2.3" fill="url(#a48)"/><rect x="61.1" y="133" width="194.75" height="2.3" fill="url(#a49)"/><rect x="61.1" y="135" width="194.75" height="2.3" fill="url(#a50)"/><rect x="61.1" y="137" width="194.75" height="2.3" fill="url(#a51)"/><rect x="61.1" y="139" width="194.75" height="2.3" fill="url(#a52)"/><rect x="61.1" y="141" width="194.75" height="2.3" fill="url(#a53)"/><rect x="61.1" y="143" width="194.75" height="2.3" fill="url(#a54)"/><rect x="61.1" y="145" width="194.75" height="2.3" fill="url(#a55)"/><rect x="61.1" y="147" width="194.75" height="2.3" fill="url(#a56)"/><rect x="61.1" y="149" width="194.75" height="2.3" fill="url(#a57)"/><rect x="61.1" y="151" width="194.75" height="2.3" fill="url(#a58)"/><rect x="61.1" y="153" width="194.75" height="2.3" fill="url(#a59)"/><rect x="61.1" y="155" width="194.75" height="2.3" fill="url(#a60)"/><rect x="61.1" y="157" width="194.75" height="2.3" fill="url(#a61)"/><rect x="61.1" y="159" width="194.75" height="2.3" fill="url(#a62)"/><rect x="61.1" y="161" width="194.75" height="2.3" fill="url(#a63)"/><rect x="61.1" y="163" width="194.75" height="2.3" fill="url(#a64)"/><rect x="61.1" y="165" width="194.75" height="2.3" fill="url(#a65)"/><rect x="61.1" y="167" width="194.75" height="2.3" fill="url(#a66)"/><rect x="61.1" y="169" width="194.75" height="2.3" fill="url(#a67)"/><rect x="61.1" y="171" width="194.75" height="2.3" fill="url(#a68)"/><rect x="61.1" y="173" width="194.75" height="2.3" fill="url(#a69)"/><rect x="61.1" y="175" width="194.75" height="2.3" fill="url(#a70)"/><rect x="61.1" y="177" width="194.75" height="2.3" fill="url(#a71)"/><rect x="61.1" y="179" width="194.75" height="2.3" fill="url(#a72)"/><rect x="61.1" y="181" width="194.75" height="2.3" fill="url(#a73)"/><rect x="61.1" y="183" width="194.75" height="2.3" fill="url(#a74)"/><rect x="61.1" y="185" width="194.75" height="2.3" fill="url(#a75)"/><rect x="61.1" y="187" width="194.75" height="2.3" fill="url(#a76)"/><rect x="61.1" y="189" width="194.75" height="2.3" fill="url(#a77)"/><rect x="61.1" y="191" width="194.75" height="2.3" fill="url(#a78)"/><rect x="61.1" y="193" width="194.75" height="2.3" fill="url(#a79)"/><rect x="61.1" y="195" width="194.75" height="2.3" fill="url(#a80)"/><rect x="61.1" y="197" width="194.75" height="2.3" fill="url(#a81)"/><rect x="61.1" y="199" width="194.75" height="2.3" fill="url(#a82)"/><rect x="61.1" y="201" width="194.75" height="2.3" fill="url(#a83)"/><rect x="61.1" y="203" width="194.75" height="2.3" fill="url(#a84)"/><rect x="61.1" y="205" width="194.75" height="2.3" fill="url(#a85)"/><rect x="61.1" y="207" width="194.75" height="2.3" fill="url(#a86)"/><rect x="61.1" y="209" width="194.75" height="2.3" fill="url(#a87)"/><rect x="61.1" y="211" width="194.75" height="2.3" fill="url(#a88)"/><rect x="61.1" y="213" width="194.75" height="2.3" fill="url(#a89)"/><rect x="61.1" y="215" width="194.75" height="2.3" fill="url(#a90)"/><rect x="61.1" y="217" width="194.75" height="2.3" fill="url(#a91)"/><rect x="61.1" y="219" width="194.75" height="2.3" fill="url(#a92)"/><rect x="61.1" y="221" width="194.75" height="2.3" fill="url(#a93)"/><rect x="61.1" y="223" width="194.75" height="2.3" fill="url(#a94)"/><rect x="61.1" y="225" width="194.75" height="2.3" fill="url(#a95)"/><rect x="61.1" y="227" width="194.75" height="2.3" fill="url(#a96)"/><rect x="61.1" y="229" width="194.75" height="1.82" fill="url(#a97)"/></g>
<path d="M61.1 5V228.3 M100.05 5V228.3 M139 5V228.3 M177.95 5V228.3 M216.9 5V228.3 M255.85 5V228.3 M51.3 35.7H287.8 M51.3 68.22H287.8 M51.3 100.74H287.8 M51.3 133.26H287.8 M51.3 165.78H287.8 M51.3 198.3H287.8" stroke="#ff4848" stroke-width=".8" fill="none" opacity=".8"/>
<path d="M177.1 128.6 175.9 129.7 176.1 131.9 178.6 131.7 178.1 129 177.1 128.6 M177.1 89.6 175.1 90.2 173.1 90.8 170.7 91.7 168.5 92.7 166.4 93.7 164.5 94.7 162.8 95.7 161.1 96.7 159.1 98 157.1 99.3 155.1 100.6 153.6 101.7 152.1 102.7 150.1 104.2 148.2 105.7 146.9 106.7 145.1 108.2 143.4 109.7 142.1 110.9 140.1 112.7 139.1 113.7 137.1 115.7 136.1 116.9 134.6 118.7 133.1 120.7 132.1 122.2 131.1 123.9 130.1 125.8 129.1 128 128.1 130.7 127.5 132.7 127.1 134.7 126.7 137.7 126.6 140.7 126.8 143.7 127.2 145.7 128.1 148.7 128.9 150.7 129.9 152.7 131.1 154.7 132.1 156 133.6 157.7 135.1 159.1 137.1 160.7 138.8 161.7 140.9 162.7 143.1 163.5 145.1 164.1 148.1 164.6 150.1 164.8 153.1 164.9 156.1 164.9 159.1 164.8 161.1 164.7 164.1 164.4 167.1 164.1 170.1 163.7 172.1 163.4 175.1 163 177.1 162.6 179.9 161.7 181.9 160.7 183.5 159.7 185.1 158.6 187.1 157.1 189 155.7 190.2 154.7 192.1 153 193.4 151.7 195.1 149.7 196.1 148.4 197.4 146.7 198.8 144.7 200.1 142.9 201.1 141.4 202.2 139.7 203.3 137.7 204.4 135.7 205.4 133.7 206.4 131.7 207.4 129.7 208.1 127.7 209 124.7 209.5 122.7 210.1 120 210.6 117.7 211.1 115.1 211.4 112.7 211.4 109.7 211.1 107.5 210.3 104.7 209.4 102.7 208.1 100.7 207.1 99.5 205.3 97.7 204.1 96.7 202.1 95 200.4 93.7 198.9 92.7 197.1 91.7 194.5 90.7 192.1 90 190.1 89.6 187.1 89.2 184.1 89 181.1 89.1 178.1 89.4 177.1 89.6 M61.1 105.1 63.3 105.7 66 106.7 68.1 107.6 70.1 108.6 71.8 109.7 73.1 110.7 75.1 112.5 76.2 113.7 78 115.7 79.1 117.2 80.2 118.7 81.4 120.7 82.4 122.7 83.3 124.7 84.1 126.8 85 129.7 85.3 131.7 85.4 134.7 85 136.7 84.1 139.7 83.3 141.7 82.4 143.7 81.5 145.7 80.3 147.7 79.1 149.5 78.1 150.8 76.6 152.7 75.1 154.4 73.9 155.7 72.1 157.7 71.1 158.8 69.2 160.7 68.1 161.7 66.1 163.2 64.1 164.3 62.1 165.2 61.1 165.6 M201.7 230.8 201 228.7 200.1 226.4 199.1 224 198.1 221.7 197.2 219.7 196.4 217.7 195.5 215.7 194.8 213.7 194.1 211.6 193.4 208.7 193 206.7 192.9 203.7 193.1 200.9 193.6 198.7 194.2 196.7 195.1 194.7 196.2 192.7 197.6 190.7 199.1 188.9 200.3 187.7 202.1 186.1 203.8 184.7 205.2 183.7 207.1 182.3 209.1 181 211.1 179.7 212.7 178.7 214.5 177.7 216.4 176.7 218.5 175.7 220.8 174.7 223.1 173.7 225.1 172.8 227.1 171.8 228.9 170.7 230.4 169.7 232.1 168.5 234.1 167 235.7 165.7 237.1 164.4 238.9 162.7 240.1 161.4 241.6 159.7 243 157.7 244.1 155.9 245.1 154 246.1 151.7 246.7 149.7 247.1 147.7 247.4 144.7 247.3 141.7 247 139.7 246.5 136.7 246 134.7 245.3 131.7 244.7 129.7 244.1 127.7 243.1 125 242.1 122.7 241.2 120.7 240.2 118.7 239.2 116.7 238.3 114.7 237.5 112.7 236.8 110.7 236.1 108.4 235.4 105.7 234.9 103.7 234.2 100.7 233.7 98.7 233.1 95.9 232.6 93.7 232.1 91.7 231.3 88.7 230.5 86.7 229.5 84.7 228.2 82.7 227.1 81.5 225.1 79.7 223.7 78.7 222.1 77.6 220.1 76.4 218.1 75.2 216.1 74 214.1 72.8 212.5 71.7 210.9 70.7 209.1 69.5 207.1 68.3 205.1 67.1 203.1 66.1 201.1 65.2 199.1 64.4 197.1 63.7 194.1 62.8 192.1 62.2 190.1 61.7 187.1 60.8 185.1 60.3 183.1 59.6 180.4 58.7 178.1 57.8 176.1 57 174.1 56.2 172.1 55.4 170.1 54.5 168.1 53.7 165.6 52.7 163.1 51.8 161.1 51 159.1 50.4 156.9 49.7 154.1 48.9 152.1 48.4 149.1 47.8 147.1 47.4 144.1 47 142.1 46.6 139.1 45.9 137.1 45.1 135.1 44.2 133.1 43.3 131.1 42.4 129.1 41.6 126.1 40.7 124.1 40.3 121.1 40 118.1 40.2 115.1 40.7 113.1 41.2 111.1 41.9 109.1 42.8 107.1 43.8 105.1 44.7 102.7 45.7 100.1 46.3 97.1 46.6 94.1 46.5 91.1 46.4 88.1 46.5 86.1 46.8 83.1 47.3 81.1 47.9 78.9 48.7 76.3 49.7 74.1 50.5 72.1 51.2 70.1 51.9 68 52.7 65.7 53.7 63.5 54.7 61.1 55.6" stroke="#ff00ff" stroke-width=".6" fill="none" opacity=".8" stroke-dasharray="1 1.5"/>
<path d="M175.1 125.4 173.8 126.7 173 128.7 173 131.7 173.9 133.7 175.1 134.9 178.1 135.4 180.1 134.2 181.1 132.7 181.5 129.7 180.9 127.7 179.3 125.7 177.1 124.9 175.1 125.4 M177.1 86.6 175.1 86.9 172.1 87.6 170.1 88.2 168.1 88.9 166 89.7 163.8 90.7 161.8 91.7 160 92.7 158.1 93.8 156.1 95 154.1 96.3 152.1 97.6 150.4 98.7 148.9 99.7 147.1 100.9 145.1 102.3 143.2 103.7 141.9 104.7 140.1 106.1 138.1 107.7 136.9 108.7 135.1 110.3 133.5 111.7 132.1 113 130.4 114.7 129.1 116.1 127.7 117.7 126.2 119.7 125.1 121.3 124.1 122.9 123.1 124.7 122.1 126.7 121.1 129.1 120.2 131.7 119.6 133.7 119.1 135.9 118.6 138.7 118.4 141.7 118.5 144.7 118.9 147.7 119.4 149.7 120.1 152.3 120.9 154.7 121.8 156.7 122.8 158.7 123.9 160.7 125.1 162.4 126.1 163.7 128 165.7 129.1 166.7 131.1 168.2 133.1 169.4 135.1 170.4 137.1 171.2 139.1 171.8 142.1 172.4 145.1 172.5 148.1 172.4 151.1 171.9 153.1 171.6 156.1 170.9 158.1 170.4 161.1 169.7 163.1 169.2 165.1 168.6 168.1 167.8 170.1 167.3 172.2 166.7 175.1 165.9 177.1 165.3 179.1 164.7 181.3 163.7 183.1 162.7 185.1 161.4 187.1 159.9 188.7 158.7 190.1 157.5 192.1 155.8 193.2 154.7 195.1 152.8 196.1 151.7 197.9 149.7 199.1 148.2 200.2 146.7 201.7 144.7 203.1 142.7 204.1 141.1 205.1 139.5 206.2 137.7 207.3 135.7 208.3 133.7 209.3 131.7 210.1 129.7 211.1 127 211.8 124.7 212.3 122.7 213.1 119.7 213.6 117.7 214.1 114.9 214.3 112.7 214.3 109.7 214 107.7 213.1 104.8 212.1 102.7 211.1 101 210.1 99.6 208.4 97.7 207.1 96.5 205.1 94.8 203.8 93.7 202.1 92.3 200.1 90.8 198.2 89.7 196.1 88.7 194.1 88.1 192.1 87.6 189.1 87 187.1 86.6 184.1 86.3 181.1 86.3 178.1 86.5 177.1 86.6 M101.5 35.7 100 36.7 97.6 37.7 95.1 38.2 92.1 38.3 89.1 38.3 86.1 38.3 83.1 38.4 80.1 38.6 78.1 38.7 75.1 38.8 72.3 38.7 70.1 38.4 67.1 37.9 65.1 37.6 62.1 37.4 61.1 37.4 M61.1 107.4 63.1 107.8 65.9 108.7 68 109.7 69.6 110.7 71.1 111.8 73.1 113.6 74.3 114.7 76.1 116.7 77.1 118 78.3 119.7 79.4 121.7 80.4 123.7 81.2 125.7 82.1 128.2 82.8 130.7 83 133.7 82.5 136.7 81.9 138.7 81.1 140.9 80.1 143.2 79.1 145.2 78.1 146.9 76.9 148.7 75.2 150.7 74.1 151.9 72.3 153.7 71.1 154.9 69.3 156.7 68.1 157.7 66.1 159.2 64.1 160.3 62.1 161.2 61.1 161.4 M255.8 142.6 255.1 140.7 254 138.7 253.1 136.7 252.1 134.7 251.1 132.6 250.1 130.4 249.1 128.2 248.1 126.2 247.1 124.5 246 122.7 244.7 120.7 243.4 118.7 242.2 116.7 241.1 114.7 240.1 112.7 239.3 110.7 238.6 108.7 238.1 106.7 237.4 103.7 237.1 101.7 236.6 98.7 236.3 95.7 236.1 92.9 236.1 90.7 236.1 87.7 236.1 85.7 236 83.7 235.4 80.7 234.4 78.7 233.1 77.3 231.1 75.9 229.1 74.7 227.1 73.7 225.1 72.8 223.1 72 221.1 71.1 219.1 70.1 217.1 69.1 215.1 68.1 213.1 67 211.1 65.8 209.3 64.7 207.7 63.7 206 62.7 204.1 61.6 202.1 60.5 200.1 59.6 198.1 58.7 195.6 57.7 193.1 56.7 191.1 56 189.1 55.2 187.1 54.4 185.1 53.6 183 52.7 180.7 51.7 178.5 50.7 176.3 49.7 174.1 48.8 172.1 47.9 170.1 47.1 168.1 46.4 166 45.7 163.1 44.8 161.1 44.3 158.6 43.7 156.1 43.2 153.4 42.7 151.1 42.4 148.1 42 145.8 41.7 143.1 41.2 141.1 40.5 139.1 39.6 137.1 38.4 135.1 37 133.5 35.7 M212.1 230.8 210.1 228.7 209 227.7 207.1 225.8 206.1 224.6 204.7 222.7 203.3 220.7 202.1 218.8 201.1 217.1 200.1 215.3 199.1 213.3 198.1 210.9 197.4 208.7 196.9 206.7 196.5 203.7 196.6 200.7 197.1 198.6 198.1 196 199.1 194.1 200.1 192.6 201.6 190.7 203.1 189.2 204.8 187.7 206.1 186.7 208.1 185.2 210.1 183.7 211.5 182.7 213.1 181.6 215.1 180.3 217.1 179.3 219.1 178.4 221.1 177.7 223.9 176.7 226.1 175.8 228.1 174.9 230.1 173.8 232 172.7 233.9 171.7 235.8 170.7 237.8 169.7 239.8 168.7 241.8 167.7 243.7 166.7 245.4 165.7 247.1 164.5 249.1 162.8 250.2 161.7 251.8 159.7 253.1 157.8 254.1 156.2 255.1 154.5 255.8 152.7" stroke="#0000ff" stroke-width=".6" fill="none" opacity=".8" stroke-dasharray="2 3"/>
<path d="M176.1 121.7 174.1 122.2 172.3 123.7 171.1 125.7 170.6 127.7 170.7 130.7 171.1 132.7 172.1 134.9 173.8 136.7 176.1 137.6 179.1 137.2 181.1 135.9 182.1 134.7 183.1 132.3 183.3 129.7 183.1 127.7 182.1 125.1 181.1 123.7 179.1 122.2 177.1 121.7 176.1 121.7 M177.1 83.7 175.1 83.9 172.1 84.3 169.8 84.7 167.1 85.3 165.1 85.9 162.7 86.7 160.3 87.7 158.2 88.7 156.4 89.7 154.6 90.7 152.8 91.7 151.1 92.7 149.1 93.9 147.1 95.1 145.1 96.4 143.1 97.7 141.7 98.7 140.1 99.8 138.1 101.2 136.1 102.7 134.8 103.7 133.1 105 131.1 106.5 129.6 107.7 128.1 108.9 126.1 110.6 124.9 111.7 123.1 113.5 122 114.7 120.4 116.7 119.1 118.6 118.1 120.2 117.1 122 116.1 124.1 115.1 126.5 114.3 128.7 113.7 130.7 113.1 133.4 112.7 135.7 112.2 138.7 112.1 140.7 112.1 143.7 112.3 145.7 112.8 148.7 113.2 150.7 113.9 153.7 114.4 155.7 115.1 157.9 116.1 160.6 117 162.7 118.1 164.7 119.1 166.4 120.1 167.8 121.7 169.7 123.1 171.1 125.1 172.6 126.7 173.7 128.5 174.7 130.4 175.7 132.6 176.7 135.1 177.7 137.1 178.3 139.1 178.7 142.1 179.1 145.1 179 147.4 178.7 150.1 178.2 152.1 177.7 155.1 176.8 157.1 176.1 159.1 175.4 161.1 174.6 163.5 173.7 166 172.7 168.1 171.8 170.1 171 172.1 170.2 174.1 169.4 176.1 168.6 178.4 167.7 180.7 166.7 182.6 165.7 184.3 164.7 186.1 163.5 188.1 162 189.8 160.7 191.1 159.5 193 157.7 194.1 156.6 196 154.7 197.1 153.6 199 151.7 200.1 150.5 201.6 148.7 203.1 146.7 204.1 145.3 205.2 143.7 206.6 141.7 207.9 139.7 209.1 137.8 210.1 136 211.1 133.9 212.1 131.7 212.9 129.7 213.6 127.7 214.3 125.7 215.1 122.9 215.7 120.7 216.2 118.7 216.9 115.7 217.1 113.7 217.1 110.7 216.9 108.7 216.1 105.7 215.3 103.7 214.3 101.7 213.1 99.9 212.1 98.6 210.3 96.7 209.1 95.6 207.1 94 205.6 92.7 204.1 91.4 202.1 89.7 200.8 88.7 199.1 87.6 197.1 86.7 194.1 85.7 192.1 85.2 189.9 84.7 187.1 84.2 184.1 83.8 182.1 83.6 179.1 83.6 177.1 83.7 M255.8 52.5 254.1 53.4 252.3 54.7 251.1 55.9 249.7 57.7 248.2 59.7 247.1 61.1 245.6 62.7 244.1 64 242.1 65.3 240.1 66.1 237.4 66.7 235.1 66.9 232.1 66.7 230.1 66.5 227.1 66 225.1 65.6 222.1 64.8 220.1 64.1 218.1 63.4 216.1 62.5 214.1 61.4 212.1 60.2 210.1 58.8 208.6 57.7 207.1 56.6 205.1 55.1 203.1 53.8 201.4 52.7 199.8 51.7 198.1 50.7 196.1 49.6 194.1 48.5 192.1 47.4 190.1 46.3 188.1 45.2 186.1 44.1 184.1 43 182.1 41.9 180.1 40.9 178.1 40.1 176.1 39.3 174.1 38.5 171.7 37.7 169.1 36.8 167.1 36 166.3 35.7 M61.1 109.9 64.1 110.4 66.1 111.2 68.1 112.3 69.8 113.7 71.1 114.9 73 116.7 74.1 117.9 75.6 119.7 76.8 121.7 77.8 123.7 78.6 125.7 79.4 127.7 80.1 130.6 80.3 132.7 80.1 135.6 79.6 137.7 78.9 139.7 78.1 141.8 77.1 143.9 76.1 145.7 74.6 147.7 73.1 149.3 71.6 150.7 70.1 152.1 68.2 153.7 67 154.7 65.1 155.9 63.1 156.9 61.1 157.6 M255.8 127.9 254.7 126.7 253.1 125.1 251.8 123.7 250.1 122 248.8 120.7 247.1 119 246 117.7 244.5 115.7 243.3 113.7 242.2 111.7 241.3 109.7 240.7 107.7 240.1 105.4 239.6 102.7 239.3 99.7 239.2 96.7 239.3 93.7 239.8 90.7 240.4 88.7 241.2 86.7 242.2 84.7 243.4 82.7 244.8 80.7 246.1 79.2 247.7 77.7 249.1 76.6 251.1 75.1 253.1 73.7 254.8 72.7 255.8 72.1 M255.8 213.2 253.1 213.5 251.1 214 249 214.7 246.7 215.7 244.8 216.7 243 217.7 241.1 218.9 239.1 220 237.1 221 235.1 221.7 232.1 222.1 229.1 221.9 227.1 221.6 224.1 221.1 221.3 220.7 219.1 220.3 216.2 219.7 214.1 219.1 212.1 218.2 210.1 217.1 208.2 215.7 207.1 214.7 205.1 212.7 204.1 211.4 203 209.7 202 207.7 201.1 205 200.8 202.7 201 199.7 201.7 197.7 202.7 195.7 204 193.7 205.1 192.4 206.9 190.7 208.2 189.7 210.1 188.2 212 186.7 213.2 185.7 215.1 184.3 217.1 183 219.1 182.1 221.1 181.5 223.9 180.7 226.1 180.1 228.1 179.4 230.1 178.5 232.1 177.5 234.1 176.6 237 175.7 239.1 175.4 242.1 175.3 245.1 175.7 247.1 176.2 249.1 176.8 251.2 177.7 254.1 178.7 255.9 179" stroke="#00f000" stroke-width=".6" fill="none" opacity=".8" stroke-dasharray="4 2"/>
<path d="M175.1 116.6 173.1 117.4 171.6 118.7 170.1 120.4 169.1 122.1 168.2 124.7 167.9 126.7 168 129.7 168.4 131.7 169.1 133.9 170.1 136 171.5 137.7 173.1 138.9 175.3 139.7 177.8 139.7 180.1 138.9 181.8 137.7 183.1 136.2 184.1 134.6 185 131.7 185.2 129.7 185.1 127.7 184.5 124.7 183.7 122.7 182.4 120.7 181.1 119.2 179.2 117.7 177.1 116.7 175.1 116.6 M166.1 81.6 164.1 81.9 161.1 82.5 159.1 83.1 157.1 83.8 154.9 84.7 152.7 85.7 150.6 86.7 148.6 87.7 146.6 88.7 144.8 89.7 143.1 90.7 141.1 91.9 139.1 93.1 137.1 94.5 135.4 95.7 134 96.7 132.1 98.1 130.1 99.6 128.6 100.7 127.1 101.8 125.1 103.2 123.1 104.7 121.8 105.7 120.1 107.1 118.4 108.7 117.1 110 115.6 111.7 114.1 113.6 113.1 115.1 112.1 116.7 111.1 118.7 110.1 121 109.2 123.7 108.7 125.7 108.1 128.7 107.8 130.7 107.4 133.7 107.2 136.7 107 138.7 107 141.7 107.2 143.7 107.6 146.7 108.1 149.3 108.5 151.7 109 154.7 109.3 156.7 109.9 159.7 110.5 161.7 111.2 163.7 112.1 166 113.1 168 114.1 169.7 115.4 171.7 117.1 173.7 118.1 174.7 120.1 176.2 122.1 177.5 124.1 178.6 126.1 179.6 128.1 180.5 130.1 181.4 132.1 182.1 134.1 182.7 137.1 183.5 139.1 183.9 142.1 184.1 145.1 184 148.1 183.7 150.1 183.4 152.9 182.7 155.1 182 157.1 181.3 159.1 180.5 161.2 179.7 163.5 178.7 165.6 177.7 167.6 176.7 169.5 175.7 171.3 174.7 173.1 173.7 175.1 172.6 177.1 171.6 179.1 170.7 181.1 169.7 183.1 168.6 185.1 167.4 187.1 166 188.8 164.7 190.1 163.7 192.1 162 193.5 160.7 195.1 159 196.3 157.7 198.1 155.9 199.4 154.7 201.1 153.1 202.5 151.7 204.1 149.9 205.1 148.6 206.5 146.7 207.9 144.7 209.1 143.1 210.1 141.7 211.5 139.7 212.6 137.7 213.6 135.7 214.4 133.7 215.3 131.7 216.1 129.6 217.1 126.8 217.7 124.7 218.3 122.7 219.1 119.7 219.5 117.7 219.9 114.7 220 111.7 219.6 108.7 219.1 106.6 218.1 104 217.1 101.9 216.1 100.3 215 98.7 213.3 96.7 212.1 95.5 210.1 93.8 208.8 92.7 207.1 91.3 205.3 89.7 204.1 88.6 202.1 86.9 200.3 85.7 198.3 84.7 196.1 83.8 194.1 83.3 191.8 82.7 189.1 82.1 187.1 81.7 184.1 81.2 181.1 80.9 178.1 80.8 175.1 80.9 172.1 81 169.1 81.3 166.1 81.6 M233.8 35.7 234.1 38.3 234.5 40.7 234.9 43.7 234.9 46.7 234.1 49.7 233.1 51.1 231.1 52.3 229.1 52.8 226.1 52.8 224.1 52.5 222.1 51.7 220.1 50.3 218.8 48.7 217.9 46.7 217.9 43.7 219.1 41.7 220.3 40.7 222.1 39.4 224.1 37.7 225.1 36.4 225.5 35.7 M61.1 112.8 64.1 113.4 66.1 114.3 68.1 115.7 69.3 116.7 71.1 118.4 72.3 119.7 73.9 121.7 75.1 123.7 76 125.7 76.7 127.7 77.1 129.7 77.4 132.7 77.2 135.7 76.8 137.7 76.1 140.1 75.1 142.4 74.1 144.1 72.9 145.7 71.1 147.5 69.7 148.7 68.1 150 66.1 151.4 64.1 152.5 62.1 153.3 61.1 153.6 M255.9 121.2 254.1 120.4 252.1 119.3 250.1 117.9 248.7 116.7 247.1 115.1 246 113.7 244.7 111.7 243.7 109.7 242.9 107.7 242.2 104.7 241.8 102.7 241.6 99.7 241.7 96.7 242.1 93.8 242.7 91.7 243.6 89.7 244.8 87.7 246.1 86 247.2 84.7 249.1 83 251.1 81.7 253.1 80.7 255.1 79.9 255.8 79.7 M218.1 189.7 221.1 189 224.1 189.1 226.1 189.8 227.8 191.7 228.2 193.7 228.1 195.9 227.6 198.7 227 200.7 226 202.7 224.1 204.6 222.1 205.7 220.1 206.2 217.1 206.5 214.1 205.9 212.1 204.7 211.1 203.6 210.1 200.7 210.5 197.7 211.3 195.7 212.5 193.7 214.1 192 215.9 190.7 218.1 189.7 218.1 189.7" stroke="#ff0000" stroke-width=".6" fill="none" opacity=".8"/>
<path d="M175.1 109.6 173.1 110 171.1 111.3 169.7 112.7 168.3 114.7 167.2 116.7 166.2 118.7 165.4 120.7 164.8 122.7 164.3 125.7 164.3 128.7 165 131.7 165.7 133.7 166.6 135.7 167.8 137.7 169.1 139.2 170.9 140.7 172.8 141.7 175.1 142.3 178.1 142.2 180.1 141.5 182.1 140.2 183.6 138.7 185 136.7 186.1 134.7 186.8 132.7 187.1 130.7 187.3 127.7 187.1 125.4 186.6 122.7 186 120.7 185.1 118.6 184 116.7 182.6 114.7 181.1 113 179.8 111.7 178.1 110.5 176 109.7 175.1 109.6 M163.1 77.7 161.1 77.8 158.1 78 155.1 78.3 152.5 78.7 150.1 79.1 147.1 79.6 145.1 79.9 142.1 80.7 140.1 81.3 138.1 82.2 136.1 83.3 134.1 84.7 132.7 85.7 131.1 87 129.1 88.6 127.8 89.7 126.1 91.2 124.3 92.7 123.1 93.7 121.1 95.4 119.6 96.7 118.1 98 116.3 99.7 115.1 100.8 113.2 102.7 112.1 103.9 110.4 105.7 109.1 107.1 107.7 108.7 106.1 110.7 105.1 112.2 104.1 114 103.1 116.7 102.7 118.7 102.4 121.7 102.4 124.7 102.4 127.7 102.5 130.7 102.5 133.7 102.5 136.7 102.6 139.7 102.8 142.7 103.2 144.7 103.8 147.7 104.1 149.7 104.4 152.7 104.4 155.7 104.5 158.7 104.8 161.7 105.3 163.7 106.1 166.3 107.1 168.7 108.1 170.7 109.1 172.4 110.1 173.9 111.5 175.7 113.1 177.5 114.3 178.7 116.1 180.1 118.1 181.3 120.1 182.3 122.1 183.3 124.1 184.2 126.1 185 128.1 185.7 131.1 186.7 133.1 187.2 135.2 187.7 138.1 188.2 141.1 188.5 144.1 188.5 147.1 188.4 150.1 188.2 153.1 187.8 155.1 187.2 157.1 186.6 159.6 185.7 162.1 184.8 164.1 184 166.1 183.1 168.1 182.1 170.1 181 172.1 179.8 173.7 178.7 175.2 177.7 177.1 176.5 179.1 175.2 181.1 174.1 183.1 172.9 185.1 171.7 186.7 170.7 188.1 169.7 190.1 168.1 191.9 166.7 193.1 165.6 195.1 163.7 196.1 162.7 197.9 160.7 199.1 159.5 201.1 157.7 202.4 156.7 204.1 155.4 206 153.7 207.1 152.5 208.6 150.7 210.1 148.7 211.1 147.4 212.4 145.7 213.9 143.7 215.1 141.9 216.1 140.1 217.1 137.9 218.1 135.7 218.9 133.7 219.7 131.7 220.4 129.7 221.1 127.2 221.7 124.7 222.1 122.5 222.6 119.7 223 116.7 223 113.7 222.8 110.7 222.2 107.7 221.5 105.7 220.8 103.7 219.8 101.7 218.6 99.7 217.2 97.7 216.1 96.3 214.6 94.7 213.1 93.3 211.2 91.7 209.9 90.7 208.1 89.1 206.5 87.7 205.1 86.4 203.1 84.7 201.6 83.7 199.9 82.7 197.6 81.7 195.1 80.9 193.1 80.4 190.2 79.7 188.1 79.3 185.1 78.7 183.1 78.4 180.1 78.1 177.1 77.9 174.1 77.8 171.9 77.7 169.1 77.6 166.1 77.6 163.1 77.7 M61.1 115.9 64.1 116.6 66.1 117.6 67.6 118.7 69.1 120 70.7 121.7 72.1 123.5 73.1 125.4 74 127.7 74.4 129.7 74.7 132.7 74.5 135.7 74.1 137.8 73.1 140.7 72.1 142.5 71.1 143.9 69.4 145.7 68.1 146.8 66.1 148.2 64.1 149.2 62.1 149.9 61.1 150.2 M255.8 117.7 253.3 116.7 251.4 115.7 250 114.7 248.1 112.8 247.1 111.5 246.1 109.7 245.1 107.5 244.3 104.7 243.9 102.7 243.8 99.7 244 96.7 244.4 94.7 245.1 92.7 246.1 90.7 247.5 88.7 249.1 86.9 250.6 85.7 252.2 84.7 254.5 83.7 255.8 83.3" stroke="#808080" stroke-width=".6" fill="none" opacity=".8" stroke-dasharray="2 2 2 2 2 2 2 4"/>
<path d="M174.1 105.6 172.1 106.2 170.1 107.2 168.1 108.6 166.9 109.7 165.2 111.7 164.1 113.3 163.1 115.1 162.1 117.1 161.1 119.7 160.5 121.7 160.1 123.7 159.7 126.7 159.8 129.7 160.1 131.7 161.1 134.5 162.1 136.4 163.1 137.9 164.5 139.7 166.1 141.3 167.7 142.7 169.3 143.7 171.4 144.7 174.1 145.4 177.1 145.4 180.1 144.8 182.1 143.7 183.4 142.7 185.1 140.8 186.1 139.4 187.1 137.7 188.2 135.7 189.1 133.2 189.7 130.7 189.9 127.7 189.9 124.7 189.7 121.7 189.1 119.2 188.1 116.7 187.1 114.8 186.1 113.3 185 111.7 183.5 109.7 182.1 108 180.5 106.7 178.4 105.7 176.1 105.4 174.1 105.6 M130.1 66.6 128.1 67 125.2 67.7 123.1 68.5 121.1 69.3 119.1 70.3 117.1 71.3 115.1 72.3 113.1 73.4 111.1 74.5 109.1 75.7 107.8 76.7 106.1 78.6 105.2 80.7 104.9 82.7 104.8 85.7 104.8 88.7 104.5 91.7 104 93.7 103.1 96.3 102.1 98.1 100.9 99.7 99.1 101.2 97.1 102.4 95.1 103.5 93.6 104.7 92.6 106.7 92.5 109.7 93.1 112.2 93.8 114.7 94.4 116.7 95.1 119 95.9 121.7 96.4 123.7 97.1 126.7 97.4 128.7 97.8 131.7 98 134.7 98.1 137.7 98.1 139.7 98.3 142.7 98.8 145.7 99.2 147.7 99.5 150.7 99.2 153.7 98.7 155.7 98.1 158.2 97.8 160.7 98 163.7 98.6 165.7 99.3 167.7 100.3 169.7 101.3 171.7 102.4 173.7 103.7 175.7 105 177.7 106.1 179.2 107.2 180.7 109 182.7 110.1 183.8 112.1 185.5 113.9 186.7 115.8 187.7 118.1 188.7 120.1 189.5 122.1 190.2 124.1 190.9 127.1 191.7 129.1 192.2 131.8 192.7 134.1 193.2 137.1 193.6 139.1 193.9 142.1 194.1 145.1 194.4 147.1 194.7 150.1 195.1 153.1 195 155.1 194.7 158.1 193.9 160.1 193.2 162.1 192.5 164.2 191.7 166.9 190.7 169.1 189.7 171 188.7 172.6 187.7 174.1 186.7 176.1 185.2 178 183.7 179.3 182.7 181.1 181.3 183.1 179.7 184.5 178.7 186.1 177.6 188.1 176.3 190.1 174.9 191.7 173.7 193.1 172.6 195.1 170.9 196.6 169.7 198.1 168.4 200.1 166.8 201.7 165.7 203.4 164.7 205.4 163.7 207.9 162.7 210.1 161.7 211.7 160.7 213.1 159.7 215 157.7 216.1 156.3 217.2 154.7 218.4 152.7 219.4 150.7 220.3 148.7 221.1 146.5 222 143.7 222.6 141.7 223.3 139.7 224.1 137.2 225 134.7 225.5 132.7 226.1 129.7 226.3 127.7 226.4 124.7 226.5 121.7 226.5 118.7 226.3 115.7 226.1 113.5 225.7 110.7 225.1 108.2 224.4 105.7 223.6 103.7 222.7 101.7 221.6 99.7 220.4 97.7 219.1 95.9 218.1 94.6 216.3 92.7 215.1 91.6 213.1 89.9 211.6 88.7 210.1 87.4 208.2 85.7 207 84.7 205.1 83 203.3 81.7 201.8 80.7 199.9 79.7 197.4 78.7 195.1 78 193.1 77.5 190.1 76.8 188.1 76.4 185.1 75.9 183.1 75.6 180.1 75.1 177.1 74.8 175.1 74.6 172.1 74.2 169.1 73.9 167.1 73.6 164.1 73.3 161.1 72.9 159.1 72.7 156.1 72.2 153.2 71.7 151.1 71.2 149.1 70.7 146.1 69.7 144.1 69 142.1 68.3 140.1 67.6 137.1 66.9 135.1 66.6 132.1 66.5 130.1 66.6 M255.8 114.9 254.1 114.3 252.1 113.2 250.2 111.7 249.1 110.4 248 108.7 247.1 106.7 246.2 103.7 245.9 101.7 246 98.7 246.3 96.7 247.1 94.1 248.1 92.1 249.1 90.6 250.8 88.7 252.1 87.7 254.1 86.7 255.8 86.1 M61.1 118.6 63.1 119.1 65.1 120 67.1 121.4 68.5 122.7 69.9 124.7 71 126.7 71.6 128.7 72.1 131.7 72.1 133.7 71.9 135.7 71.2 138.7 70.3 140.7 69.1 142.5 68.1 143.7 66.1 145.3 64.1 146.4 62.1 147.2 61.1 147.4" stroke="#ff4d00" stroke-width=".6" fill="none" opacity=".8" stroke-dasharray="2 2 2 2 2 4"/>
<path d="M176.1 101.6 174.1 102.1 172.1 102.8 169.9 103.7 168 104.7 166.1 105.9 164.1 107.5 162.9 108.7 161.1 110.6 160.1 111.9 158.8 113.7 157.7 115.7 156.7 117.7 155.9 119.7 155.1 122 154.4 124.7 154.1 126.7 153.8 129.7 154 132.7 154.4 134.7 155.1 136.7 156.2 138.7 157.7 140.7 159.1 142.2 160.8 143.7 162.1 144.7 164.1 146.1 166.1 147.3 168.1 148.2 170.1 148.9 173.1 149.5 176.1 149.6 179.1 149.2 181.1 148.7 183.3 147.7 185.1 146.4 186.7 144.7 188.1 142.7 189.1 140.9 190.1 139.1 191.1 137.2 192.1 135.1 192.9 132.7 193.4 130.7 193.8 127.7 194 124.7 194.1 122.7 194.2 119.7 194 117.7 193.1 114.7 192.1 112.8 191.1 111.5 189.8 109.7 188.5 107.7 187.5 105.7 186.1 103.8 184.8 102.7 182.6 101.7 180.1 101.3 177.1 101.4 176.1 101.6 M179.5 230.8 178.9 228.7 178.1 226.3 177.3 223.7 176.9 221.7 176.4 218.7 176.1 216 175.9 213.7 175.7 210.7 175.8 207.7 176.1 205 176.6 202.7 177.2 200.7 178.1 198.6 179.1 196.5 180.1 194.7 181.4 192.7 182.8 190.7 184.1 189 185.1 187.6 186.7 185.7 188.1 184.1 189.5 182.7 191.1 181.3 193.1 179.7 194.5 178.7 196.1 177.5 198.1 176 200 174.7 201.6 173.7 203.4 172.7 205.5 171.7 207.7 170.7 209.8 169.7 211.7 168.7 213.5 167.7 215.2 166.7 217.1 165.5 219.1 164.2 221 162.7 222.1 161.5 223.4 159.7 224.5 157.7 225.4 155.7 226.1 153.7 227 150.7 227.6 148.7 228.1 146.6 228.8 143.7 229.3 141.7 230 138.7 230.5 136.7 231 133.7 231.2 131.7 231.4 128.7 231.2 125.7 231 123.7 230.5 120.7 230.1 118.3 229.6 115.7 229.1 113.1 228.6 110.7 228.1 108.7 227.2 105.7 226.5 103.7 225.7 101.7 224.7 99.7 223.6 97.7 222.4 95.7 221.1 93.8 220.1 92.5 218.5 90.7 217.1 89.3 215.2 87.7 214 86.7 212.1 85.2 210.3 83.7 209.1 82.7 207.1 81 205.5 79.7 204.1 78.7 202.1 77.4 200.1 76.4 198.1 75.7 195.1 74.8 193.1 74.4 190.1 73.8 188.1 73.4 185.1 72.8 183.1 72.5 180.1 72 178.1 71.6 175.1 71.1 173 70.7 170.1 70.1 168.1 69.6 165.1 68.9 163.1 68.4 160.6 67.7 158.1 67 156.1 66.3 154.1 65.6 151.9 64.7 149.7 63.7 147.6 62.7 145.5 61.7 143.5 60.7 141.2 59.7 139.1 58.9 137.1 58.4 134.1 57.8 132.1 57.5 129.1 57.2 126.1 57.1 123.1 57.3 120.1 57.7 118.1 58 115.1 58.7 113.1 59.2 111 59.7 108.1 60.3 105.4 60.7 103.1 61 100.1 61.4 98.1 61.7 95.1 62.5 93.1 63.2 91.1 64 89.1 64.9 87.1 66 85.1 67.5 83.6 68.7 82.1 70.3 80.9 71.7 79.4 73.7 78.3 75.7 77.2 77.7 76.2 79.7 75.2 81.7 74.1 83.5 73.1 84.8 71.2 86.7 70.1 87.7 68.1 89.3 66.8 90.7 65.8 92.7 66.1 95.7 67.1 97.2 68.7 98.7 70.8 99.7 73.1 100.3 75.1 101 77.1 102.1 78.9 103.7 80.1 105 81.3 106.7 82.7 108.7 84.1 110.6 85.1 111.9 86.5 113.7 87.9 115.7 89.1 117.7 90.1 119.7 91 121.7 91.8 123.7 92.5 125.7 93.1 128 93.7 130.7 93.9 133.7 93.9 136.7 93.6 139.7 93.2 142.7 92.8 144.7 92.1 147.3 91.1 149.7 90.1 151.4 89.1 152.8 87.7 154.7 86.2 156.7 85.1 158.6 84.3 160.7 84 162.7 84.2 164.7 85.2 166.7 86.9 168.7 88.1 169.8 90.1 171.7 91.1 172.7 92.8 174.7 94.1 176.4 95.1 177.9 96.2 179.7 97.4 181.7 98.5 183.7 99.5 185.7 100.6 187.7 101.5 189.7 102.4 191.7 103.3 193.7 104.1 195.9 105.1 198.6 105.8 200.7 106.4 202.7 107.1 205.7 107.2 207.7 107.1 209.7 106.3 212.7 105.6 214.7 104.9 216.7 104.1 219 103.3 221.7 102.8 223.7 102.1 226.4 101.6 228.7 101.3 230.8 M255.9 112.1 254.1 111.4 252.1 110 251 108.7 249.8 106.7 248.9 104.7 248.3 101.7 248.3 98.7 249.1 95.8 250.1 93.7 251.1 92.1 252.5 90.7 254.1 89.6 255.8 88.9 M61.1 121.3 63.1 121.9 65.1 123 66.8 124.7 68.1 126.7 68.9 128.7 69.4 130.7 69.5 133.7 69.1 136.6 68.4 138.7 67.3 140.7 66.1 142.1 64.1 143.6 62.1 144.5 61.1 144.7" stroke="#000000" stroke-width=".6" fill="none" opacity=".8" stroke-dasharray="2 2 2 4"/>
<path d="M179.1 96.6 177.1 97.1 175.1 97.8 173 98.7 170.7 99.7 168.6 100.7 166.7 101.7 165 102.7 163.1 104 161.1 105.5 159.7 106.7 158.1 108.2 156.6 109.7 155.1 111.3 154 112.7 152.5 114.7 151.1 116.7 150.1 118.4 149.1 120.2 148.1 122.2 147.1 124.6 146.4 126.7 146 128.7 145.7 131.7 145.9 134.7 146.3 136.7 147.1 138.9 148.1 140.9 149.3 142.7 151 144.7 152.1 145.8 154.1 147.6 155.6 148.7 157.1 149.8 159.1 150.9 161.1 152 163.1 152.8 165.6 153.7 168.1 154.4 170.1 154.8 173.1 155.2 176.1 155.2 179 154.7 181.1 153.8 183.1 152.8 185 151.7 186.5 150.7 188.1 149.5 189.8 147.7 191.1 145.8 192.1 144.1 193.1 142.4 194.2 140.7 195.4 138.7 196.4 136.7 197.3 134.7 198.1 132.7 199.1 130.1 200 127.7 200.6 125.7 201.2 123.7 201.8 120.7 202.1 118.7 202.7 115.7 203.2 113.7 203.6 110.7 203.6 107.7 203.1 105.5 202.1 103.4 200.7 101.7 199.1 100.2 197.1 98.8 195.1 97.8 193.1 97.1 191.1 96.6 188.1 96.2 185.1 96 182.1 96.1 179.1 96.6 M61.1 98.9 63.1 100.1 65.1 101.4 67.1 102.5 69.1 103.4 71.1 104.2 73.1 105 75.1 106.1 77 107.7 78.1 108.8 79.7 110.7 81.1 112.4 82.2 113.7 83.8 115.7 85.1 117.6 86.1 119.2 87.1 121.1 88.1 123.3 89 125.7 89.7 127.7 90.2 129.7 90.6 132.7 90.6 135.7 90.1 138.7 89.6 140.7 88.8 142.7 88 144.7 87.1 146.7 86 148.7 84.7 150.7 83.2 152.7 82.1 154.2 81 155.7 79.6 157.7 78.4 159.7 77.2 161.7 76.3 163.7 75.6 165.7 75.1 168 74.8 170.7 75.1 172.9 76.1 174.9 77.9 176.7 79.4 177.7 81.1 178.9 83.1 180.5 84.2 181.7 85.5 183.7 86.6 185.7 87.4 187.7 88.2 189.7 89.1 192.4 89.8 194.7 90.4 196.7 91.1 199.7 91.4 201.7 91.4 204.7 91.1 207.5 90.7 209.7 90.1 212.2 89.5 214.7 89 216.7 88.3 219.7 87.9 221.7 87.2 224.7 86.6 226.7 86.1 228.7 85.6 230.8 M191.2 230.8 190.6 228.7 189.9 226.7 189.1 224.7 188.1 222.1 187.2 219.7 186.6 217.7 186.1 215.7 185.3 212.7 184.9 210.7 184.5 207.7 184.5 204.7 184.9 201.7 185.3 199.7 186.1 197.3 187.1 194.9 188.1 193 189.1 191.2 190.1 189.6 191.4 187.7 193.1 185.7 194.1 184.7 196.1 182.9 197.6 181.7 199.1 180.6 201.1 179.1 203.1 177.7 204.8 176.7 206.7 175.7 208.6 174.7 210.6 173.7 212.4 172.7 214.2 171.7 216.1 170.6 218.1 169.5 220.1 168.5 222.1 167.3 224.1 166 225.7 164.7 227.1 163.1 228.2 161.7 229.4 159.7 230.4 157.7 231.2 155.7 232.1 153.2 232.9 150.7 233.4 148.7 234.1 146.2 234.7 143.7 235.1 141.6 235.5 138.7 235.8 135.7 235.9 132.7 235.9 129.7 235.7 126.7 235.1 123.7 234.6 121.7 234 119.7 233.1 116.7 232.5 114.7 232 112.7 231.2 109.7 230.6 107.7 230 105.7 229.1 102.9 228.3 100.7 227.4 98.7 226.4 96.7 225.4 94.7 224.2 92.7 223.1 91 222.1 89.6 220.5 87.7 219.1 86.4 217.1 84.7 215.8 83.7 214.1 82.4 212.1 80.9 210.6 79.7 209.1 78.5 207.1 77 205.4 75.7 203.8 74.7 202.1 73.7 199.8 72.7 197.1 71.8 195.1 71.3 192.1 70.7 190.1 70.4 187.1 69.8 185.1 69.4 182.1 68.8 180.1 68.4 177.1 67.7 175.1 67.2 173.1 66.6 170.1 65.7 168.1 65 166.1 64.3 164.1 63.6 161.5 62.7 159.1 61.8 157.1 61 155.1 60.2 153.1 59.3 151.1 58.4 149.1 57.5 147.1 56.6 145 55.7 142.4 54.7 140.1 54 138.1 53.4 135.1 52.8 133.1 52.4 130.1 51.7 128.1 51.4 125.1 51 122.1 51 119.1 51.2 116.5 51.7 114.1 52.3 112.1 52.9 109.2 53.7 107.1 54.2 104.4 54.7 102.1 55 99.1 55.3 96.1 55.6 94.1 56 91.1 56.6 89.1 57.2 87.1 57.8 84.5 58.7 82.3 59.7 80.5 60.7 78.9 61.7 77.1 62.9 75.1 64.4 73.4 65.7 72.1 66.9 70.3 68.7 69.1 70.2 68.1 71.7 66.9 73.7 65.8 75.7 64.7 77.7 63.4 79.7 62.1 81.3 61.1 82.2 M255.8 108.6 254.1 107.4 252.6 105.7 251.6 103.7 251.1 101.7 251.1 99.4 251.9 96.7 253 94.7 254.1 93.6 255.9 92.4 M61.1 124.4 63.1 125.3 64.6 126.7 65.8 128.7 66.5 130.7 66.8 133.7 66.1 136.7 65.1 138.6 64.1 139.8 62.1 141.3 61.1 141.7" stroke="#f8f800" stroke-width=".6" fill="none" opacity=".8" stroke-dasharray="4 3 1 3"/>
<path d="M179.1 92.6 177.1 93.1 175.1 93.8 172.8 94.7 170.7 95.7 168.7 96.7 166.8 97.7 165 98.7 163.1 99.8 161.1 101.2 159.1 102.6 157.5 103.7 156.1 104.8 154.1 106.4 152.6 107.7 151.1 109.1 149.4 110.7 148.1 112 146.5 113.7 145.1 115.3 143.9 116.7 142.2 118.7 141.1 120.3 140.1 121.8 139.1 123.7 138.1 125.8 137.1 128.6 136.5 130.7 136.1 133.7 136.1 135.7 136.2 137.7 136.9 140.7 137.6 142.7 138.6 144.7 139.8 146.7 141.1 148.3 142.4 149.7 144.1 151.3 145.9 152.7 147.4 153.7 149.1 154.8 151.1 155.9 153.1 156.8 155.4 157.7 158.1 158.5 160.1 158.9 163.1 159.4 166.1 159.6 168.1 159.7 171.1 159.8 174.1 159.8 176.1 159.6 179.1 159 181.1 158.1 183.1 156.9 184.8 155.7 186.2 154.7 188.1 153.4 190.1 151.8 191.2 150.7 192.9 148.7 194.1 147.1 195.1 145.6 196.3 143.7 197.7 141.7 199 139.7 200.1 137.8 201.1 135.8 202.1 133.7 203.1 131.7 204.1 129.7 204.9 127.7 205.5 125.7 206.1 123.4 206.6 120.7 207.1 118.3 207.6 115.7 208.1 112.7 208.2 110.7 208.1 108.6 207.5 105.7 206.8 103.7 205.6 101.7 204.1 100 202.8 98.7 201.1 97.3 199.1 95.8 197.2 94.7 195.1 93.8 193.1 93.1 191.1 92.7 188.1 92.2 185.1 92 182.1 92.1 179.1 92.6 M61.1 102.5 63.1 103.3 65.1 104.2 67.1 105.1 69.1 105.9 71.1 106.8 73.1 108 75.1 109.5 76.3 110.7 78.1 112.6 79.1 113.8 80.7 115.7 82.1 117.6 83.1 119.2 84.1 121 85.1 123 86.1 125.4 86.9 127.7 87.5 129.7 87.9 132.7 87.8 135.7 87.1 138.7 86.4 140.7 85.6 142.7 84.7 144.7 83.7 146.7 82.5 148.7 81.1 150.7 80.1 152.1 78.9 153.7 77.3 155.7 76.1 157.2 74.9 158.7 73.4 160.7 72.1 162.5 71.1 163.7 69.3 165.7 68.1 166.9 66.1 168.5 64.4 169.7 63 170.7 61.1 171.8 M61.1 194 63.1 194.8 66.1 195.7 68.1 196.2 70.1 197 72.1 198.3 73.2 199.7 74.1 201.8 74.4 204.7 74.1 207.5 73.6 209.7 72.9 211.7 72.1 214 71.1 216.5 70.2 218.7 69.3 220.7 68.4 222.7 67.4 224.7 66.5 226.7 65.5 228.7 64.8 230.8 M196.4 230.8 195.9 228.7 195.1 226.3 194.1 223.7 193.3 221.7 192.5 219.7 191.8 217.7 191.1 215.5 190.3 212.7 189.8 210.7 189.3 207.7 189.1 204.7 189.3 201.7 190 198.7 190.7 196.7 191.5 194.7 192.5 192.7 193.7 190.7 195.1 188.8 196.1 187.6 198 185.7 199.2 184.7 201.1 183.1 203 181.7 204.4 180.7 206.1 179.6 208.1 178.4 210.1 177.2 212.1 176.1 214.1 175 216.1 173.9 218.1 172.9 220.1 171.9 222.1 171 224.1 170 226.1 168.8 227.6 167.7 229.1 166.5 230.9 164.7 232.1 163.4 233.5 161.7 234.9 159.7 236 157.7 237.1 155.7 238 153.7 238.7 151.7 239.4 149.7 240.1 147 240.6 144.7 240.9 141.7 241 138.7 240.9 135.7 240.6 132.7 240.3 129.7 239.9 127.7 239.2 124.7 238.5 122.7 237.8 120.7 237 118.7 236.1 116.4 235.1 113.7 234.5 111.7 233.9 109.7 233.1 106.9 232.5 104.7 231.9 102.7 231.1 100.1 230.3 97.7 229.5 95.7 228.7 93.7 227.8 91.7 226.8 89.7 225.6 87.7 224.1 85.7 223.1 84.6 221.1 82.7 219.8 81.7 218.1 80.5 216.1 79.1 214.1 77.7 212.7 76.7 211.1 75.6 209.1 74.1 207.1 72.7 205.6 71.7 203.9 70.7 201.8 69.7 199.3 68.7 197.1 68 195.1 67.5 192.1 66.9 190.1 66.4 187.1 65.8 185.1 65.3 182.6 64.7 180.1 64 178.1 63.5 175.8 62.7 173.1 61.7 171.1 61 169.1 60.2 167.1 59.4 165.1 58.6 162.9 57.7 160.4 56.7 158.1 55.8 156.1 55 154.1 54.3 152.1 53.6 149.6 52.7 147.1 51.9 145.1 51.3 142.8 50.7 140.1 50 138.1 49.5 135.2 48.7 133.1 48 131.1 47.3 128.9 46.7 126.1 46.1 123.1 45.7 121.1 45.7 119.1 45.8 116.1 46.3 114.1 46.8 111.4 47.7 109.1 48.5 107.1 49.3 105.1 49.9 102.1 50.5 100.1 50.8 97.1 51 94.1 51.2 91.1 51.5 89.1 51.8 86.1 52.5 84.1 53 82.1 53.7 79.7 54.7 77.6 55.7 75.6 56.7 73.7 57.7 71.8 58.7 70.1 59.7 68.1 61 66.1 62.4 64.4 63.7 63.1 64.7 61.1 66.1 M255.8 103.6 254.9 101.7 255.1 98.7 255.9 97.4 M61.1 128.2 62.7 129.7 63.7 131.7 63.6 134.7 62.4 136.7 61.1 137.8" stroke="#00f0f0" stroke-width=".6" fill="none" opacity=".8" stroke-dasharray="5 2 1 2"/>
<path d="M80.86 228.3v-5.5 M80.86 5v5.5 M110.42 228.3v-5.5 M110.42 5v5.5 M139.99 228.3v-5.5 M139.99 5v5.5 M169.55 228.3v-5.5 M169.55 5v5.5 M199.11 228.3v-5.5 M199.11 5v5.5 M228.68 228.3v-5.5 M228.68 5v5.5 M258.24 228.3v-5.5 M258.24 5v5.5 M57.21 228.3v-2.8 M57.21 5v2.8 M63.12 228.3v-2.8 M63.12 5v2.8 M69.04 228.3v-2.8 M69.04 5v2.8 M74.95 228.3v-2.8 M74.95 5v2.8 M86.78 228.3v-2.8 M86.78 5v2.8 M92.69 228.3v-2.8 M92.69 5v2.8 M98.6 228.3v-2.8 M98.6 5v2.8 M104.51 228.3v-2.8 M104.51 5v2.8 M116.34 228.3v-2.8 M116.34 5v2.8 M122.25 228.3v-2.8 M122.25 5v2.8 M128.16 228.3v-2.8 M128.16 5v2.8 M134.07 228.3v-2.8 M134.07 5v2.8 M145.9 228.3v-2.8 M145.9 5v2.8 M151.81 228.3v-2.8 M151.81 5v2.8 M157.72 228.3v-2.8 M157.72 5v2.8 M163.64 228.3v-2.8 M163.64 5v2.8 M175.46 228.3v-2.8 M175.46 5v2.8 M181.38 228.3v-2.8 M181.38 5v2.8 M187.29 228.3v-2.8 M187.29 5v2.8 M193.2 228.3v-2.8 M193.2 5v2.8 M205.02 228.3v-2.8 M205.02 5v2.8 M210.94 228.3v-2.8 M210.94 5v2.8 M216.85 228.3v-2.8 M216.85 5v2.8 M222.76 228.3v-2.8 M222.76 5v2.8 M234.59 228.3v-2.8 M234.59 5v2.8 M240.5 228.3v-2.8 M240.5 5v2.8 M246.41 228.3v-2.8 M246.41 5v2.8 M252.32 228.3v-2.8 M252.32 5v2.8 M264.15 228.3v-2.8 M264.15 5v2.8 M270.06 228.3v-2.8 M270.06 5v2.8 M275.98 228.3v-2.8 M275.98 5v2.8 M281.89 228.3v-2.8 M281.89 5v2.8 M51.3 32.21h5.5 M287.8 32.21h-5.5 M51.3 59.42h5.5 M287.8 59.42h-5.5 M51.3 86.64h5.5 M287.8 86.64h-5.5 M51.3 113.85h5.5 M287.8 113.85h-5.5 M51.3 141.06h5.5 M287.8 141.06h-5.5 M51.3 168.27h5.5 M287.8 168.27h-5.5 M51.3 195.49h5.5 M287.8 195.49h-5.5 M51.3 222.7h5.5 M287.8 222.7h-5.5 M51.3 10.44h2.8 M287.8 10.44h-2.8 M51.3 15.88h2.8 M287.8 15.88h-2.8 M51.3 21.33h2.8 M287.8 21.33h-2.8 M51.3 26.77h2.8 M287.8 26.77h-2.8 M51.3 37.65h2.8 M287.8 37.65h-2.8 M51.3 43.1h2.8 M287.8 43.1h-2.8 M51.3 48.54h2.8 M287.8 48.54h-2.8 M51.3 53.98h2.8 M287.8 53.98h-2.8 M51.3 64.87h2.8 M287.8 64.87h-2.8 M51.3 70.31h2.8 M287.8 70.31h-2.8 M51.3 75.75h2.8 M287.8 75.75h-2.8 M51.3 81.19h2.8 M287.8 81.19h-2.8 M51.3 92.08h2.8 M287.8 92.08h-2.8 M51.3 97.52h2.8 M287.8 97.52h-2.8 M51.3 102.97h2.8 M287.8 102.97h-2.8 M51.3 108.41h2.8 M287.8 108.41h-2.8 M51.3 119.29h2.8 M287.8 119.29h-2.8 M51.3 124.73h2.8 M287.8 124.73h-2.8 M51.3 130.18h2.8 M287.8 130.18h-2.8 M51.3 135.62h2.8 M287.8 135.62h-2.8 M51.3 146.5h2.8 M287.8 146.5h-2.8 M51.3 151.95h2.8 M287.8 151.95h-2.8 M51.3 157.39h2.8 M287.8 157.39h-2.8 M51.3 162.83h2.8 M287.8 162.83h-2.8 M51.3 173.72h2.8 M287.8 173.72h-2.8 M51.3 179.16h2.8 M287.8 179.16h-2.8 M51.3 184.6h2.8 M287.8 184.6h-2.8 M51.3 190.04h2.8 M287.8 190.04h-2.8 M51.3 200.93h2.8 M287.8 200.93h-2.8 M51.3 206.37h2.8 M287.8 206.37h-2.8 M51.3 211.81h2.8 M287.8 211.81h-2.8 M51.3 217.26h2.8 M287.8 217.26h-2.8" stroke="#000" stroke-width=".85" fill="none"/>
<rect x="51.3" y="5" width="236.5" height="223.3" fill="none" stroke="#000" stroke-width="1"/>
<rect x="294" y="5" width="11.8" height="223.3" fill="url(#cb1)" stroke="#000" stroke-width="1"/>
<path d="M294 32.91h3.5M305.8 32.91h-3.5 M294 60.83h3.5M305.8 60.83h-3.5 M294 88.74h3.5M305.8 88.74h-3.5 M294 116.65h3.5M305.8 116.65h-3.5 M294 144.56h3.5M305.8 144.56h-3.5 M294 172.48h3.5M305.8 172.48h-3.5 M294 200.39h3.5M305.8 200.39h-3.5" stroke="#000" stroke-width="1" fill="none"/>
<g shape-rendering="crispEdges"><rect x="430.3" y="16.3" width="209.88" height="2" fill="url(#b0)"/><rect x="430.3" y="18" width="209.88" height="2.3" fill="url(#b1)"/><rect x="430.3" y="20" width="209.88" height="2.3" fill="url(#b2)"/><rect x="430.3" y="22" width="209.88" height="2.3" fill="url(#b3)"/><rect x="430.3" y="24" width="209.88" height="2.3" fill="url(#b4)"/><rect x="430.3" y="26" width="209.88" height="2.3" fill="url(#b5)"/><rect x="430.3" y="28" width="209.88" height="2.3" fill="url(#b6)"/><rect x="430.3" y="30" width="209.88" height="2.3" fill="url(#b7)"/><rect x="430.3" y="32" width="209.88" height="2.3" fill="url(#b8)"/><rect x="430.3" y="34" width="209.88" height="2.3" fill="url(#b9)"/><rect x="430.3" y="36" width="209.88" height="2.3" fill="url(#b10)"/><rect x="430.3" y="38" width="209.88" height="2.3" fill="url(#b11)"/><rect x="430.3" y="40" width="209.88" height="2.3" fill="url(#b12)"/><rect x="430.3" y="42" width="209.88" height="2.3" fill="url(#b13)"/><rect x="430.3" y="44" width="209.88" height="2.3" fill="url(#b14)"/><rect x="430.3" y="46" width="209.88" height="2.3" fill="url(#b15)"/><rect x="430.3" y="48" width="209.88" height="2.3" fill="url(#b16)"/><rect x="430.3" y="50" width="209.88" height="2.3" fill="url(#b17)"/><rect x="430.3" y="52" width="209.88" height="2.3" fill="url(#b18)"/><rect x="430.3" y="54" width="209.88" height="2.3" fill="url(#b19)"/><rect x="430.3" y="56" width="209.88" height="2.3" fill="url(#b20)"/><rect x="430.3" y="58" width="209.88" height="2.3" fill="url(#b21)"/><rect x="430.3" y="60" width="209.88" height="2.3" fill="url(#b22)"/><rect x="430.3" y="62" width="209.88" height="2.3" fill="url(#b23)"/><rect x="430.3" y="64" width="209.88" height="2.3" fill="url(#b24)"/><rect x="430.3" y="66" width="209.88" height="2.3" fill="url(#b25)"/><rect x="430.3" y="68" width="209.88" height="2.3" fill="url(#b26)"/><rect x="430.3" y="70" width="209.88" height="2.3" fill="url(#b27)"/><rect x="430.3" y="72" width="209.88" height="2.3" fill="url(#b28)"/><rect x="430.3" y="74" width="209.88" height="2.3" fill="url(#b29)"/><rect x="430.3" y="76" width="209.88" height="2.3" fill="url(#b30)"/><rect x="430.3" y="78" width="209.88" height="2.3" fill="url(#b31)"/><rect x="430.3" y="80" width="209.88" height="2.3" fill="url(#b32)"/><rect x="430.3" y="82" width="209.88" height="2.3" fill="url(#b33)"/><rect x="430.3" y="84" width="209.88" height="2.3" fill="url(#b34)"/><rect x="430.3" y="86" width="209.88" height="2.3" fill="url(#b35)"/><rect x="430.3" y="88" width="209.88" height="2.3" fill="url(#b36)"/><rect x="430.3" y="90" width="209.88" height="2.3" fill="url(#b37)"/><rect x="430.3" y="92" width="209.88" height="2.3" fill="url(#b38)"/><rect x="430.3" y="94" width="209.88" height="2.3" fill="url(#b39)"/><rect x="430.3" y="96" width="209.88" height="2.3" fill="url(#b40)"/><rect x="430.3" y="98" width="209.88" height="2.3" fill="url(#b41)"/><rect x="430.3" y="100" width="209.88" height="2.3" fill="url(#b42)"/><rect x="430.3" y="102" width="209.88" height="2.3" fill="url(#b43)"/><rect x="430.3" y="104" width="209.88" height="2.3" fill="url(#b44)"/><rect x="430.3" y="106" width="209.88" height="2.3" fill="url(#b45)"/><rect x="430.3" y="108" width="209.88" height="2.3" fill="url(#b46)"/><rect x="430.3" y="110" width="209.88" height="2.3" fill="url(#b47)"/><rect x="430.3" y="112" width="209.88" height="2.3" fill="url(#b48)"/><rect x="430.3" y="114" width="209.88" height="2.3" fill="url(#b49)"/><rect x="430.3" y="116" width="209.88" height="2.3" fill="url(#b50)"/><rect x="430.3" y="118" width="209.88" height="2.3" fill="url(#b51)"/><rect x="430.3" y="120" width="209.88" height="2.3" fill="url(#b52)"/><rect x="430.3" y="122" width="209.88" height="2.3" fill="url(#b53)"/><rect x="430.3" y="124" width="209.88" height="2.3" fill="url(#b54)"/><rect x="430.3" y="126" width="209.88" height="2.3" fill="url(#b55)"/><rect x="430.3" y="128" width="209.88" height="2.3" fill="url(#b56)"/><rect x="430.3" y="130" width="209.88" height="2.3" fill="url(#b57)"/><rect x="430.3" y="132" width="209.88" height="2.3" fill="url(#b58)"/><rect x="430.3" y="134" width="209.88" height="2.3" fill="url(#b59)"/><rect x="430.3" y="136" width="209.88" height="2.3" fill="url(#b60)"/><rect x="430.3" y="138" width="209.88" height="2.3" fill="url(#b61)"/><rect x="430.3" y="140" width="209.88" height="2.3" fill="url(#b62)"/><rect x="430.3" y="142" width="209.88" height="2.3" fill="url(#b63)"/><rect x="430.3" y="144" width="209.88" height="2.3" fill="url(#b64)"/><rect x="430.3" y="146" width="209.88" height="2.3" fill="url(#b65)"/><rect x="430.3" y="148" width="209.88" height="2.3" fill="url(#b66)"/><rect x="430.3" y="150" width="209.88" height="2.3" fill="url(#b67)"/><rect x="430.3" y="152" width="209.88" height="2.3" fill="url(#b68)"/><rect x="430.3" y="154" width="209.88" height="2.3" fill="url(#b69)"/><rect x="430.3" y="156" width="209.88" height="2.3" fill="url(#b70)"/><rect x="430.3" y="158" width="209.88" height="2.3" fill="url(#b71)"/><rect x="430.3" y="160" width="209.88" height="2.3" fill="url(#b72)"/><rect x="430.3" y="162" width="209.88" height="2.3" fill="url(#b73)"/><rect x="430.3" y="164" width="209.88" height="2.3" fill="url(#b74)"/><rect x="430.3" y="166" width="209.88" height="2.3" fill="url(#b75)"/><rect x="430.3" y="168" width="209.88" height="2.3" fill="url(#b76)"/><rect x="430.3" y="170" width="209.88" height="2.3" fill="url(#b77)"/><rect x="430.3" y="172" width="209.88" height="2.3" fill="url(#b78)"/><rect x="430.3" y="174" width="209.88" height="2.3" fill="url(#b79)"/><rect x="430.3" y="176" width="209.88" height="2.3" fill="url(#b80)"/><rect x="430.3" y="178" width="209.88" height="2.3" fill="url(#b81)"/><rect x="430.3" y="180" width="209.88" height="2.3" fill="url(#b82)"/><rect x="430.3" y="182" width="209.88" height="2.3" fill="url(#b83)"/><rect x="430.3" y="184" width="209.88" height="2.3" fill="url(#b84)"/><rect x="430.3" y="186" width="209.88" height="2.3" fill="url(#b85)"/><rect x="430.3" y="188" width="209.88" height="2.3" fill="url(#b86)"/><rect x="430.3" y="190" width="209.88" height="2.3" fill="url(#b87)"/><rect x="430.3" y="192" width="209.88" height="2.3" fill="url(#b88)"/><rect x="430.3" y="194" width="209.88" height="2.3" fill="url(#b89)"/><rect x="430.3" y="196" width="209.88" height="2.3" fill="url(#b90)"/><rect x="430.3" y="198" width="209.88" height="2.3" fill="url(#b91)"/><rect x="430.3" y="200" width="209.88" height="2.3" fill="url(#b92)"/><rect x="430.3" y="202" width="209.88" height="2.3" fill="url(#b93)"/><rect x="430.3" y="204" width="209.88" height="2.3" fill="url(#b94)"/><rect x="430.3" y="206" width="209.88" height="2.3" fill="url(#b95)"/><rect x="430.3" y="208" width="209.88" height="2.3" fill="url(#b96)"/><rect x="430.3" y="210" width="209.88" height="2.3" fill="url(#b97)"/><rect x="430.3" y="212" width="209.88" height="2.3" fill="url(#b98)"/><rect x="430.3" y="214" width="209.88" height="2.3" fill="url(#b99)"/><rect x="430.3" y="216" width="209.88" height="2.3" fill="url(#b100)"/><rect x="430.3" y="218" width="209.88" height="2.3" fill="url(#b101)"/><rect x="430.3" y="220" width="209.88" height="2.3" fill="url(#b102)"/><rect x="430.3" y="222" width="209.88" height="2.3" fill="url(#b103)"/><rect x="430.3" y="224" width="209.88" height="2.3" fill="url(#b104)"/><rect x="430.3" y="226" width="209.88" height=".54" fill="url(#b105)"/></g>
<path d="M430.3 16.3V226.54 M453.62 16.3V226.54 M476.94 16.3V226.54 M500.26 16.3V226.54 M523.58 16.3V226.54 M546.9 16.3V226.54 M570.22 16.3V226.54 M593.54 16.3V226.54 M616.86 16.3V226.54 M640.18 16.3V226.54 M430.3 16.3H640.18 M430.3 39.66H640.18 M430.3 63.02H640.18 M430.3 86.38H640.18 M430.3 109.74H640.18 M430.3 133.1H640.18 M430.3 156.46H640.18 M430.3 179.82H640.18 M430.3 203.18H640.18 M430.3 226.54H640.18" stroke="#000" stroke-width=".55" fill="none" opacity=".8"/>
<path d="M616.3 61.2 615.1 62.3 615.4 64.3 618.3 64.3 618.6 62.3 617.3 61.1 616.3 61.2 M626.1 16.3 625.3 18.9 624.3 20.4 622.3 22.2 620.6 23.3 618.9 24.3 617.3 25.3 615.3 26.7 613.3 28.2 612 29.3 610.3 30.8 608.7 32.3 607.3 33.7 605.6 35.3 604.3 36.6 602.5 38.3 601.3 39.5 599.6 41.3 598.3 42.6 596.7 44.3 595.3 45.9 594.2 47.3 592.8 49.3 591.6 51.3 590.6 53.3 589.7 55.3 589.1 57.3 588.3 60 587.7 62.3 587.1 64.3 586.3 67.1 585.7 69.3 585.1 71.3 584.5 74.3 584.3 76.3 584.1 79.3 584.3 82.3 584.7 84.3 585.4 86.3 586.5 88.3 588.1 90.3 589.3 91.4 591.3 92.9 593.3 94.1 595.3 95.2 597.3 96.1 599.3 96.9 601.3 97.7 603.3 98.3 606.3 99.1 608.3 99.5 611.3 100 614.3 100.2 617.3 100.2 620.3 99.9 623.3 99.4 625.3 99 627.5 98.3 630.3 97.3 632.3 96.4 634.3 95.5 636.3 94.5 638.3 93.5 640.2 92.8 M546.3 107.1 544.6 108.3 544.2 110.3 545.3 112 547.3 112.4 549.1 111.3 549.6 109.3 548.3 107.4 546.3 107.1 M453.3 16.3 453.1 19.3 452.6 22.3 452.2 24.3 451.4 27.3 450.9 29.3 450.3 31.9 449.8 34.3 449.4 37.3 449.3 40.3 449.5 43.3 450 46.3 450.4 48.3 451.3 51.3 451.9 53.3 452.6 55.3 453.3 57.3 454.3 60.3 454.9 62.3 455.4 64.3 456 67.3 456.4 69.3 457 72.3 457.5 74.3 458.1 77.3 458.6 79.3 459.3 81.9 459.9 84.3 460.5 86.3 461.3 88.9 462.1 91.3 462.8 93.3 463.6 95.3 464.4 97.3 465.3 99.3 466.4 101.3 467.5 103.3 468.7 105.3 470 107.3 471.3 109.1 472.3 110.5 473.7 112.3 475.3 114.3 476.3 115.6 477.7 117.3 479.3 119.3 480.3 120.5 481.7 122.3 483.1 124.3 484.3 126 485.3 127.5 486.4 129.3 487.5 131.3 488.4 133.3 489.3 135.6 490.1 138.3 490.5 140.3 491 143.3 491.2 146.3 491.3 148.3 491.4 151.3 491.5 154.3 491.7 157.3 491.9 160.3 492.3 163.1 492.8 165.3 493.3 167.3 494.3 170.1 495.3 172.3 496.3 174.3 497.3 176.1 498.3 177.6 499.6 179.3 501.3 181.1 502.7 182.3 504.3 183.5 506.3 184.7 508.3 185.8 510.3 186.7 512.3 187.5 514.5 188.3 517.3 189.1 519.3 189.5 522.3 190 525.3 190.3 527.3 190.3 530.3 190.4 532.7 190.3 535.3 190.2 538.3 190.1 541.3 190 544.3 189.8 547.3 189.5 549.3 189.3 552.3 188.9 555.3 188.4 557.3 188.1 560.3 187.5 562.3 187.2 565.3 186.7 568.1 186.3 570.3 186 573.3 185.7 576.3 185.5 579.3 185.4 582.3 185.4 585.3 185.5 588.3 185.7 591.3 185.9 594.3 186.1 596.8 186.3 599.3 186.5 602.3 186.6 605.3 186.9 608.3 187.1 610.9 187.3 613.3 187.5 616.3 187.7 619.3 187.8 622.3 188 625.3 188.2 627.8 188.3 630.3 188.5 633.3 188.7 636.3 189 639.3 189.2 640.2 189.3 M430.3 176.8 433.3 177.1 435.3 177.5 438.3 178 440.3 178.3 443.3 178.9 445.3 179.3 448.3 180.1 450.3 180.6 452.3 181.3 454.9 182.3 457.1 183.3 458.9 184.3 460.4 185.3 462.3 186.7 464.3 188.3 465.4 189.3 467.3 190.8 469.2 192.3 470.6 193.3 472.3 194.7 474.2 196.3 475.3 197.3 477.2 199.3 478.3 200.7 479.4 202.3 480.5 204.3 481.4 206.3 482.2 209.3 482.6 211.3 482.7 214.3 482.5 217.3 482.2 219.3 481.5 222.3 481 224.3 480.5 226.5" stroke="#000" stroke-width=".5" fill="none" opacity=".78" stroke-dasharray="4 2"/>
<path d="M614.3 59.2 613.2 60.3 612.3 62.6 612.4 64.3 613.7 66.3 615.3 67.3 618.3 67.4 620.1 66.3 621.3 64.3 621.4 62.3 620.6 60.3 619.3 59.1 616.3 58.5 614.3 59.2 M614.1 16.3 613.3 18.6 612.3 20.6 611.3 22.3 609.9 24.3 608.4 26.3 607.3 27.7 605.8 29.3 604.3 30.8 602.7 32.3 601.3 33.5 599.3 35.3 598.3 36.3 596.3 38.2 595.1 39.3 593.3 41.1 592.1 42.3 590.3 44.2 589.3 45.3 587.6 47.3 586.3 49 585.3 50.3 583.8 52.3 582.3 54.3 581.3 55.7 580 57.3 578.3 59.2 577.2 60.3 575.3 62.2 574.3 63.3 572.5 65.3 571.3 67.1 570.3 68.8 569.3 70.9 568.3 73.1 567.4 75.3 566.6 77.3 565.8 79.3 565 81.3 564.2 83.3 563.3 85.4 562.3 87.6 561.3 89.7 560.3 91.5 559.2 93.3 557.5 95.3 556.3 96.4 554.3 97.6 552.2 98.3 549.3 99 547.3 99.5 545.2 100.3 543.3 101.4 541.3 103.2 540.3 104.5 539.3 106.6 538.8 109.3 539.3 112.3 540.3 114.3 541.3 115.5 543.3 116.9 545.3 117.7 548.3 117.9 551 117.3 553.2 116.3 554.8 115.3 556.3 114.1 558.3 112.4 560 111.3 562.1 110.3 564.3 109.8 567.3 109.4 569.3 109.2 572.3 108.8 574.4 108.3 577.3 107.6 579.3 107.2 582.3 106.6 584.4 106.3 587.3 106 590.3 105.9 593.3 106 596.3 106.1 598.8 106.3 601.3 106.5 604.3 106.7 607.3 106.9 610.3 107 613.3 107 616.3 107 619.3 106.8 622.3 106.6 624.4 106.3 627.3 105.8 629.9 105.3 632.3 104.7 634.3 104.1 637.1 103.3 639.3 102.7 640.2 102.5 M430.3 72.2 431.3 73.3 432.7 75.3 434 77.3 435.3 79.3 436.3 80.8 437.3 82.3 438.7 84.3 440.2 86.3 441.3 87.7 442.4 89.3 443.8 91.3 445.1 93.3 446.3 95.2 447.3 96.8 448.3 98.5 449.3 100.3 450.5 102.3 451.6 104.3 452.8 106.3 454.1 108.3 455.3 110.1 456.3 111.4 457.8 113.3 459.3 115.1 460.3 116.3 462.1 118.3 463.3 119.6 464.9 121.3 466.3 122.7 467.8 124.3 469.3 125.9 470.6 127.3 472.3 129.3 473.3 130.5 474.6 132.3 476 134.3 477.2 136.3 478.2 138.3 479.1 140.3 479.9 142.3 480.6 144.3 481.3 146.7 482 149.3 482.5 151.3 483.1 154.3 483.5 156.3 484.2 159.3 484.7 161.3 485.3 163.3 486.3 166.1 487.2 168.3 488.1 170.3 489.2 172.3 490.2 174.3 491.3 176.2 492.3 177.9 493.3 179.5 494.6 181.3 496.2 183.3 497.3 184.4 499.3 186.2 500.8 187.3 502.3 188.3 504.3 189.5 506.3 190.6 508.3 191.6 510.3 192.5 512.3 193.3 515.1 194.3 517.3 194.9 519.3 195.4 522.3 196 524.8 196.3 527.3 196.6 530.3 196.8 533.3 197 536.3 197.1 539.3 197.1 542.3 197.1 545.3 197.1 548.3 197 551.3 196.9 554.3 196.8 557.3 196.6 560.3 196.4 562.3 196.2 565.3 196 568.3 195.8 571.3 195.7 574.3 195.6 577.3 195.7 580.3 195.8 583.3 195.9 586.3 196 589.3 196.1 592.3 196.3 594.3 196.4 597.3 196.6 600.3 196.9 603.3 197.1 606.3 197.2 608.3 197.3 611.3 197.4 614.3 197.5 617.3 197.6 620.3 197.7 623.3 197.9 626.3 198 629.3 198.2 632.1 198.3 634.3 198.4 637.3 198.7 640.2 198.9 M430.3 182.1 432.3 182.3 435.3 182.7 438.3 183 441.3 183.2 443.3 183.3 446.3 183.5 449.3 183.8 451.8 184.3 454.3 185 456.3 185.9 458.3 186.9 460.3 188.3 461.6 189.3 463.3 190.7 465.2 192.3 466.4 193.3 468.3 194.8 470.2 196.3 471.3 197.3 473.3 199.2 474.4 200.3 475.9 202.3 477.1 204.3 477.9 206.3 478.5 208.3 478.8 211.3 478.7 214.3 478.3 216.9 477.7 219.3 477 221.3 476.3 223.3 475.3 226.5" stroke="#000" stroke-width=".5" fill="none" opacity=".78" stroke-dasharray="2 3"/>
<path d="M614.3 56.8 612.3 58.1 611.3 59.3 610.3 61.7 610.3 64.3 611 66.3 612.3 67.9 614.3 69.2 616.3 69.7 619.2 69.3 621 68.3 622.3 66.9 623.3 64.8 623.5 62.3 623 60.3 621.6 58.3 620.3 57.3 617.3 56.3 614.3 56.8 M602.1 16.3 602.1 19.3 601.5 22.3 600.7 24.3 599.3 26.3 598.3 27.4 596.4 29.3 595.3 30.3 593.3 32.2 592.1 33.3 590.3 34.9 588.7 36.3 587.3 37.6 585.3 39.3 584.1 40.3 582.3 41.9 580.6 43.3 579.3 44.4 577.3 46 575.5 47.3 574.2 48.3 572.3 49.7 570.3 51.1 568.7 52.3 567.3 53.4 565.3 55.1 564.1 56.3 562.4 58.3 561.3 59.7 560.2 61.3 559.1 63.3 558.1 65.3 557.2 67.3 556.3 69.6 555.3 72.3 554.6 74.3 553.9 76.3 553.1 78.3 552.3 80.3 551.3 82.5 550.3 84.4 549.1 86.3 547.7 88.3 546.3 89.9 544.9 91.3 543.3 92.9 541.9 94.3 540.3 96 539.2 97.3 537.8 99.3 536.6 101.3 535.7 103.3 535.1 105.3 534.7 108.3 534.9 111.3 535.3 113.3 536.3 115.6 537.4 117.3 539.3 119.2 540.8 120.3 542.8 121.3 545.3 122 547.5 122.3 549.7 122.3 552.3 122 555.3 121.3 557.3 120.8 559.3 120.2 562.3 119.3 564.3 118.8 566.7 118.3 569.3 117.8 572.3 117.3 574.3 117 577.3 116.5 579.3 116.2 582.3 115.8 585.3 115.4 587.3 115.2 590.3 114.9 593.3 114.8 596.3 114.7 599.3 114.6 602.3 114.6 605.3 114.6 608.3 114.6 611.3 114.6 614.3 114.5 617.3 114.4 619.3 114.3 622.3 114.1 625.3 113.9 628.3 113.6 630.7 113.3 633.3 112.9 636.3 112.4 638.3 112.1 640.2 111.8 M430.3 99.4 432.3 100.7 434.1 102.3 435.3 103.6 436.8 105.3 438.3 107.2 439.3 108.5 440.6 110.3 442.1 112.3 443.3 114 444.3 115.4 445.8 117.3 447.3 119.2 448.3 120.5 449.9 122.3 451.3 123.9 452.6 125.3 454.3 127 455.6 128.3 457.3 130 458.7 131.3 460.3 132.8 461.9 134.3 463.3 135.7 464.8 137.3 466.3 139.1 467.3 140.4 468.7 142.3 469.9 144.3 471.1 146.3 472.1 148.3 473 150.3 473.9 152.3 474.7 154.3 475.5 156.3 476.3 158.4 477.3 160.8 478.3 163 479.3 164.9 480.3 166.7 481.3 168.3 482.5 170.3 483.8 172.3 485.1 174.3 486.3 176.3 487.3 177.9 488.3 179.6 489.4 181.3 490.7 183.3 492.2 185.3 493.3 186.6 495 188.3 496.3 189.4 498.3 191 500.2 192.3 501.7 193.3 503.4 194.3 505.3 195.5 507.3 196.6 509.3 197.7 511.3 198.7 513.3 199.6 515.3 200.5 517.6 201.3 520.3 202.2 522.3 202.7 524.5 203.3 527.3 204 529.3 204.5 532.3 205.2 534.3 205.6 537.3 206 540.3 206.3 542.3 206.4 545.3 206.6 548.3 206.9 551.3 207.2 553.3 207.4 556.3 207.8 559.3 208.1 562.3 208.3 564.3 208.4 567.3 208.7 570.3 209 572.3 209.3 575.3 209.9 577.4 210.3 580.3 210.9 582.4 211.3 585.3 211.8 588 212.3 590.3 212.7 593.3 213.2 595.3 213.6 598.3 214.1 600.3 214.4 603.3 214.9 606.3 215.2 608.3 215.4 611.3 215.6 614.3 215.8 617.3 215.9 620.3 216.1 622.9 216.3 625.3 216.6 628.3 217 630.3 217.5 632.6 218.3 634.6 219.3 636.3 220.3 638.3 221.7 640.2 222.8 M430.3 187.6 433.3 187.7 436.3 187.9 439.3 187.9 442.3 187.7 444.7 187.3 447.3 187 450.3 187 452.3 187.3 455.3 188.2 457.3 189.2 459.1 190.3 460.4 191.3 462.3 192.9 463.9 194.3 465.3 195.5 467.3 197.2 468.5 198.3 470.3 200.1 471.3 201.3 472.8 203.3 473.8 205.3 474.5 207.3 474.9 210.3 474.7 213.3 474.3 215.3 473.3 218.3 472.5 220.3 471.5 222.3 470.5 224.3 469.7 226.5" stroke="#000" stroke-width=".5" fill="none" opacity=".78" stroke-dasharray="1 1.5"/>
<path d="M616.3 54.2 614.3 54.6 612.3 55.4 610.3 57.1 609.3 58.4 608.3 60.8 608 63.3 608.3 65.3 609.3 67.6 610.6 69.3 612.3 70.6 614.3 71.5 617.3 71.9 619.9 71.3 621.9 70.3 623.3 69.1 624.6 67.3 625.4 65.3 625.7 62.3 625.3 60.3 624.3 58.2 622.6 56.3 621.1 55.3 618.3 54.3 616.3 54.2 M582.4 16.3 582.3 19.3 582.1 21.3 581.3 24.1 580.3 26.2 579.3 27.7 578 29.3 576.3 31.1 575 32.3 573.3 33.8 571.3 35.3 570 36.3 568.3 37.5 566.3 38.9 564.4 40.3 563 41.3 561.3 42.6 559.3 44.2 558.1 45.3 556.3 47 555.1 48.3 553.4 50.3 552.3 51.8 551.3 53.4 550.2 55.3 549.2 57.3 548.3 59.3 547.3 61.9 546.5 64.3 545.9 66.3 545.3 68.3 544.5 71.3 544 73.3 543.3 75.6 542.5 78.3 541.8 80.3 541 82.3 540 84.3 539 86.3 537.9 88.3 536.7 90.3 535.6 92.3 534.5 94.3 533.5 96.3 532.6 98.3 531.8 100.3 531.3 102.3 530.7 105.3 530.6 108.3 530.8 111.3 531.3 113.7 532.2 116.3 533.2 118.3 534.3 119.9 535.5 121.3 537.3 122.9 539.3 124.2 541.3 125.2 543.3 125.9 545.3 126.3 548.3 126.7 551.3 126.7 554.3 126.5 556.3 126.2 559.3 125.7 561.6 125.3 564.3 124.8 567 124.3 569.3 124 572.3 123.6 575.2 123.3 577.3 123.1 580.3 122.9 583.3 122.8 586.3 122.6 589.3 122.5 592.3 122.5 595.3 122.5 598.3 122.5 601.3 122.5 604.3 122.6 607.3 122.6 610.3 122.6 613.3 122.6 616.3 122.6 619.3 122.6 622.3 122.5 625.3 122.4 627.3 122.3 630.3 122.1 633.3 121.9 636.3 121.6 639.3 121.4 640.2 121.4 M430.3 118.3 432.3 119.9 433.6 121.3 435.3 123.2 436.3 124.3 438 126.3 439.3 127.7 440.8 129.3 442.3 130.9 443.8 132.3 445.3 133.7 447.3 135.3 448.5 136.3 450.3 137.7 452.3 139.2 453.8 140.3 455.3 141.5 457.3 143.2 458.5 144.3 460.3 146.2 461.3 147.4 462.8 149.3 464.1 151.3 465.2 153.3 466.3 155.3 467.3 157.3 468.3 159.3 469.3 161.2 470.3 162.9 471.3 164.3 472.9 166.3 474.3 167.9 475.6 169.3 477.3 171.1 478.3 172.3 480 174.3 481.3 175.9 482.3 177.3 483.7 179.3 484.9 181.3 486.2 183.3 487.3 184.9 488.3 186.4 489.8 188.3 491.3 190 492.6 191.3 494.3 192.8 496.2 194.3 497.5 195.3 499.3 196.6 501.3 198.1 503 199.3 504.3 200.3 506.3 201.8 508.2 203.3 509.6 204.3 511.3 205.6 513.3 207.2 514.8 208.3 516.3 209.4 518.3 210.9 520.1 212.3 521.3 213.3 523.3 215 524.9 216.3 526.3 217.5 528.3 219.2 529.6 220.3 531.3 221.7 533.3 223.3 534.5 224.3 536.3 226.4 536.4 226.5 M430.3 193.1 433.3 193.1 436.3 193 439.3 192.7 441.3 192.2 444.3 191.3 446.3 190.7 448.3 190.2 451.3 190 453.4 190.3 456.1 191.3 457.8 192.3 459.3 193.4 461.3 195.1 462.7 196.3 464.3 197.9 465.7 199.3 467.3 201.2 468.3 202.5 469.3 204.3 470.3 206.9 470.6 209.3 470.4 212.3 469.8 214.3 469 216.3 468 218.3 466.7 220.3 465.3 222.3 464.3 223.6 463.2 225.3 462.6 226.5 M432.1 226.5 430.3 225.4" stroke="#000" stroke-width=".5" fill="none" opacity=".78" stroke-dasharray="5 2 1 2"/>
<path d="M614.3 52 612.3 52.8 610.3 53.9 608.7 55.3 607.3 57 606.3 59.1 605.7 61.3 605.7 64.3 606.3 66.9 607.3 69 608.3 70.4 610.3 72.2 612.3 73.3 614.3 74 617.3 74.3 620.3 73.7 622.3 72.8 624.3 71.5 625.5 70.3 626.8 68.3 627.6 66.3 628.1 63.3 627.8 60.3 627.1 58.3 625.9 56.3 624.3 54.6 622.4 53.3 620.3 52.3 618.3 51.8 615.3 51.8 614.3 52 M561.2 16.3 560.3 19.3 559.4 21.3 558.3 23.1 557.3 24.5 555.8 26.3 554.3 27.8 552.8 29.3 551.3 30.7 549.6 32.3 548.3 33.6 546.6 35.3 545.3 36.7 544 38.3 542.5 40.3 541.3 42.2 540.3 44 539.3 46 538.3 48.2 537.5 50.3 536.8 52.3 536.1 54.3 535.4 57.3 535 59.3 534.5 62.3 534.3 64.3 534 67.3 533.8 70.3 533.6 73.3 533.3 76.2 533 78.3 532.5 81.3 532 83.3 531.3 85.7 530.5 88.3 529.7 90.3 529 92.3 528.3 94.3 527.3 97.3 526.9 99.3 526.4 102.3 526.2 104.3 526.2 107.3 526.3 109.3 526.7 112.3 527.3 115.2 528 117.3 528.8 119.3 530 121.3 531.3 123.2 532.3 124.3 534.3 126.2 535.7 127.3 537.3 128.3 539.3 129.3 542.2 130.3 544.3 130.8 547.3 131.2 549.3 131.4 552.3 131.5 555.3 131.5 557.4 131.3 560.3 131 563.3 130.5 565.3 130.2 568.3 129.8 571.3 129.5 574.3 129.4 577.3 129.4 580.3 129.4 583.3 129.5 586.3 129.6 589.3 129.8 592.3 130 595.3 130.1 598.2 130.3 600.3 130.4 603.3 130.6 606.3 130.8 609.3 131 612.3 131.1 615.3 131.3 617.3 131.3 620.3 131.4 623.3 131.4 626.3 131.3 628.5 131.3 631.3 131.3 634.3 131.2 637.3 131.2 640.2 131.1 M430.3 138.1 432.3 139.2 433.9 140.3 435.4 141.3 437.3 142.4 439.3 143.5 441.3 144.4 443.3 145.3 445.5 146.3 447.6 147.3 449.6 148.3 451.3 149.3 453.3 150.6 455.3 152.3 456.3 153.3 457.9 155.3 459.3 157.3 460.3 159 461.3 160.7 462.3 162.4 463.5 164.3 465 166.3 466.3 167.7 468 169.3 469.3 170.4 471.3 172 473 173.3 474.3 174.4 476.3 176.2 477.4 177.3 479.2 179.3 480.3 180.7 481.4 182.3 482.8 184.3 484.2 186.3 485.3 187.9 486.4 189.3 488 191.3 489.3 192.7 490.9 194.3 492.3 195.6 494.2 197.3 495.3 198.3 497.3 200.1 498.7 201.3 500.3 202.9 501.7 204.3 503.3 206.1 504.3 207.3 505.8 209.3 507.2 211.3 508.3 213.2 509.3 215.1 510.3 217.2 511.2 219.3 512 221.3 512.7 223.3 513.3 225.5 513.5 226.5 M430.3 199.5 432.3 199.3 435.3 198.9 437.8 198.3 440.3 197.4 442.3 196.5 444.3 195.5 446.3 194.4 448.3 193.6 450.3 193.1 453.3 193.2 455.3 193.9 457.3 195 458.9 196.3 460.3 197.5 462 199.3 463.3 200.9 464.3 202.4 465.3 204.5 466 207.3 465.7 210.3 465 212.3 463.8 214.3 462.3 216.1 460.9 217.3 459.3 218.5 457.3 219.7 455.3 220.7 453.3 221.4 450.3 221.8 447.3 221.5 445.3 221 443.1 220.3 440.7 219.3 438.4 218.3 436.3 217.3 434.3 216.4 432.3 215.6 430.3 214.9" stroke="#000" stroke-width=".5" fill="none" opacity=".78" stroke-dasharray="4 3 1 3"/>
<path d="M613.3 49.2 611.3 50.1 609.3 51.3 608 52.3 606.3 53.9 605.2 55.3 604.1 57.3 603.3 59.7 602.9 62.3 603.1 65.3 603.6 67.3 604.3 69.3 605.5 71.3 607.2 73.3 608.5 74.3 610.3 75.4 612.3 76.3 615.3 77.2 618.3 77.2 621.3 76.4 623.3 75.5 625.2 74.3 626.5 73.3 628.2 71.3 629.3 69.5 630.2 67.3 630.7 65.3 630.9 62.3 630.4 59.3 629.7 57.3 628.5 55.3 627.3 53.7 625.8 52.3 624.3 51.2 622.3 50.1 620.3 49.2 617.3 48.5 614.3 48.9 613.3 49.2 M530.6 16.3 530.1 18.3 529.3 20.9 528.5 23.3 527.8 25.3 527.1 27.3 526.3 29.8 525.5 32.3 525 34.3 524.3 36.7 523.6 39.3 523.1 41.3 522.4 44.3 522 46.3 521.5 49.3 521.2 51.3 520.9 54.3 520.7 57.3 520.8 60.3 521 63.3 521.3 65.5 521.8 68.3 522.3 71.1 522.7 73.3 523.2 76.3 523.4 78.3 523.6 81.3 523.5 84.3 523.2 86.3 522.6 89.3 522.1 91.3 521.5 94.3 521.1 96.3 520.7 99.3 520.6 102.3 520.7 105.3 521 108.3 521.3 110.8 521.7 113.3 522.3 115.8 523.1 118.3 523.9 120.3 524.9 122.3 526 124.3 527.3 126.1 528.3 127.3 530.1 129.3 531.3 130.5 533.3 132.1 535.1 133.3 536.9 134.3 539.3 135.3 541.3 135.9 543.3 136.4 546.3 136.9 549.3 137.2 551.3 137.4 554.3 137.5 557.3 137.4 559.3 137.3 562.3 137 565.3 136.6 568.1 136.3 570.3 136.1 573.3 136.1 576.3 136.3 578.3 136.4 581.3 136.7 584.3 137 586.7 137.3 589.3 137.6 592.3 138 595.3 138.3 597.3 138.5 600.3 138.9 603.3 139.2 605.3 139.4 608.3 139.6 611.3 139.9 614.3 140.1 617.3 140.3 619.3 140.4 622.3 140.5 625.3 140.6 628.3 140.7 631.3 140.8 634.3 140.8 637.3 140.9 640.2 141 M430.3 152.8 433.3 153.3 435.3 153.6 438.3 154.1 440.3 154.4 443.3 155 445.3 155.6 447.3 156.4 449.3 157.4 451.3 158.7 453.1 160.3 454.3 161.6 455.8 163.3 457.3 165.1 458.3 166.3 460.1 168.3 461.3 169.5 463.3 171.3 464.5 172.3 466.3 173.6 468.3 175 470.1 176.3 471.4 177.3 473.3 178.8 475.1 180.3 476.3 181.5 477.9 183.3 479.3 185.1 480.3 186.3 481.8 188.3 483.3 190.2 484.3 191.4 485.9 193.3 487.3 194.9 488.6 196.3 490.3 198.1 491.5 199.3 493.3 201.3 494.3 202.4 495.9 204.3 497.3 206.2 498.3 207.7 499.3 209.5 500.3 211.5 501.3 214.1 501.9 216.3 502.4 218.3 502.9 221.3 503.2 224.3 503.4 226.5 M450.3 197 453.3 196.8 455.3 197.5 457.3 198.9 458.6 200.3 460 202.3 460.7 204.3 460.7 207.3 459.7 209.3 458.3 210.6 456.3 211.5 453.3 212.1 450.3 212.1 447.3 211.5 445.3 210.4 444.1 209.3 443.1 207.3 443.3 204.3 444.2 202.3 445.3 200.7 446.6 199.3 448.3 198 450.3 197" stroke="#000" stroke-width=".5" fill="none" opacity=".78" stroke-dasharray="2 2 2 4"/>
<path d="M636.7 16.3 637.3 18.7 638.3 20.5 640.2 22.1 M615.3 43.3 613.7 44.3 612.3 45.3 610.3 46.8 608.3 48.2 606.9 49.3 605.3 50.7 603.8 52.3 602.3 54.3 601.3 56.3 600.7 58.3 600.3 60.3 600.1 63.3 600.3 66.3 600.7 68.3 601.3 70.3 602.3 72.4 603.6 74.3 605.3 76.1 606.8 77.3 608.3 78.3 610.3 79.4 612.3 80.3 615.3 81.2 617.3 81.4 619.3 81.1 621.5 80.3 623.6 79.3 625.4 78.3 627.3 77 629.3 75.3 630.3 74.2 631.6 72.3 632.7 70.3 633.4 68.3 634.2 65.3 634.4 63.3 634.3 61.1 633.7 58.3 632.9 56.3 631.8 54.3 630.4 52.3 629.3 51.1 627.3 49.3 626 48.3 624.3 47 622.3 45.4 620.9 44.3 619.3 43.2 616.3 42.9 615.3 43.3 M503.8 16.3 503.8 19.3 503.7 22.3 503.6 25.3 503.5 28.3 503.4 31.3 503.3 34.3 503.3 37.3 503.4 40.3 503.6 43.3 503.8 46.3 504.1 49.3 504.4 51.3 504.8 54.3 505.2 57.3 505.5 59.3 506.1 62.3 506.5 64.3 507.2 67.3 507.6 69.3 508.3 71.9 508.9 74.3 509.4 76.3 510.2 79.3 510.6 81.3 511.1 84.3 511.3 86.3 511.5 89.3 511.6 92.3 511.7 95.3 511.9 98.3 512.1 101.3 512.4 103.3 512.9 106.3 513.4 108.3 514.1 111.3 514.7 113.3 515.3 115.3 516.3 118.2 517.1 120.3 518 122.3 519 124.3 520.1 126.3 521.3 128.1 522.3 129.6 523.5 131.3 525 133.3 526.3 134.9 527.4 136.3 529.3 138.3 530.3 139.3 532.3 141 534.1 142.3 535.9 143.3 538.2 144.3 540.3 145 542.3 145.4 545.3 145.8 548.3 146 551.3 146.1 554.3 146 557.3 145.8 560.3 145.6 563.3 145.3 565.3 145.2 568.3 145 571.3 144.9 574.3 145 577.3 145.3 579.3 145.5 582.3 145.9 585.2 146.3 587.3 146.6 590.3 147.1 592.3 147.4 595.3 147.8 598.3 148.3 600.3 148.5 603.3 148.9 606.3 149.2 608.3 149.4 611.3 149.7 614.3 149.9 617.3 150.1 619.6 150.3 622.3 150.5 625.3 150.7 628.3 150.9 631.3 151.1 634.3 151.3 636.3 151.4 639.3 151.6 640.2 151.6 M430.3 160.5 433.3 160.8 436.3 161.1 438.3 161.4 441.3 162 443.3 162.5 445.5 163.3 447.5 164.3 449.3 165.4 451.3 166.8 453.1 168.3 454.3 169.3 456.3 170.9 458 172.3 459.4 173.3 461.3 174.7 463.3 176.1 465 177.3 466.4 178.3 468.3 179.7 470.3 181.2 471.7 182.3 473.3 183.7 475 185.3 476.3 186.6 477.9 188.3 479.3 189.8 480.6 191.3 482.3 193.3 483.3 194.4 484.9 196.3 486.3 197.9 487.4 199.3 489 201.3 490.3 203 491.3 204.4 492.5 206.3 493.6 208.3 494.5 210.3 495.3 212.8 495.9 215.3 496.3 218.1 496.5 220.3 496.5 223.3 496.5 226.5" stroke="#000" stroke-width=".5" fill="none" opacity=".78" stroke-dasharray="2 2 2 2 2 4"/>
<path d="M633.9 16.3 634.3 18.9 635 21.3 636.1 23.3 637.3 24.5 639.3 25.6 640.2 25.9 M617.3 36.2 615.3 37 613.3 38.3 612.2 39.3 610.3 41.2 609.3 42.3 607.3 44.3 606.3 45.3 604.3 47.1 603.1 48.3 601.3 50.3 600.3 51.7 599.3 53.3 598.3 55.5 597.5 58.3 597.1 60.3 596.9 63.3 597 66.3 597.3 69.3 597.7 71.3 598.3 73.3 599.3 75.4 600.5 77.3 602.1 79.3 603.3 80.4 605.3 82.1 607 83.3 608.5 84.3 610.3 85.4 612.3 86.4 615.1 87.3 617.3 87.4 619.3 87.1 621.6 86.3 623.5 85.3 625.3 84.2 627.3 82.9 629.3 81.5 630.7 80.3 632.3 78.8 633.7 77.3 635.1 75.3 636.3 73.3 637.3 71.3 638.2 69.3 638.9 67.3 639.4 65.3 639.7 62.3 639.4 59.3 638.8 57.3 637.9 55.3 636.6 53.3 635.3 51.6 634.2 50.3 632.3 48.4 631.2 47.3 629.3 45.3 628.3 44.2 626.8 42.3 625.5 40.3 624.3 38.7 622.9 37.3 621 36.3 618.3 36 617.3 36.2 M482.6 16.3 482.8 19.3 483.2 22.3 483.5 24.3 483.9 27.3 484.3 30.3 484.6 32.3 485 35.3 485.3 37.9 485.6 40.3 486 43.3 486.3 45.3 486.7 48.3 487.2 51.3 487.5 53.3 488 56.3 488.3 58.3 488.8 61.3 489.3 64 489.7 66.3 490.2 69.3 490.6 71.3 491.1 74.3 491.5 76.3 492.1 79.3 492.6 81.3 493.3 84.3 493.8 86.3 494.3 88.3 495.3 91.3 495.9 93.3 496.6 95.3 497.3 97.4 498.3 100.3 499 102.3 499.7 104.3 500.5 106.3 501.4 108.3 502.3 110.3 503.4 112.3 504.4 114.3 505.5 116.3 506.6 118.3 507.6 120.3 508.7 122.3 509.7 124.3 510.7 126.3 511.7 128.3 512.7 130.3 513.7 132.3 514.6 134.3 515.4 136.3 516.3 138.7 517.1 141.3 517.5 143.3 517.9 146.3 517.9 149.3 517.5 152.3 517 154.3 516.3 156.5 515.3 159.3 514.8 161.3 514.3 164.3 514.8 167.3 515.9 169.3 517.3 170.9 519.2 172.3 521.3 173.3 523.3 173.9 526.3 174.2 529.3 174 532.3 173.5 534.3 173.1 537.2 172.3 539.3 171.6 541.3 170.7 543.3 169.7 545.3 168.4 547 167.3 548.4 166.3 550.3 165 552.3 163.8 554.3 162.7 556.3 161.7 558.3 160.9 560.3 160.1 563 159.3 565.3 158.7 567.5 158.3 570.3 157.9 573.3 157.8 576.3 157.8 579.3 158 582 158.3 584.3 158.6 587.3 159 589.7 159.3 592.3 159.7 595.3 160.1 597.3 160.4 600.3 160.9 603.3 161.3 605.3 161.5 608.3 161.9 611.3 162.2 613.3 162.4 616.3 162.7 619.3 163.1 621.3 163.3 624.3 163.7 627.3 164 629.8 164.3 632.3 164.6 635.3 164.9 638.3 165.2 640.2 165.4 M430.3 166.2 432.3 166.4 435.3 166.8 438.1 167.3 440.3 167.8 442.3 168.3 444.9 169.3 447 170.3 448.9 171.3 450.6 172.3 452.3 173.3 454.3 174.5 456.3 175.7 458.3 177 460.3 178.2 461.9 179.3 463.4 180.3 465.3 181.7 467.3 183.2 468.7 184.3 470.3 185.6 472.3 187.3 473.5 188.3 475.3 189.9 476.7 191.3 478.3 192.8 479.7 194.3 481.3 196.1 482.3 197.3 483.9 199.3 485.3 201.2 486.3 202.6 487.3 204.3 488.4 206.3 489.3 208.3 490.3 211.2 490.8 213.3 491.2 216.3 491.3 219.2 491.3 220.3 491.1 223.3 491 226.5" stroke="#000" stroke-width=".5" fill="none" opacity=".78" stroke-dasharray="2 2 2 2 2 2 2 4"/>
<path d="M630.8 16.3 630.8 19.3 630.7 22.3 630.5 25.3 630.3 27.3 628.3 28.9 625.3 29.3 623.3 29.6 620.3 30.2 618.3 30.8 616.3 31.6 614.3 32.7 612.3 34.1 610.9 35.3 609.3 36.8 607.8 38.3 606.3 39.9 605 41.3 603.3 43 602.1 44.3 600.3 46.2 599.3 47.3 597.7 49.3 596.4 51.3 595.4 53.3 594.6 55.3 594 57.3 593.5 60.3 593.3 62.3 593 65.3 592.8 68.3 592.8 71.3 593.1 74.3 593.6 76.3 594.3 78.4 595.3 80.5 596.4 82.3 597.9 84.3 599.3 85.8 600.9 87.3 602.3 88.4 604.3 89.8 606.3 91 608.3 92 610.3 92.8 612.3 93.3 615.3 93.8 618.3 93.7 620.8 93.3 623.3 92.6 625.3 91.7 627.3 90.7 629.3 89.6 631.3 88.3 632.7 87.3 634.3 86.1 636.3 84.4 637.5 83.3 639.3 81.8 640.2 81.1 M640.2 47.2 638.3 46.2 636.3 44.7 634.9 43.3 633.4 41.3 632.3 39.3 631.6 37.3 631.1 35.3 630.7 32.3 631.3 29.8 634.3 29.5 637.3 29.9 640.2 30.3 M467.9 16.3 468 19.3 468.1 22.3 468.2 25.3 468.3 28.3 468.3 30.3 468.5 33.3 468.6 36.3 468.9 39.3 469.2 42.3 469.4 44.3 469.9 47.3 470.3 50.1 470.7 52.3 471.2 55.3 471.5 57.3 472 60.3 472.3 62.4 472.7 65.3 473.2 68.3 473.5 70.3 473.9 73.3 474.3 75.9 474.7 78.3 475.2 81.3 475.6 83.3 476.3 86 477 88.3 477.7 90.3 478.4 92.3 479.3 94.3 480.3 96.5 481.3 98.6 482.3 100.5 483.3 102.4 484.4 104.3 485.6 106.3 486.8 108.3 488 110.3 489.3 112.3 490.3 113.8 491.3 115.3 492.7 117.3 494 119.3 495.3 121.2 496.3 122.7 497.3 124.3 498.5 126.3 499.6 128.3 500.5 130.3 501.4 132.3 502.2 135.3 502.6 137.3 502.9 140.3 503 143.3 502.7 146.3 502.3 149.3 502 151.3 501.6 154.3 501.3 156.3 501 159.3 500.9 162.3 501.1 165.3 501.4 167.3 502.3 170.1 503.3 172.3 504.3 173.9 505.3 175.3 507.3 177.3 508.5 178.3 510.3 179.5 512.3 180.6 514.3 181.5 516.4 182.3 519.3 183.1 521.3 183.5 524.3 183.8 527.3 183.9 530.3 183.7 533.3 183.5 535.3 183.3 538.3 183 541.3 182.6 543.8 182.3 546.3 181.9 548.8 181.3 551.3 180.6 553.3 179.9 555.3 179.2 557.7 178.3 560.3 177.4 562.3 176.7 564.3 176.1 567.2 175.3 569.3 174.8 572 174.3 574.3 174 577.3 173.7 580.3 173.6 583.3 173.6 586.3 173.8 589.3 174.1 591.3 174.4 594.3 174.7 597.3 175 600.3 175.2 602.3 175.4 605.3 175.8 608.3 176.1 610.3 176.4 613.3 176.8 616.3 177.2 618.3 177.4 621.3 177.6 624.3 177.8 627.3 178 629.8 178.3 632.3 178.6 635.3 179 637.7 179.3 640.2 179.5 M430.3 171.6 433.3 171.9 435.7 172.3 438.3 172.8 440.5 173.3 443.3 174.1 445.3 174.8 447.3 175.5 449.3 176.4 451.5 177.3 453.6 178.3 455.7 179.3 457.6 180.3 459.3 181.3 461.3 182.6 463.3 184 465 185.3 466.3 186.4 468.3 188 469.9 189.3 471.3 190.4 473.3 192 474.8 193.3 476.3 194.6 478 196.3 479.3 197.7 480.6 199.3 482.1 201.3 483.3 203.3 484.3 205.2 485.2 207.3 485.8 209.3 486.3 211.3 486.7 214.3 486.8 217.3 486.6 220.3 486.3 222.3 485.8 225.3 485.7 226.5" stroke="#000" stroke-width=".5" fill="none" opacity=".78"/>
<path d="M433.09 230.4v-5.5 M433.09 4.3v5.5 M454.78 230.4v-5.5 M454.78 4.3v5.5 M476.47 230.4v-5.5 M476.47 4.3v5.5 M498.16 230.4v-5.5 M498.16 4.3v5.5 M519.85 230.4v-5.5 M519.85 4.3v5.5 M541.55 230.4v-5.5 M541.55 4.3v5.5 M563.24 230.4v-5.5 M563.24 4.3v5.5 M584.93 230.4v-5.5 M584.93 4.3v5.5 M606.62 230.4v-5.5 M606.62 4.3v5.5 M628.31 230.4v-5.5 M628.31 4.3v5.5 M415.74 230.4v-2.8 M415.74 4.3v2.8 M420.08 230.4v-2.8 M420.08 4.3v2.8 M424.41 230.4v-2.8 M424.41 4.3v2.8 M428.75 230.4v-2.8 M428.75 4.3v2.8 M437.43 230.4v-2.8 M437.43 4.3v2.8 M441.77 230.4v-2.8 M441.77 4.3v2.8 M446.11 230.4v-2.8 M446.11 4.3v2.8 M450.44 230.4v-2.8 M450.44 4.3v2.8 M459.12 230.4v-2.8 M459.12 4.3v2.8 M463.46 230.4v-2.8 M463.46 4.3v2.8 M467.8 230.4v-2.8 M467.8 4.3v2.8 M472.13 230.4v-2.8 M472.13 4.3v2.8 M480.81 230.4v-2.8 M480.81 4.3v2.8 M485.15 230.4v-2.8 M485.15 4.3v2.8 M489.49 230.4v-2.8 M489.49 4.3v2.8 M493.83 230.4v-2.8 M493.83 4.3v2.8 M502.5 230.4v-2.8 M502.5 4.3v2.8 M506.84 230.4v-2.8 M506.84 4.3v2.8 M511.18 230.4v-2.8 M511.18 4.3v2.8 M515.52 230.4v-2.8 M515.52 4.3v2.8 M524.19 230.4v-2.8 M524.19 4.3v2.8 M528.53 230.4v-2.8 M528.53 4.3v2.8 M532.87 230.4v-2.8 M532.87 4.3v2.8 M537.21 230.4v-2.8 M537.21 4.3v2.8 M545.88 230.4v-2.8 M545.88 4.3v2.8 M550.22 230.4v-2.8 M550.22 4.3v2.8 M554.56 230.4v-2.8 M554.56 4.3v2.8 M558.9 230.4v-2.8 M558.9 4.3v2.8 M567.57 230.4v-2.8 M567.57 4.3v2.8 M571.91 230.4v-2.8 M571.91 4.3v2.8 M576.25 230.4v-2.8 M576.25 4.3v2.8 M580.59 230.4v-2.8 M580.59 4.3v2.8 M589.27 230.4v-2.8 M589.27 4.3v2.8 M593.6 230.4v-2.8 M593.6 4.3v2.8 M597.94 230.4v-2.8 M597.94 4.3v2.8 M602.28 230.4v-2.8 M602.28 4.3v2.8 M610.96 230.4v-2.8 M610.96 4.3v2.8 M615.29 230.4v-2.8 M615.29 4.3v2.8 M619.63 230.4v-2.8 M619.63 4.3v2.8 M623.97 230.4v-2.8 M623.97 4.3v2.8 M632.65 230.4v-2.8 M632.65 4.3v2.8 M636.99 230.4v-2.8 M636.99 4.3v2.8 M641.32 230.4v-2.8 M641.32 4.3v2.8 M645.66 230.4v-2.8 M645.66 4.3v2.8 M411.4 32.56h5.5 M650 32.56h-5.5 M411.4 60.82h5.5 M650 60.82h-5.5 M411.4 89.09h5.5 M650 89.09h-5.5 M411.4 117.35h5.5 M650 117.35h-5.5 M411.4 145.61h5.5 M650 145.61h-5.5 M411.4 173.88h5.5 M650 173.88h-5.5 M411.4 202.14h5.5 M650 202.14h-5.5 M411.4 9.95h2.8 M650 9.95h-2.8 M411.4 15.61h2.8 M650 15.61h-2.8 M411.4 21.26h2.8 M650 21.26h-2.8 M411.4 26.91h2.8 M650 26.91h-2.8 M411.4 38.21h2.8 M650 38.21h-2.8 M411.4 43.87h2.8 M650 43.87h-2.8 M411.4 49.52h2.8 M650 49.52h-2.8 M411.4 55.17h2.8 M650 55.17h-2.8 M411.4 66.48h2.8 M650 66.48h-2.8 M411.4 72.13h2.8 M650 72.13h-2.8 M411.4 77.78h2.8 M650 77.78h-2.8 M411.4 83.44h2.8 M650 83.44h-2.8 M411.4 94.74h2.8 M650 94.74h-2.8 M411.4 100.39h2.8 M650 100.39h-2.8 M411.4 106.04h2.8 M650 106.04h-2.8 M411.4 111.7h2.8 M650 111.7h-2.8 M411.4 123h2.8 M650 123h-2.8 M411.4 128.66h2.8 M650 128.66h-2.8 M411.4 134.31h2.8 M650 134.31h-2.8 M411.4 139.96h2.8 M650 139.96h-2.8 M411.4 151.26h2.8 M650 151.26h-2.8 M411.4 156.92h2.8 M650 156.92h-2.8 M411.4 162.57h2.8 M650 162.57h-2.8 M411.4 168.22h2.8 M650 168.22h-2.8 M411.4 179.53h2.8 M650 179.53h-2.8 M411.4 185.18h2.8 M650 185.18h-2.8 M411.4 190.83h2.8 M650 190.83h-2.8 M411.4 196.49h2.8 M650 196.49h-2.8 M411.4 207.79h2.8 M650 207.79h-2.8 M411.4 213.44h2.8 M650 213.44h-2.8 M411.4 219.09h2.8 M650 219.09h-2.8 M411.4 224.75h2.8 M650 224.75h-2.8" stroke="#000" stroke-width=".85" fill="none"/>
<rect x="411.4" y="4.3" width="238.6" height="226.1" fill="none" stroke="#000" stroke-width="1"/>
<rect x="656.2" y="4.3" width="12.2" height="226.1" fill="url(#cb2)" stroke="#000" stroke-width="1"/>
<path d="M656.2 29.42h3.5M668.4 29.42h-3.5 M656.2 54.54h3.5M668.4 54.54h-3.5 M656.2 79.67h3.5M668.4 79.67h-3.5 M656.2 104.79h3.5M668.4 104.79h-3.5 M656.2 129.91h3.5M668.4 129.91h-3.5 M656.2 155.03h3.5M668.4 155.03h-3.5 M656.2 180.16h3.5M668.4 180.16h-3.5 M656.2 205.28h3.5M668.4 205.28h-3.5" stroke="#000" stroke-width="1" fill="none"/>
<g>
<text transform="translate(52.9 245.6) scale(0.935 1)" text-anchor="middle">1.8</text>
<text transform="translate(82.46 245.6) scale(0.935 1)" text-anchor="middle">1.81</text>
<text transform="translate(112.02 245.6) scale(0.935 1)" text-anchor="middle">1.82</text>
<text transform="translate(141.59 245.6) scale(0.935 1)" text-anchor="middle">1.83</text>
<text transform="translate(171.15 245.6) scale(0.935 1)" text-anchor="middle">1.84</text>
<text transform="translate(200.71 245.6) scale(0.935 1)" text-anchor="middle">1.85</text>
<text transform="translate(230.28 245.6) scale(0.935 1)" text-anchor="middle">1.86</text>
<text transform="translate(259.84 245.6) scale(0.935 1)" text-anchor="middle">1.87</text>
<text transform="translate(289.4 245.6) scale(0.935 1)" text-anchor="middle">1.88</text>
<text transform="translate(45.8 8.9) scale(0.935 1)" text-anchor="end">1.09</text>
<text transform="translate(45.8 36.11) scale(0.935 1)" text-anchor="end">1.08</text>
<text transform="translate(45.8 63.32) scale(0.935 1)" text-anchor="end">1.07</text>
<text transform="translate(45.8 90.54) scale(0.935 1)" text-anchor="end">1.06</text>
<text transform="translate(45.8 117.75) scale(0.935 1)" text-anchor="end">1.05</text>
<text transform="translate(45.8 144.96) scale(0.935 1)" text-anchor="end">1.04</text>
<text transform="translate(45.8 172.17) scale(0.935 1)" text-anchor="end">1.03</text>
<text transform="translate(45.8 199.39) scale(0.935 1)" text-anchor="end">1.02</text>
<text transform="translate(45.8 226.6) scale(0.935 1)" text-anchor="end">1.01</text>
<text transform="translate(313.6 8.7) scale(0.935 1)">0.168</text>
<text transform="translate(313.6 36.61) scale(0.935 1)">0.167</text>
<text transform="translate(313.6 64.53) scale(0.935 1)">0.166</text>
<text transform="translate(313.6 92.44) scale(0.935 1)">0.165</text>
<text transform="translate(313.6 120.35) scale(0.935 1)">0.164</text>
<text transform="translate(313.6 148.26) scale(0.935 1)">0.163</text>
<text transform="translate(313.6 176.18) scale(0.935 1)">0.162</text>
<text transform="translate(313.6 204.09) scale(0.935 1)">0.161</text>
<text transform="translate(313.6 232) scale(0.935 1)">0.16</text>
<text transform="translate(413 246.2) scale(0.935 1)" text-anchor="middle">1.805</text>
<text transform="translate(434.69 246.2) scale(0.935 1)" text-anchor="middle">1.81</text>
<text transform="translate(456.38 246.2) scale(0.935 1)" text-anchor="middle">1.815</text>
<text transform="translate(478.07 246.2) scale(0.935 1)" text-anchor="middle">1.82</text>
<text transform="translate(499.76 246.2) scale(0.935 1)" text-anchor="middle">1.825</text>
<text transform="translate(521.45 246.2) scale(0.935 1)" text-anchor="middle">1.83</text>
<text transform="translate(543.15 246.2) scale(0.935 1)" text-anchor="middle">1.835</text>
<text transform="translate(564.84 246.2) scale(0.935 1)" text-anchor="middle">1.84</text>
<text transform="translate(586.53 246.2) scale(0.935 1)" text-anchor="middle">1.845</text>
<text transform="translate(608.22 246.2) scale(0.935 1)" text-anchor="middle">1.85</text>
<text transform="translate(629.91 246.2) scale(0.935 1)" text-anchor="middle">1.855</text>
<text transform="translate(651.6 246.2) scale(0.935 1)" text-anchor="middle">1.86</text>
<text transform="translate(405.8 8.2) scale(0.935 1)" text-anchor="end">0.98</text>
<text transform="translate(405.8 36.46) scale(0.935 1)" text-anchor="end">0.97</text>
<text transform="translate(405.8 64.72) scale(0.935 1)" text-anchor="end">0.96</text>
<text transform="translate(405.8 92.99) scale(0.935 1)" text-anchor="end">0.95</text>
<text transform="translate(405.8 121.25) scale(0.935 1)" text-anchor="end">0.94</text>
<text transform="translate(405.8 149.51) scale(0.935 1)" text-anchor="end">0.93</text>
<text transform="translate(405.8 177.78) scale(0.935 1)" text-anchor="end">0.92</text>
<text transform="translate(405.8 206.04) scale(0.935 1)" text-anchor="end">0.91</text>
<text transform="translate(405.8 234.3) scale(0.935 1)" text-anchor="end">0.9</text>
<text transform="translate(674.4 8) scale(0.935 1)">0.186</text>
<text transform="translate(674.4 33.12) scale(0.935 1)">0.184</text>
<text transform="translate(674.4 58.24) scale(0.935 1)">0.182</text>
<text transform="translate(674.4 83.37) scale(0.935 1)">0.18</text>
<text transform="translate(674.4 108.49) scale(0.935 1)">0.178</text>
<text transform="translate(674.4 133.61) scale(0.935 1)">0.176</text>
<text transform="translate(674.4 158.73) scale(0.935 1)">0.174</text>
<text transform="translate(674.4 183.86) scale(0.935 1)">0.172</text>
<text transform="translate(674.4 208.98) scale(0.935 1)">0.17</text>
<text transform="translate(674.4 234.1) scale(0.935 1)">0.168</text>
<text x="169.5" y="262.8" text-anchor="middle" style="font-size:14.6px">R<tspan style="font-size:11.8px" dy="4.3">2</tspan><tspan dy="-4.3">/R</tspan><tspan style="font-size:11.8px" dy="4.3">1</tspan></text>
<text x="11" y="116.5" text-anchor="middle" style="font-size:14.6px" transform="rotate(-90 11 116.5)">T<tspan style="font-size:11.8px" dy="4.3">2</tspan><tspan dy="-4.3">/T</tspan><tspan style="font-size:11.8px" dy="4.3">1</tspan></text>
<text x="530.7" y="261.6" text-anchor="middle" style="font-size:14.6px">R<tspan style="font-size:11.8px" dy="4.3">2</tspan><tspan dy="-4.3">/R</tspan><tspan style="font-size:11.8px" dy="4.3">1</tspan></text>
<text x="374.4" y="117" text-anchor="middle" style="font-size:14.6px" transform="rotate(-90 374.4 117)">T<tspan style="font-size:11.8px" dy="4.3">2</tspan><tspan dy="-4.3">/T</tspan><tspan style="font-size:11.8px" dy="4.3">1</tspan></text>
</g>
</svg>
</body></html>
